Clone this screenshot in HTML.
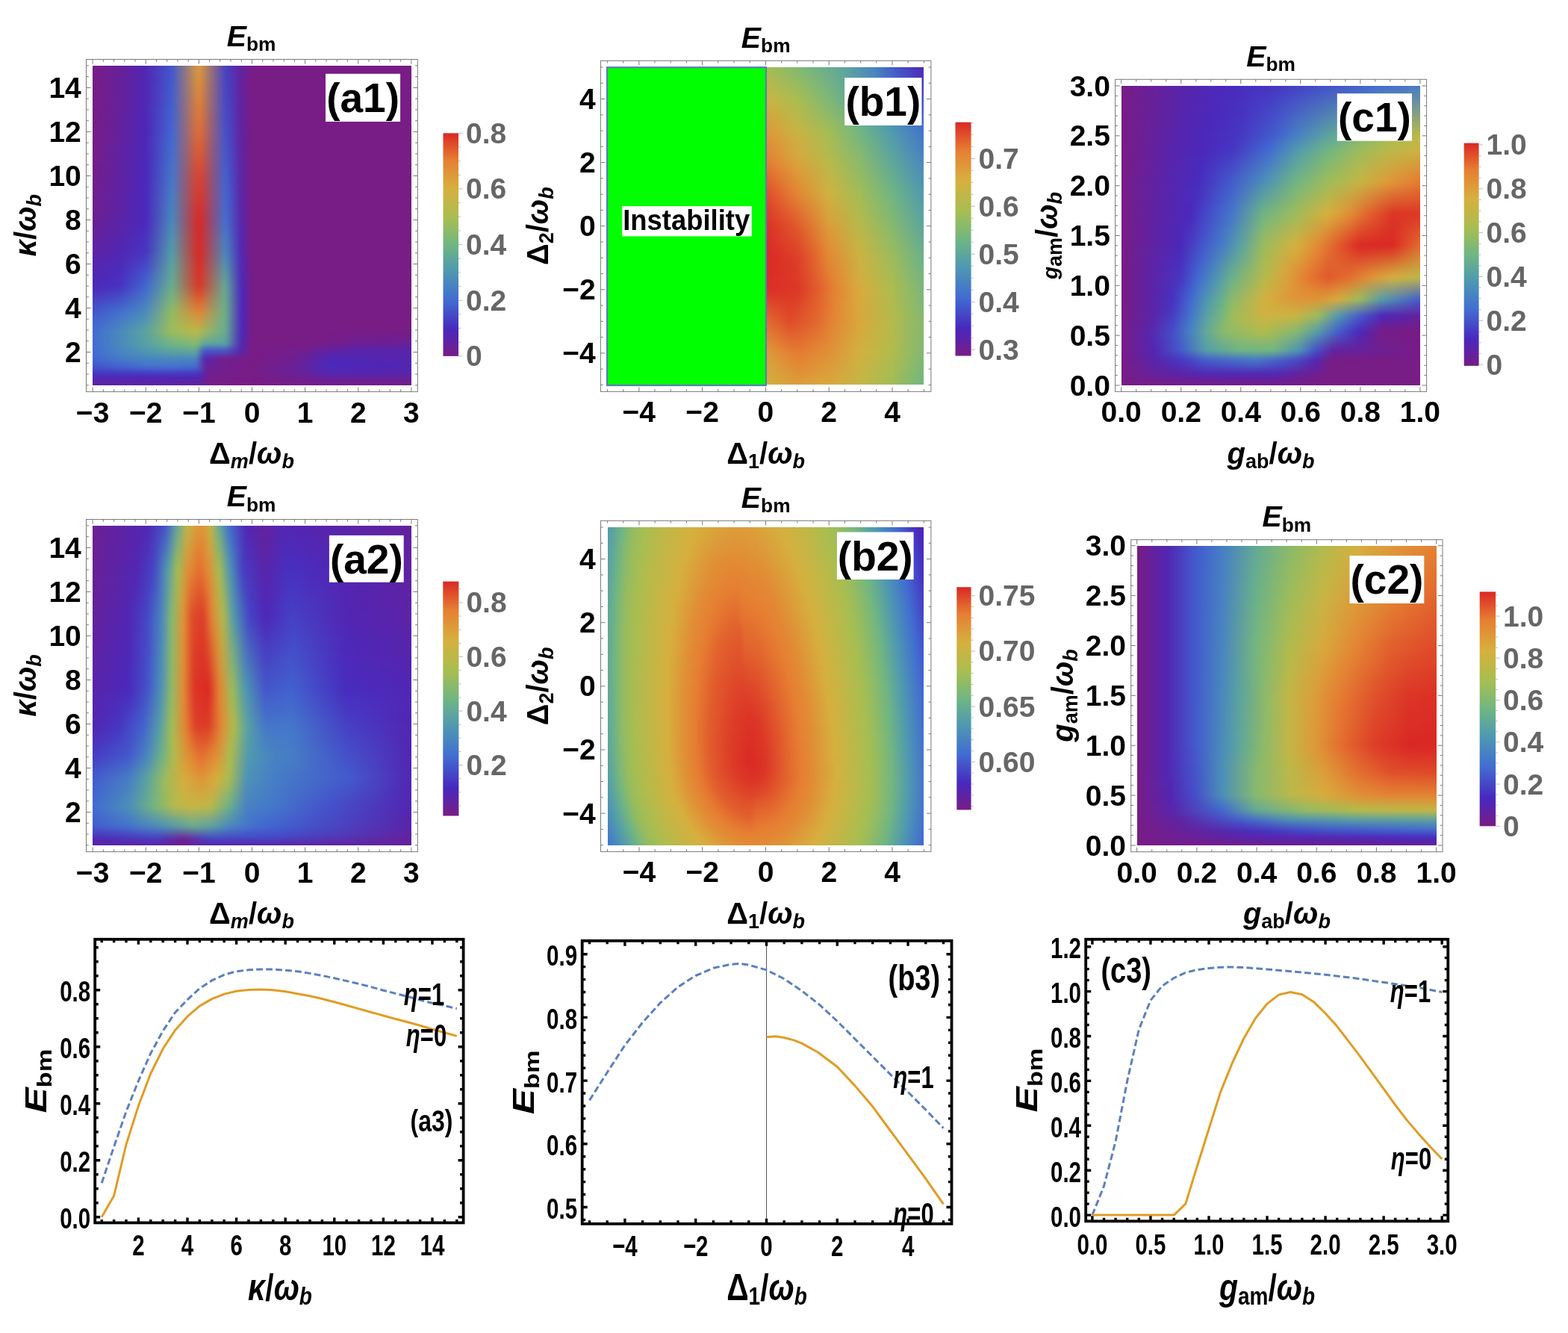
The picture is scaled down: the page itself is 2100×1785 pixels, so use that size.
<!DOCTYPE html><html><head><meta charset="utf-8"><title>Figure</title><style>html,body{margin:0;padding:0;background:#fff}#fig{position:relative;width:2100px;height:1785px;overflow:hidden;background:#fff;font-family:'Liberation Sans', Arial, sans-serif}.dp{position:absolute;overflow:hidden}.dpi{position:absolute}.dpi i{position:absolute;left:0;right:0;display:block}svg{position:absolute;left:0;top:0}</style></head><body><div id="fig"><div class="dp" style="left:124.1px;top:87.9px;width:426.8px;height:427.9px"><div class="dpi" style="left:-8px;top:-8px;width:442.8px;height:443.9px;filter:blur(2.2px)"><i style="top:0px;height:6.15px;background:linear-gradient(90deg,#781c86,#781c86 1.67%,#682098 10%,#5325b2 17.5%,#4356cb 25.83%,#d19744 33.33%,#d8993d 34.17%,#4b44c0 41.67%,#493dc1 42.5%,#64229d 46.67%,#781c86 50%,#781c86)"></i><i style="top:5.55px;height:6.15px;background:linear-gradient(90deg,#781c86,#781c86 1.67%,#682098 10%,#5325b2 17.5%,#4356cb 25.83%,#6264af 27.5%,#d19744 33.33%,#d8993d 34.17%,#4b44c0 41.67%,#493dc1 42.5%,#64229d 46.67%,#781c86 50%,#781c86)"></i><i style="top:11.1px;height:6.15px;background:linear-gradient(90deg,#781c86,#751d89 3.33%,#682099 10%,#5225b2 17.5%,#4357cc 25.83%,#d19444 33.33%,#d9963d 34.17%,#4b45c0 41.67%,#493ec1 42.5%,#64229e 46.67%,#781c86 50%,#781c86)"></i><i style="top:16.65px;height:6.15px;background:linear-gradient(90deg,#781c86,#781c86 1.67%,#682099 10%,#5225b2 17.5%,#4358cc 25.83%,#d29143 33.33%,#d9943c 34.17%,#4b46c0 41.67%,#493fc1 42.5%,#64229e 46.67%,#781c86 50%,#781c86)"></i><i style="top:22.2px;height:6.15px;background:linear-gradient(90deg,#781c86,#771c88 2.5%,#672099 10%,#5226b2 17.5%,#4d33ba 20%,#4359cc 25.83%,#d28f42 33.33%,#d9913b 34.17%,#4b47c1 41.67%,#4940c2 42.5%,#63229e 46.67%,#781c86 50%,#781c86)"></i><i style="top:27.74px;height:6.15px;background:linear-gradient(90deg,#781c86,#781c86 1.67%,#692097 9.17%,#5226b3 17.5%,#4e2eb8 19.17%,#435acd 25.83%,#d38c42 33.33%,#da8e3b 34.17%,#4b47c1 41.67%,#4841c2 42.5%,#63229f 46.67%,#781c86 50%,#781c86)"></i><i style="top:33.29px;height:6.15px;background:linear-gradient(90deg,#781c86,#781c86 1.67%,#67209a 10%,#5126b3 17.5%,#5029b6 18.33%,#435bcd 25.83%,#d38941 33.33%,#da8b3a 34.17%,#4b48c1 41.67%,#4842c2 42.5%,#63229f 46.67%,#781c86 50%,#781c86)"></i><i style="top:38.84px;height:6.15px;background:linear-gradient(90deg,#781c86,#781c86 1.67%,#67209a 10%,#5126b3 17.5%,#4f29b6 18.33%,#435ccd 25.83%,#d38741 33.33%,#db883a 34.17%,#4b49c2 41.67%,#4843c3 42.5%,#63229f 46.67%,#781c86 50%,#781c86)"></i><i style="top:44.39px;height:6.15px;background:linear-gradient(90deg,#781c86,#771c88 2.5%,#66209a 10%,#5126b4 17.5%,#4f29b6 18.33%,#435dce 25.83%,#5161bf 26.67%,#d48440 33.33%,#db8539 34.17%,#4b4ac2 41.67%,#4843c3 42.5%,#62229f 46.67%,#781c86 50%,#781c86)"></i><i style="top:49.94px;height:6.15px;background:linear-gradient(90deg,#781c86,#771c88 2.5%,#682098 9.17%,#5126b4 17.5%,#4f29b6 18.33%,#435ece 25.83%,#5162bf 26.67%,#d48140 33.33%,#dc8238 34.17%,#4a4bc2 41.67%,#4844c3 42.5%,#6222a0 46.67%,#781c86 50%,#781c86)"></i><i style="top:55.49px;height:6.15px;background:linear-gradient(90deg,#781c86,#781c86 1.67%,#6d1f92 6.67%,#64219e 10.83%,#5026b4 17.5%,#4f29b7 18.33%,#425fce 25.83%,#d57f3f 33.33%,#dc8038 34.17%,#4a4cc2 41.67%,#4845c3 42.5%,#6222a0 46.67%,#781c86 50%,#781c86)"></i><i style="top:61.04px;height:6.15px;background:linear-gradient(90deg,#781c86,#781c86 1.67%,#6f1e90 5.83%,#66219b 10%,#5026b4 17.5%,#4260ce 25.83%,#d57c3f 33.33%,#dc7d37 34.17%,#4a4dc3 41.67%,#4846c4 42.5%,#6222a0 46.67%,#781c86 50%,#781c86)"></i><i style="top:66.59px;height:6.15px;background:linear-gradient(90deg,#781c86,#781c86 1.67%,#672099 9.17%,#5026b5 17.5%,#4261cf 25.83%,#d5793e 33.33%,#dd7a37 34.17%,#4a4ec3 41.67%,#4847c4 42.5%,#6123a1 46.67%,#781c86 50%,#781c86)"></i><i style="top:72.13px;height:6.15px;background:linear-gradient(90deg,#781c86,#781c86 1.67%,#711e8e 5%,#5026b5 17.5%,#4d30ba 19.17%,#4262cf 25.83%,#d6773d 33.33%,#dd7736 34.17%,#4a4ec3 41.67%,#4748c4 42.5%,#6123a1 46.67%,#781c86 50%,#781c86)"></i><i style="top:77.68px;height:6.15px;background:linear-gradient(90deg,#781c86,#781c86 1.67%,#731d8c 4.17%,#5026b5 17.5%,#4c30bb 19.17%,#4263cf 25.83%,#d6743d 33.33%,#de7435 34.17%,#4a4fc3 41.67%,#4749c5 42.5%,#6123a1 46.67%,#781c86 50%,#781c86)"></i><i style="top:83.23px;height:6.15px;background:linear-gradient(90deg,#781c86,#781c86 1.67%,#6b1f95 7.5%,#4f26b6 17.5%,#4c30bb 19.17%,#4264d0 25.83%,#d7713c 33.33%,#de7135 34.17%,#4a50c4 41.67%,#474ac5 42.5%,#6123a1 46.67%,#781c86 50%,#781c86)"></i><i style="top:88.78px;height:6.15px;background:linear-gradient(90deg,#781c86,#781c86 1.67%,#6d1f93 6.67%,#4f26b6 17.5%,#4d2ab8 18.33%,#4265d0 25.83%,#d76f3c 33.33%,#df6f34 34.17%,#4a51c4 41.67%,#474bc5 42.5%,#6023a2 46.67%,#781c86 50%,#781c86)"></i><i style="top:94.33px;height:6.15px;background:linear-gradient(90deg,#781c86,#741d8a 3.33%,#4f26b6 17.5%,#4d2ab9 18.33%,#4266d0 25.83%,#d76c3b 33.33%,#df6c34 34.17%,#4a52c4 41.67%,#474cc6 42.5%,#6023a2 46.67%,#781c86 50%,#781c86)"></i><i style="top:99.88px;height:6.15px;background:linear-gradient(90deg,#781c86,#761d88 2.5%,#64219d 10%,#4e26b7 17.5%,#4d2ab9 18.33%,#4268d0 25.83%,#d7683b 33.33%,#de6833 34.17%,#4a53c5 41.67%,#474dc6 42.5%,#6023a2 46.67%,#781c86 50%,#781c86)"></i><i style="top:105.43px;height:6.15px;background:linear-gradient(90deg,#771c87,#771c87 1.67%,#721e8d 4.17%,#4e26b7 17.5%,#4269cf 25.83%,#d6653a 33.33%,#de6432 34.17%,#4955c5 41.67%,#474ec6 42.5%,#5f23a3 46.67%,#781c86 50%,#781c86)"></i><i style="top:110.97px;height:6.15px;background:linear-gradient(90deg,#771c87,#751d89 2.5%,#4e27b7 17.5%,#4c2bba 18.33%,#426bce 25.83%,#6269af 27.5%,#d66239 33.33%,#dd6032 34.17%,#4956c5 41.67%,#4650c7 42.5%,#5f23a3 46.67%,#781c86 50%,#781c86)"></i><i style="top:116.52px;height:6.15px;background:linear-gradient(90deg,#771c88,#771c88 1.67%,#711e8e 4.17%,#4d27b8 17.5%,#4c2bba 18.33%,#436cce 25.83%,#d55e39 33.33%,#dd5d31 34.17%,#4957c6 41.67%,#4651c7 42.5%,#5f23a4 46.67%,#781c86 50%,#781c86)"></i><i style="top:122.07px;height:6.15px;background:linear-gradient(90deg,#761c88,#731d8c 3.33%,#4d27b8 17.5%,#4b2bbb 18.33%,#436ecd 25.83%,#d55b38 33.33%,#dc5931 34.17%,#4959c6 41.67%,#4653c8 42.5%,#5e24a4 46.67%,#781c86 50%,#781c86)"></i><i style="top:127.62px;height:6.15px;background:linear-gradient(90deg,#761d89,#761d89 1.67%,#6e1e91 5%,#4d27b9 17.5%,#4b2bbb 18.33%,#436fcd 25.83%,#d55737 33.33%,#dc5530 34.17%,#495ac7 41.67%,#4654c8 42.5%,#5e24a4 46.67%,#781c86 50%,#781c86)"></i><i style="top:133.17px;height:6.15px;background:linear-gradient(90deg,#751d89,#721e8d 3.33%,#4c27b9 17.5%,#4b2bbb 18.33%,#4371cc 25.83%,#d45437 33.33%,#db522f 34.17%,#495bc7 41.67%,#4655c9 42.5%,#5e24a5 46.67%,#781c86 50%,#781c86)"></i><i style="top:138.72px;height:6.15px;background:linear-gradient(90deg,#751d89,#731d8b 2.5%,#4c27b9 17.5%,#4a33bd 19.17%,#4472cc 25.83%,#626bac 27.5%,#d45036 33.33%,#db4e2f 34.17%,#485dc8 41.67%,#4657c9 42.5%,#5d24a5 46.67%,#781c86 50%,#781c86)"></i><i style="top:144.27px;height:6.15px;background:linear-gradient(90deg,#751d8a,#751d8a 1.67%,#6f1e90 4.17%,#4c27ba 17.5%,#4a2cbc 18.33%,#4474cb 25.83%,#d34d36 33.33%,#da4a2e 34.17%,#485ec8 41.67%,#4558ca 42.5%,#5d24a6 46.67%,#781c86 50%,#781c86)"></i><i style="top:149.82px;height:6.15px;background:linear-gradient(90deg,#741d8a,#741d8a 1.67%,#6b1f95 5.83%,#4b27ba 17.5%,#4a2cbc 18.33%,#4475ca 25.83%,#d34935 33.33%,#da462e 34.17%,#485fc8 41.67%,#4559ca 42.5%,#5d24a6 46.67%,#781c86 50%,#781c86)"></i><i style="top:155.37px;height:6.15px;background:linear-gradient(90deg,#741d8b,#741d8b 1.67%,#6e1e91 4.17%,#4b27bb 17.5%,#4934be 19.17%,#4477ca 25.83%,#d24634 33.33%,#d9432d 34.17%,#4861c9 41.67%,#455bca 42.5%,#5c24a7 46.67%,#781c86 50%,#781c86)"></i><i style="top:160.91px;height:6.15px;background:linear-gradient(90deg,#731d8c,#731d8c 1.67%,#6c1f94 5%,#4b27bb 17.5%,#4a2cbc 18.33%,#4578c8 25.83%,#d24434 33.33%,#d9412d 34.17%,#4862c9 41.67%,#455cca 42.5%,#5c24a7 46.67%,#781c86 50%,#781c86)"></i><i style="top:166.46px;height:6.15px;background:linear-gradient(90deg,#721d8d,#711e8e 2.5%,#6022a2 10%,#4b27bb 17.5%,#4a2cbc 18.33%,#457ac7 25.83%,#d24233 33.33%,#d83e2c 34.17%,#4863c9 41.67%,#455dca 42.5%,#5c25a7 46.67%,#781c86 50%,#781c86)"></i><i style="top:172.01px;height:6.15px;background:linear-gradient(90deg,#721e8d,#721e8d 1.67%,#63219e 8.33%,#4b27bb 17.5%,#4a2cbc 18.33%,#467cc6 25.83%,#d13f33 33.33%,#d83c2c 34.17%,#4864c9 41.67%,#455ecb 42.5%,#5b25a8 46.67%,#781c86 50%,#781c86)"></i><i style="top:177.56px;height:6.15px;background:linear-gradient(90deg,#711e8e,#711e8e 1.67%,#6a2096 5%,#4b27bb 17.5%,#4a2cbc 18.33%,#467dc5 25.83%,#d13d32 33.33%,#d8392b 34.17%,#4865c9 41.67%,#4560cb 42.5%,#5b25a8 46.67%,#781c86 50%,#781c86)"></i><i style="top:183.11px;height:6.15px;background:linear-gradient(90deg,#701e8f,#6f1e91 2.5%,#62219f 8.33%,#4b27bb 17.5%,#4a2dbc 18.33%,#477fc4 25.83%,#d13b32 33.33%,#d7372b 34.17%,#4867c9 41.67%,#4561cb 42.5%,#5b25a9 46.67%,#781c86 50%,#781c86)"></i><i style="top:188.66px;height:6.15px;background:linear-gradient(90deg,#6f1e90,#6f1e90 1.67%,#6b1f96 4.17%,#5e22a4 10%,#4b27bb 17.5%,#4a2dbc 18.33%,#4780c2 25.83%,#d03932 33.33%,#d7342b 34.17%,#4868c9 41.67%,#4562cb 42.5%,#5a25a9 46.67%,#781c86 50%,#781c86)"></i><i style="top:194.21px;height:6.15px;background:linear-gradient(90deg,#6f1e91,#6d1f92 2.5%,#6022a2 9.17%,#4b27bb 17.5%,#4a36bd 19.17%,#4882c1 25.83%,#d03631 33.33%,#d7322a 34.17%,#4869c9 41.67%,#4563cb 42.5%,#5a25a9 46.67%,#781c86 50%,#781c86)"></i><i style="top:199.75px;height:6.15px;background:linear-gradient(90deg,#6e1e92,#6d1f93 2.5%,#5b23a7 10.83%,#4b27bb 17.5%,#4a2dbc 18.33%,#4884c0 25.83%,#d03431 33.33%,#d62f2a 34.17%,#486ac9 41.67%,#4565cb 42.5%,#5925aa 46.67%,#781c86 50%,#781c86)"></i><i style="top:205.3px;height:6.15px;background:linear-gradient(90deg,#6d1f92,#6d1f92 1.67%,#6122a1 8.33%,#4b27bb 17.5%,#4a2dbc 18.33%,#4985bf 25.83%,#577eb0 26.67%,#d03230 33.33%,#d62d29 34.17%,#486bc9 41.67%,#4566cb 42.5%,#5925aa 46.67%,#781c86 50%,#781c86)"></i><i style="top:210.85px;height:6.15px;background:linear-gradient(90deg,#6d1f93,#6d1f93 1.67%,#66209a 5%,#4b27bb 17.5%,#4a2dbc 18.33%,#4987be 25.83%,#cf3030 33.33%,#d62a29 34.17%,#486dc9 41.67%,#4567cb 42.5%,#5926ab 46.67%,#781c86 50%,#781c86)"></i><i style="top:216.4px;height:6.15px;background:linear-gradient(90deg,#6b1f95,#6b1f95 1.67%,#5f22a3 8.33%,#4a29bb 17.5%,#4a2fbc 18.33%,#4b8abb 25.83%,#cf2f2f 33.33%,#d62a29 34.17%,#486fc7 41.67%,#4569ca 42.5%,#5826ac 46.67%,#781c86 50%,#781c86)"></i><i style="top:221.95px;height:6.15px;background:linear-gradient(90deg,#692098,#63219e 5%,#4a2abc 17.5%,#4930bd 18.33%,#4c8cb9 25.83%,#5984ab 26.67%,#cf302f 33.33%,#d62a29 34.17%,#4972c5 41.67%,#466cc8 42.5%,#5726ad 46.67%,#781c86 50%,#781c86)"></i><i style="top:227.5px;height:6.15px;background:linear-gradient(90deg,#67209a,#66219b 2.5%,#5a23a9 9.17%,#492cbd 17.5%,#4932be 18.33%,#4d8fb6 25.83%,#cf302f 33.33%,#d62a29 34.17%,#4a75c3 41.67%,#476fc6 42.5%,#5626ae 46.67%,#781c86 50%,#781c86)"></i><i style="top:233.05px;height:6.15px;background:linear-gradient(90deg,#65219c,#64219d 2.5%,#5724ac 10%,#492ebe 17.5%,#493ebd 19.17%,#4f92b3 25.83%,#d0302f 33.33%,#d62a29 34.17%,#4b78c1 41.67%,#4772c4 42.5%,#5527af 46.67%,#781c86 50%,#781c86)"></i><i style="top:238.6px;height:6.15px;background:linear-gradient(90deg,#63219e,#63219e 1.67%,#5724ac 9.17%,#4930bf 17.5%,#4940bd 19.17%,#5094b1 25.83%,#6c8095 27.5%,#d0302f 33.33%,#d62a29 34.17%,#4c7bbf 41.67%,#4875c2 42.5%,#5427b0 46.67%,#781c86 50%,#781c86)"></i><i style="top:244.15px;height:6.15px;background:linear-gradient(90deg,#6122a1,#5f22a3 3.33%,#5425b0 10%,#4831c0 17.5%,#4942bd 19.17%,#5297ae 25.83%,#d0302e 33.33%,#d62b29 34.17%,#4d7ebc 41.67%,#4977c0 42.5%,#5327b1 46.67%,#781c86 50%,#781c86)"></i><i style="top:249.69px;height:6.15px;background:linear-gradient(90deg,#5f22a3,#5d23a5 3.33%,#5325b1 10%,#4833c0 17.5%,#4944be 19.17%,#539aac 25.83%,#d0312e 33.33%,#d62b28 34.17%,#4e81ba 41.67%,#497abe 42.5%,#5228b2 46.67%,#781c86 50%,#781c86)"></i><i style="top:255.24px;height:6.15px;background:linear-gradient(90deg,#5d23a5,#5c23a6 2.5%,#5325b1 9.17%,#4735c1 17.5%,#473bc0 18.33%,#549da9 25.83%,#d0312e 33.33%,#d62b28 34.17%,#4f84b8 41.67%,#4a7dbd 42.5%,#5228b3 46.67%,#781c86 50%,#781c86)"></i><i style="top:260.79px;height:6.15px;background:linear-gradient(90deg,#5b23a7,#5b23a8 2.5%,#5027b5 10%,#473ac3 17.5%,#494bbf 19.17%,#579fa6 25.83%,#639599 26.67%,#d0322e 33.33%,#d62c29 34.17%,#5188b4 41.67%,#4d81b9 42.5%,#5128b4 46.67%,#781c86 50%,#781c86)"></i><i style="top:266.34px;height:6.15px;background:linear-gradient(90deg,#5a24aa,#4f29b6 10%,#4640c5 17.5%,#4747c3 18.33%,#59a1a2 25.83%,#669796 26.67%,#d1342e 33.33%,#d62e29 34.17%,#548caf 41.67%,#4f84b4 42.5%,#5029b5 46.67%,#781c86 50%,#781c86)"></i><i style="top:271.89px;height:6.15px;background:linear-gradient(90deg,#5824ac,#4e2ab8 10%,#4546c6 17.5%,#464cc5 18.33%,#5ba39f 25.83%,#689993 26.67%,#d1362e 33.33%,#d73029 34.17%,#5790aa 41.67%,#5288b0 42.5%,#503cb5 45.83%,#4f29b6 46.67%,#781c86 50%,#781c86)"></i><i style="top:277.44px;height:6.15px;background:linear-gradient(90deg,#5625ae,#4c2bba 10%,#454cc8 17.5%,#4652c6 18.33%,#5ea59c 25.83%,#6a9b90 26.67%,#d2382e 33.33%,#d73229 34.17%,#5a95a5 41.67%,#558cab 42.5%,#4e29b7 46.67%,#781c86 50%,#781c86)"></i><i style="top:282.99px;height:6.15px;background:linear-gradient(90deg,#5425b0,#4c2bba 9.17%,#454dc8 16.67%,#4558c8 18.33%,#60a798 25.83%,#6c9d8d 26.67%,#d2392e 33.33%,#d73329 34.17%,#5d99a0 41.67%,#5790a7 42.5%,#4d2ab8 46.67%,#5624ad 47.5%,#781c86 50%,#781c86)"></i><i style="top:288.54px;height:6.15px;background:linear-gradient(90deg,#5226b3,#5126b3 2.5%,#4a2ebd 10%,#4357cc 17.5%,#4867c4 19.17%,#62aa95 25.83%,#d23b2e 33.33%,#d83529 34.17%,#619d9b 41.67%,#5a94a3 42.5%,#4c2ab9 46.67%,#781c86 50%,#781c86)"></i><i style="top:294.08px;height:6.15px;background:linear-gradient(90deg,#5026b5,#4930bf 10%,#435dce 17.5%,#4464cb 18.33%,#65ac92 25.83%,#d33d2e 33.33%,#d83729 34.17%,#64a197 41.67%,#5d979e 42.5%,#4b2aba 46.67%,#5525af 47.5%,#781c86 50%,#781c86)"></i><i style="top:299.63px;height:6.15px;background:linear-gradient(90deg,#4e26b7,#4731c1 10%,#4263cf 17.5%,#446acc 18.33%,#67ae8f 25.83%,#d33f2e 33.33%,#d83929 34.17%,#67a592 41.67%,#5f9b9a 42.5%,#4b2bbb 46.67%,#5425b0 47.5%,#781c86 50%,#781c86)"></i><i style="top:305.18px;height:6.15px;background:linear-gradient(90deg,#4c2dba,#4b2fbc 3.33%,#463ac3 10%,#4369cd 17.5%,#4570c9 18.33%,#6db088 25.83%,#d5492f 33.33%,#da442b 34.17%,#68a790 41.67%,#619c98 42.5%,#4b2bbb 46.67%,#5425b0 47.5%,#781c86 50%,#781c86)"></i><i style="top:310.73px;height:6.15px;background:linear-gradient(90deg,#4b35bd,#4a37bf 3.33%,#4644c5 10%,#446fca 17.5%,#4775c6 18.33%,#74b281 25.83%,#d65431 33.33%,#db4f2d 34.17%,#69a98e 41.67%,#629d96 42.5%,#4b2bbb 46.67%,#5425b0 47.5%,#781c86 50%,#781c86)"></i><i style="top:316.28px;height:6.15px;background:linear-gradient(90deg,#493cc0,#493dc1 2.5%,#454bc7 9.17%,#4575c7 17.5%,#497bc2 18.33%,#7bb47b 25.83%,#d86032 33.33%,#dc5b2f 34.17%,#6baa8c 41.67%,#639e95 42.5%,#4b2bbb 46.67%,#5425b0 47.5%,#781c86 50%,#781c86)"></i><i style="top:321.83px;height:6.15px;background:linear-gradient(90deg,#4744c4,#4745c4 2.5%,#4457c9 10%,#477bc4 17.5%,#4a80bf 18.33%,#82b674 25.83%,#da6b33 33.33%,#dd6731 34.17%,#6cac8b 41.67%,#649f93 42.5%,#4b2bbb 46.67%,#5425b0 47.5%,#781c86 50%,#781c86)"></i><i style="top:327.38px;height:6.15px;background:linear-gradient(90deg,#464bc7,#464bc7 1.67%,#4361cc 10%,#4881c1 17.5%,#538cb3 19.17%,#89b86d 25.83%,#dc7735 33.33%,#df7333 34.17%,#6dad89 41.67%,#65a092 42.5%,#4b2bbb 46.67%,#5425b0 47.5%,#781c86 50%,#781c86)"></i><i style="top:332.93px;height:6.15px;background:linear-gradient(90deg,#4452ca,#4452ca 1.67%,#436bce 10%,#4987bd 17.5%,#4e8cb8 18.33%,#90ba66 25.83%,#dd8236 33.33%,#e07f35 34.17%,#6eaf87 41.67%,#66a190 42.5%,#4b2bbb 46.67%,#5425b0 47.5%,#781c86 50%,#781c86)"></i><i style="top:338.47px;height:6.15px;background:linear-gradient(90deg,#4359cc,#435bcc 2.5%,#4373cd 10%,#4c8db9 17.5%,#5091b3 18.33%,#94bb62 25.83%,#d3933d 32.5%,#da8d39 33.33%,#db8b39 34.17%,#6eaf87 41.67%,#66a290 42.5%,#4b2bbb 46.67%,#5425b0 47.5%,#781c86 50%,#781c86)"></i><i style="top:344.02px;height:6.15px;background:linear-gradient(90deg,#425ece,#4362cd 3.33%,#4578c9 10%,#4f92b3 17.5%,#5b9aa5 19.17%,#96bb60 25.83%,#d2983d 33.33%,#d1963f 34.17%,#6daf89 41.67%,#65a191 42.5%,#4b2bbb 46.67%,#5425b0 47.5%,#781c86 50%,#781c86)"></i><i style="top:349.57px;height:6.15px;background:linear-gradient(90deg,#4262cf,#4262cf 1.67%,#467ec5 10%,#5397ad 17.5%,#579ba8 18.33%,#98bc5e 25.83%,#caa341 33.33%,#c7a145 34.17%,#6bae8b 41.67%,#64a093 42.5%,#4b2bbb 46.67%,#5425b0 47.5%,#781c86 50%,#781c86)"></i><i style="top:355.12px;height:6.15px;background:linear-gradient(90deg,#4167d1,#4167d1 1.67%,#4780c3 9.17%,#569da8 17.5%,#9abc5c 25.83%,#c0af47 32.5%,#c2ad46 33.33%,#bcac4b 34.17%,#6aad8d 41.67%,#639f95 42.5%,#4b2bbb 46.67%,#5425b0 47.5%,#781c86 50%,#781c86)"></i><i style="top:360.67px;height:6.15px;background:linear-gradient(90deg,#416cd2,#426ed0 2.5%,#4a89bd 10%,#59a2a2 17.5%,#5ea49d 18.33%,#9cbc5b 25.83%,#b9b84a 32.5%,#bab84a 33.33%,#68ad8f 41.67%,#629e96 42.5%,#4b2bbb 46.67%,#5425b0 47.5%,#781c86 50%,#781c86)"></i><i style="top:366.22px;height:6.15px;background:linear-gradient(90deg,#416cd2,#426ed0 2.5%,#467dc6 6.67%,#4b8bba 10.83%,#59a1a3 17.5%,#5ca39f 18.33%,#8dba68 25.83%,#a7b857 32.5%,#a7b857 33.33%,#8cb171 35.83%,#63a995 41.67%,#5f9b9a 42.5%,#4d2ab8 46.67%,#5624ad 47.5%,#781c86 50%,#781c86 70%,#741d8b 82.5%,#731d8c)"></i><i style="top:371.77px;height:6.15px;background:linear-gradient(90deg,#416cd2,#426ed0 2.5%,#4b8bba 10.83%,#58a0a5 17.5%,#7eb876 25.83%,#95b964 32.5%,#95b865 33.33%,#76ad84 35.83%,#5fa69b 41.67%,#5c989f 42.5%,#5029b5 46.67%,#5824ab 47.5%,#781c86 50%,#781c86 69.17%,#701e90 84.17%,#6e1f92)"></i><i style="top:377.31px;height:6.15px;background:linear-gradient(90deg,#416cd2,#426ed0 2.5%,#4c8eb8 11.67%,#559da9 16.67%,#6fb583 25.83%,#84b971 32.5%,#82b772 33.33%,#6aac8e 35%,#61a797 35.83%,#5aa1a1 41.67%,#5993a4 42.5%,#5229b2 46.67%,#5a23a9 47.5%,#781c86 50%,#781c86 69.17%,#6c1f94 81.67%,#682098)"></i><i style="top:382.86px;height:6.15px;background:linear-gradient(90deg,#416cd2,#426ed0 2.5%,#4a89bd 10.83%,#559fa7 19.17%,#65ad91 25.83%,#70b186 32.5%,#6eac89 33.33%,#5685ad 35%,#4e78b9 35.83%,#4b76bd 41.67%,#4c6dbc 42.5%,#5128b3 46.67%,#781c86 50%,#731d8b 65%,#692098 73.33%,#6022a2 82.5%,#5f22a3)"></i><i style="top:388.41px;height:6.15px;background:linear-gradient(90deg,#416bd2,#416bd2 1.67%,#4781c3 9.17%,#5299ae 20%,#5ba1a0 25.83%,#5fa59a 32.5%,#5e9e9e 33.33%,#4b64be 35%,#4651c8 35.83%,#4c50c1 41.67%,#4d4bbf 42.5%,#5825ab 46.67%,#781c86 50%,#721e8d 62.5%,#6f1e91 65.83%,#5d23a5 74.17%,#5924ab 80.83%,#5924ab)"></i><i style="top:393.96px;height:6.15px;background:linear-gradient(90deg,#4168d1,#4168d1 1.67%,#467ec5 10%,#4a8bbb 17.5%,#5193b1 26.67%,#5294af 32.5%,#528cb0 33.33%,#4e4cb9 35%,#4e37ba 35.83%,#6032a5 40%,#6330a1 42.5%,#6a2097 46.67%,#781c86 50%,#711e8e 62.5%,#5425b0 74.17%,#5724ad)"></i><i style="top:399.51px;height:6.15px;background:linear-gradient(90deg,#4263cf,#4263cf 1.67%,#4576c9 10%,#4781c3 18.33%,#4884c1 24.17%,#4883c0 32.5%,#497bbf 33.33%,#513cb4 35%,#5626ae 35.83%,#6e1e91 40%,#711e8f 40.83%,#781c86 50%,#6f1e90 62.5%,#4d27b8 74.17%,#5126b3 82.5%,#5525af)"></i><i style="top:405.06px;height:6.15px;background:linear-gradient(90deg,#4359cc,#435acc 2.5%,#4368cc 9.17%,#4476cb 18.33%,#4579c9 25.83%,#4574c9 32.5%,#466dc7 33.33%,#563cb0 35%,#5f28a5 35.83%,#65219c 36.67%,#701e8f 40.83%,#781c86 50%,#6c1f94 62.5%,#4a29bc 74.17%,#4f26b5 82.5%,#5325b1)"></i><i style="top:410.61px;height:6.15px;background:linear-gradient(90deg,#444dc9,#4451ca 5%,#4265d0 18.33%,#4368cd 25.83%,#4360ce 32.5%,#455ccb 33.33%,#65299e 35.83%,#6d1f93 36.67%,#781c86 50%,#692097 62.5%,#4a2abc 74.17%,#4f26b5 83.33%,#5325b1)"></i><i style="top:416.16px;height:6.15px;background:linear-gradient(90deg,#4637c2,#4640c5 19.17%,#4740c3 25.83%,#473cc3 31.67%,#483ac1 33.33%,#4e34ba 34.17%,#6b1f95 36.67%,#701e90 37.5%,#781c86 50%,#6a2096 63.33%,#5426b0 74.17%,#5924aa)"></i><i style="top:421.7px;height:6.15px;background:linear-gradient(90deg,#4d29b9,#4e27b7 32.5%,#5126b3 34.17%,#6c1f94 36.67%,#721e8d 37.5%,#781c86 49.17%,#6e1e91 62.5%,#6c1f95 65.83%,#5f22a4 74.17%,#6222a0)"></i><i style="top:427.25px;height:6.15px;background:linear-gradient(90deg,#5825ab,#5725ad 21.67%,#5924aa 33.33%,#5b23a7 34.17%,#711e8f 36.67%,#751d8a 37.5%,#781c86 48.33%,#721e8d 65.83%,#6b1f95 74.17%,#6d1f93)"></i><i style="top:432.8px;height:6.15px;background:linear-gradient(90deg,#64219d,#6022a1 17.5%,#64219e 32.5%,#66219b 34.17%,#781c86 37.5%,#771c87)"></i><i style="top:438.35px;height:6.15px;background:linear-gradient(90deg,#65219c,#6122a1 16.67%,#65219d 33.33%,#66209b 34.17%,#751d89 36.67%,#781c86 37.5%,#781c86)"></i></div></div><div class="dp" style="left:813.4px;top:90px;width:424px;height:425.4px"><div class="dpi" style="left:-8px;top:-8px;width:440px;height:441.4px;filter:blur(2.2px)"><i style="top:0px;height:6.12px;background:linear-gradient(90deg,#00ff00,#00ff00 49.17%,#a6be52 50%,#79b77a 62.5%,#5da59d 74.17%,#4883c1 83.33%,#445ac9 89.17%,#444fc9 90.83%,#5029b5 97.5%,#5226b3 98.33%,#5226b3)"></i><i style="top:5.52px;height:6.12px;background:linear-gradient(90deg,#00ff00,#00ff00 49.17%,#a6be52 50%,#79b77a 62.5%,#5da59d 74.17%,#4883c1 83.33%,#445ac9 89.17%,#444fc9 90.83%,#5226b3 98.33%,#5226b3)"></i><i style="top:11.04px;height:6.12px;background:linear-gradient(90deg,#00ff00,#00ff00 49.17%,#abbc50 50%,#7eb876 62.5%,#5fa69b 74.17%,#4985bf 83.33%,#4459c9 90%,#502bb6 98.33%,#502bb6)"></i><i style="top:16.55px;height:6.12px;background:linear-gradient(90deg,#00ff00,#00ff00 49.17%,#b0bb4e 50%,#86b96f 61.67%,#61a799 74.17%,#4a87bd 83.33%,#4568c7 88.33%,#4558c8 90.83%,#4d33ba 97.5%,#4e30b9 98.33%,#4e30b9)"></i><i style="top:22.07px;height:6.12px;background:linear-gradient(90deg,#00ff00,#00ff00 49.17%,#b4ba4c 50%,#94bb62 59.17%,#8aba6b 61.67%,#6fb087 70%,#60a69a 75%,#4c89bb 83.33%,#4771c5 87.5%,#455dc8 90.83%,#4c38bc 97.5%,#4c35bb 98.33%,#4c35bb)"></i><i style="top:27.59px;height:6.12px;background:linear-gradient(90deg,#00ff00,#00ff00 49.17%,#b9b84a 50%,#96bb60 60%,#8cba6a 62.5%,#74b381 69.17%,#62a797 75%,#4d8bb9 83.33%,#4670c6 88.33%,#4561c7 90.83%,#4b39be 98.33%,#4b39be)"></i><i style="top:33.11px;height:6.12px;background:linear-gradient(90deg,#00ff00,#00ff00 49.17%,#beb748 50%,#a1bb58 58.33%,#94bb62 61.67%,#74b381 70%,#5fa49c 76.67%,#4e8db7 83.33%,#4674c6 88.33%,#4566c7 90.83%,#493ec1 98.33%,#493ec1)"></i><i style="top:38.62px;height:6.12px;background:linear-gradient(90deg,#00ff00,#00ff00 49.17%,#c3b646 50%,#a0bc58 60%,#79b67b 69.17%,#71b185 71.67%,#5aa1a1 78.33%,#5192b2 82.5%,#4678c5 88.33%,#456ac7 90.83%,#4743c4 98.33%,#4743c4)"></i><i style="top:44.14px;height:6.12px;background:linear-gradient(90deg,#00ff00,#00ff00 49.17%,#c8b444 50%,#a8bd51 59.17%,#80b874 68.33%,#76b47f 70.83%,#5ca39f 78.33%,#467cc5 88.33%,#4548c7 98.33%,#4548c7)"></i><i style="top:49.66px;height:6.12px;background:linear-gradient(90deg,#00ff00,#00ff00 49.17%,#ccb242 50%,#a9bd50 60%,#7cb778 70%,#5ba3a0 79.17%,#4780c3 88.33%,#444dc9 98.33%,#444dc9)"></i><i style="top:55.17px;height:6.12px;background:linear-gradient(90deg,#00ff00,#00ff00 49.17%,#ceaf41 50%,#adbc4f 60%,#84b970 69.17%,#77b37f 72.5%,#5da59c 79.17%,#4883c1 88.33%,#4452c9 98.33%,#4452c9)"></i><i style="top:60.69px;height:6.12px;background:linear-gradient(90deg,#00ff00,#00ff00 49.17%,#d1ab3f 50%,#b1bb4d 60%,#8cba69 68.33%,#82b773 70.83%,#60a898 79.17%,#4a87be 88.33%,#4457ca 98.33%,#4457ca)"></i><i style="top:66.21px;height:6.12px;background:linear-gradient(90deg,#00ff00,#00ff00 49.17%,#d3a83e 50%,#b5ba4b 60%,#86b86f 70.83%,#63aa94 79.17%,#4b8abb 88.33%,#4460c9 97.5%,#445dca)"></i><i style="top:71.73px;height:6.12px;background:linear-gradient(90deg,#00ff00,#00ff00 49.17%,#d5a43d 50%,#bcb748 59.17%,#b5b94c 60.83%,#96bb61 68.33%,#87b86f 71.67%,#66ad91 79.17%,#4c8eb8 88.33%,#4465ca 97.5%,#4462cb)"></i><i style="top:77.25px;height:6.12px;background:linear-gradient(90deg,#00ff00,#00ff00 49.17%,#d8a03b 50%,#bfb647 59.17%,#93bb63 70%,#6cb189 78.33%,#4d91b6 88.33%,#4367cc 98.33%,#4367cc)"></i><i style="top:82.76px;height:6.12px;background:linear-gradient(90deg,#00ff00,#00ff00 49.17%,#da9d3a 50%,#c3b545 59.17%,#9bbc5b 69.17%,#93bb63 70.83%,#6bb289 79.17%,#4e95b3 88.33%,#436ccc 98.33%,#436ccc)"></i><i style="top:88.28px;height:6.12px;background:linear-gradient(90deg,#00ff00,#00ff00 49.17%,#dd9939 50%,#c7b444 59.17%,#a0bd57 69.17%,#98bc5f 70.83%,#72b681 78.33%,#529bac 87.5%,#4371cd 98.33%,#4371cd)"></i><i style="top:93.8px;height:6.12px;background:linear-gradient(90deg,#00ff00,#00ff00 49.17%,#de9638 50%,#cab242 59.17%,#a4bd55 69.17%,#93bb63 72.5%,#71b681 79.17%,#519bad 88.33%,#4577ca 97.5%,#4475cc)"></i><i style="top:99.31px;height:6.12px;background:linear-gradient(90deg,#00ff00,#00ff00 49.17%,#df9237 50%,#cab143 60%,#a7bc53 69.17%,#85b970 75.83%,#75b67e 79.17%,#549daa 88.33%,#457ac7 97.5%,#4478ca)"></i><i style="top:104.83px;height:6.12px;background:linear-gradient(90deg,#00ff00,#00ff00 49.17%,#e08e36 50%,#cfad40 59.17%,#aabc52 69.17%,#78b77b 79.17%,#569fa7 88.33%,#457ac8 98.33%,#457ac8)"></i><i style="top:110.35px;height:6.12px;background:linear-gradient(90deg,#00ff00,#00ff00 49.17%,#e18a35 50%,#ccaf42 60.83%,#adbb50 69.17%,#a5bb56 70.83%,#7cb778 79.17%,#58a1a4 88.33%,#477fc3 97.5%,#467dc6)"></i><i style="top:115.87px;height:6.12px;background:linear-gradient(90deg,#00ff00,#00ff00 49.17%,#e28634 50%,#d5a63d 58.33%,#cead41 60.83%,#b0ba4e 69.17%,#9bba5e 73.33%,#7fb875 79.17%,#5aa2a1 88.33%,#4882c1 97.5%,#4780c4)"></i><i style="top:121.39px;height:6.12px;background:linear-gradient(90deg,#00ff00,#00ff00 49.17%,#e38333 50%,#d6a73d 59.17%,#d1ab3f 60.83%,#b6b84b 68.33%,#9fba5c 73.33%,#83b872 79.17%,#5ca49e 88.33%,#4882c2 98.33%,#4882c2)"></i><i style="top:126.9px;height:6.12px;background:linear-gradient(90deg,#00ff00,#00ff00 49.17%,#e47f32 50%,#d6a73d 60%,#b2ba4e 70%,#86b96f 79.17%,#5ea69b 88.33%,#4885c0 98.33%,#4885c0)"></i><i style="top:132.42px;height:6.12px;background:linear-gradient(90deg,#00ff00,#00ff00 49.17%,#e57b32 50%,#daa23b 59.17%,#b9b949 69.17%,#8dba68 78.33%,#60a898 88.33%,#4988be 98.33%,#4988be)"></i><i style="top:137.94px;height:6.12px;background:linear-gradient(90deg,#00ff00,#00ff00 49.17%,#e57531 50%,#dc9e3a 59.17%,#bcb848 69.17%,#8cba69 79.17%,#66ab91 87.5%,#4a8abc 98.33%,#4a8abc)"></i><i style="top:143.46px;height:6.12px;background:linear-gradient(90deg,#00ff00,#00ff00 49.17%,#e46f2f 50%,#dd9a39 59.17%,#bbb84a 70%,#8fba66 79.17%,#65ac92 88.33%,#4b8cba 98.33%,#4b8cba)"></i><i style="top:148.97px;height:6.12px;background:linear-gradient(90deg,#00ff00,#00ff00 49.17%,#e3682e 50%,#dd9939 60%,#bdb748 70%,#92bb64 79.17%,#67ad8f 88.33%,#4d91b6 97.5%,#4c8fb8)"></i><i style="top:154.49px;height:6.12px;background:linear-gradient(90deg,#00ff00,#00ff00 49.17%,#e2622d 50%,#de9538 60%,#c4b545 69.17%,#bcb749 70.83%,#95bb61 79.17%,#69af8c 88.33%,#4e93b4 97.5%,#4c91b7)"></i><i style="top:160.01px;height:6.12px;background:linear-gradient(90deg,#00ff00,#00ff00 49.17%,#e15c2c 50%,#df9137 60%,#c7b444 69.17%,#bfb648 70.83%,#94bb62 80%,#68af8d 89.17%,#4f95b2 97.5%,#4d93b5)"></i><i style="top:165.53px;height:6.12px;background:linear-gradient(90deg,#00ff00,#00ff00 49.17%,#e0562b 50%,#e28935 59.17%,#cab343 69.17%,#9fbc59 78.33%,#8eba67 81.67%,#6ab18a 89.17%,#5097b0 97.5%,#4e95b3)"></i><i style="top:171.04px;height:6.12px;background:linear-gradient(90deg,#00ff00,#00ff00 49.17%,#df4f2a 50%,#e0542b 50.83%,#e38534 59.17%,#cfaf40 68.33%,#c9b443 70%,#9ebc59 79.17%,#6fb583 88.33%,#519aae 97.5%,#4f97b1)"></i><i style="top:176.56px;height:6.12px;background:linear-gradient(90deg,#00ff00,#00ff00 49.17%,#df4a29 50%,#e48033 59.17%,#cfb141 69.17%,#a5bc54 78.33%,#83b971 85%,#6eb484 89.17%,#509ab0 98.33%,#509ab0)"></i><i style="top:182.08px;height:6.12px;background:linear-gradient(90deg,#00ff00,#00ff00 49.17%,#de4629 50%,#df4b2a 50.83%,#e37f33 60%,#d3aa3e 68.33%,#cdb041 70%,#a4bc55 79.17%,#75b77e 88.33%,#549daa 97.5%,#519bad)"></i><i style="top:187.59px;height:6.12px;background:linear-gradient(90deg,#00ff00,#00ff00 49.17%,#de4328 50%,#e37531 59.17%,#d4a73d 68.33%,#cfad40 70%,#abbb51 78.33%,#91ba66 83.33%,#74b57f 89.17%,#539dab 98.33%,#539dab)"></i><i style="top:193.11px;height:6.12px;background:linear-gradient(90deg,#00ff00,#00ff00 49.17%,#dd3f28 50%,#de4328 50.83%,#e27431 60%,#d5a83e 69.17%,#b1b94e 77.5%,#a5bb55 80%,#7fb875 87.5%,#58a0a5 97.5%,#559ea8)"></i><i style="top:198.63px;height:6.12px;background:linear-gradient(90deg,#00ff00,#00ff00 49.17%,#dd3b27 50%,#e26e30 60%,#d6a53d 69.17%,#b0ba4e 78.33%,#7db876 88.33%,#57a0a6 98.33%,#57a0a6)"></i><i style="top:204.15px;height:6.12px;background:linear-gradient(90deg,#00ff00,#00ff00 49.17%,#dc3827 50%,#dd3c27 50.83%,#e2642e 59.17%,#d8a33c 69.17%,#b3b94c 78.33%,#80b874 88.33%,#5ba3a0 97.5%,#59a1a3)"></i><i style="top:209.66px;height:6.12px;background:linear-gradient(90deg,#00ff00,#00ff00 49.17%,#dc3426 50%,#e1632e 60%,#daa03b 69.17%,#b3ba4d 79.17%,#7fb775 89.17%,#5aa3a1 98.33%,#5aa3a1)"></i><i style="top:215.18px;height:6.12px;background:linear-gradient(90deg,#00ff00,#00ff00 49.17%,#db3125 50%,#dc3426 50.83%,#e1592c 59.17%,#dc9d3a 69.17%,#b9b849 78.33%,#86b96e 88.33%,#5fa69b 97.5%,#5ca49e)"></i><i style="top:220.7px;height:6.12px;background:linear-gradient(90deg,#00ff00,#00ff00 49.17%,#db2e25 50%,#e0542b 59.17%,#dd9a39 69.17%,#b8b94a 79.17%,#89b96c 88.33%,#64a994 96.67%,#5ea69c 98.33%,#5ea69c)"></i><i style="top:226.22px;height:6.12px;background:linear-gradient(90deg,#00ff00,#00ff00 49.17%,#db2e25 50%,#e0552b 60%,#de9738 69.17%,#beb647 78.33%,#8cba69 88.33%,#63a996 97.5%,#60a899)"></i><i style="top:231.74px;height:6.12px;background:linear-gradient(90deg,#00ff00,#00ff00 49.17%,#db2d25 50%,#df522b 60%,#df9537 69.17%,#c0b546 78.33%,#8fba67 88.33%,#61a997 98.33%,#61a997)"></i><i style="top:237.25px;height:6.12px;background:linear-gradient(90deg,#00ff00,#00ff00 49.17%,#db2c25 50%,#df4e2a 60%,#e08c36 68.33%,#dd9638 70%,#c0b747 79.17%,#92bb64 88.33%,#66ac91 97.5%,#63ab94)"></i><i style="top:242.77px;height:6.12px;background:linear-gradient(90deg,#00ff00,#00ff00 49.17%,#da2b24 50%,#df4b2a 60%,#e17431 65.83%,#e08f36 69.17%,#c2b646 79.17%,#95bb62 88.33%,#68ad8e 97.5%,#65ac92 98.33%,#65ac92)"></i><i style="top:248.29px;height:6.12px;background:linear-gradient(90deg,#00ff00,#00ff00 49.17%,#da2a24 50%,#de4729 60%,#e17130 65.83%,#e18d36 69.17%,#c7b344 78.33%,#93bb63 89.17%,#6aaf8c 97.5%,#67ae8f)"></i><i style="top:253.81px;height:6.12px;background:linear-gradient(90deg,#00ff00,#00ff00 49.17%,#da2924 50%,#de4428 60%,#e2672e 65%,#e28a35 69.17%,#cab243 78.33%,#9abc5d 88.33%,#68af8d 98.33%,#68af8d)"></i><i style="top:259.32px;height:6.12px;background:linear-gradient(90deg,#00ff00,#00ff00 49.17%,#da2824 50%,#dd4028 60%,#e36a2f 65.83%,#e38834 69.17%,#c9b443 79.17%,#99bc5e 89.17%,#6ab18a 98.33%,#6ab18a)"></i><i style="top:264.84px;height:6.12px;background:linear-gradient(90deg,#00ff00,#00ff00 49.17%,#da2924 50%,#dd3e28 60%,#e3682f 65.83%,#e38534 69.17%,#cbb342 79.17%,#9bbc5c 89.17%,#6cb288 98.33%,#6cb288)"></i><i style="top:270.36px;height:6.12px;background:linear-gradient(90deg,#00ff00,#00ff00 49.17%,#da2a24 50%,#dd3a27 59.17%,#e2602d 65%,#e38333 69.17%,#cdb242 79.17%,#a2bc57 88.33%,#71b383 97.5%,#6eb386)"></i><i style="top:275.88px;height:6.12px;background:linear-gradient(90deg,#00ff00,#00ff00 49.17%,#da2a24 50%,#dc3927 59.17%,#e0532b 63.33%,#e38033 69.17%,#ceb141 79.17%,#a4bc55 88.33%,#73b481 97.5%,#70b384)"></i><i style="top:281.39px;height:6.12px;background:linear-gradient(90deg,#00ff00,#00ff00 49.17%,#da2b25 50%,#dc3727 58.33%,#dd3c27 60%,#e15d2d 65%,#e37e32 69.17%,#e08d36 71.67%,#d0b040 79.17%,#a6bc54 88.33%,#75b57f 97.5%,#72b482)"></i><i style="top:286.91px;height:6.12px;background:linear-gradient(90deg,#00ff00,#00ff00 49.17%,#db2c25 50%,#dd3b27 60%,#e2612d 65.83%,#e38133 70%,#d4ac3e 78.33%,#a8bc52 88.33%,#77b57d 97.5%,#74b580)"></i><i style="top:292.43px;height:6.12px;background:linear-gradient(90deg,#00ff00,#00ff00 49.17%,#db2d25 50%,#dc3a27 60%,#e2652e 66.67%,#e38534 70.83%,#d7a73d 77.5%,#d3ae3f 79.17%,#aabc50 88.33%,#75b67e 98.33%,#75b67e)"></i><i style="top:297.94px;height:6.12px;background:linear-gradient(90deg,#00ff00,#00ff00 49.17%,#db2e25 50%,#dc3526 58.33%,#dc3927 60%,#e3692f 67.5%,#e38834 71.67%,#d7aa3d 78.33%,#acbc4f 88.33%,#77b77c 98.33%,#77b77c)"></i><i style="top:303.46px;height:6.12px;background:linear-gradient(90deg,#00ff00,#00ff00 49.17%,#db3025 50%,#dc3827 60%,#e3672e 67.5%,#e48133 70.83%,#daa53b 77.5%,#d3ae3f 80%,#afbc4d 88.33%,#79b77a 98.33%,#79b77a)"></i><i style="top:308.98px;height:6.12px;background:linear-gradient(90deg,#00ff00,#00ff00 49.17%,#dc3827 50%,#dc3727 57.5%,#dd3c27 60%,#e2632e 66.67%,#e48233 70.83%,#daa43b 77.5%,#d6ac3d 79.17%,#afbc4d 88.33%,#7bb878 98.33%,#7bb878)"></i><i style="top:314.5px;height:6.12px;background:linear-gradient(90deg,#00ff00,#00ff00 49.17%,#dd4028 50%,#dd3a27 57.5%,#dd3f28 60%,#e36a2f 67.5%,#e48233 70.83%,#d9a83c 78.33%,#b0bb4d 88.33%,#80b874 97.5%,#7db877)"></i><i style="top:320.01px;height:6.12px;background:linear-gradient(90deg,#00ff00,#00ff00 49.17%,#de4829 50%,#dd3d27 57.5%,#dd4028 59.17%,#e2612d 65.83%,#e38834 71.67%,#d9a83c 78.33%,#b1bb4c 88.33%,#7eb875 98.33%,#7eb875)"></i><i style="top:325.53px;height:6.12px;background:linear-gradient(90deg,#00ff00,#00ff00 49.17%,#e0502a 50%,#dd4028 57.5%,#de4328 59.17%,#e25e2d 65%,#e38834 71.67%,#d9a73c 78.33%,#b2bb4c 88.33%,#80b874 98.33%,#80b874)"></i><i style="top:331.05px;height:6.12px;background:linear-gradient(90deg,#00ff00,#00ff00 49.17%,#e1582c 50%,#de4328 57.5%,#de4729 59.17%,#e2642e 65.83%,#e38935 71.67%,#d9a73c 78.33%,#afbb4e 89.17%,#85b96f 97.5%,#82b972)"></i><i style="top:336.57px;height:6.12px;background:linear-gradient(90deg,#00ff00,#00ff00 49.17%,#e2602d 50%,#de4629 57.5%,#df4a2a 59.17%,#e2662e 65.83%,#e38534 70.83%,#d9a63c 78.33%,#b4ba4b 88.33%,#87b96e 97.5%,#84b971)"></i><i style="top:342.08px;height:6.12px;background:linear-gradient(90deg,#00ff00,#00ff00 49.17%,#e3682e 50%,#df4929 57.5%,#e2632e 65%,#e38534 70.83%,#d9a63c 78.33%,#b5ba4b 88.33%,#85b96f 98.33%,#85b96f)"></i><i style="top:347.6px;height:6.12px;background:linear-gradient(90deg,#00ff00,#00ff00 49.17%,#e36f30 50%,#df4e2a 57.5%,#df4f2a 58.33%,#e2662e 65%,#e38734 70.83%,#d7a93d 79.17%,#b5ba4b 88.33%,#89b96c 97.5%,#86b96e)"></i><i style="top:353.12px;height:6.12px;background:linear-gradient(90deg,#00ff00,#00ff00 49.17%,#e27531 50%,#e0552b 57.5%,#e0562b 58.33%,#e26a2f 65%,#e28935 70.83%,#d7aa3d 79.17%,#b5ba4b 88.33%,#89b96c 97.5%,#86b96f)"></i><i style="top:358.64px;height:6.12px;background:linear-gradient(90deg,#00ff00,#00ff00 49.17%,#e17b32 50%,#e05c2d 57.5%,#e15d2d 59.17%,#e27230 65.83%,#e28634 70%,#d6ab3d 79.17%,#b5ba4b 88.33%,#88b96d 97.5%,#85b96f)"></i><i style="top:364.16px;height:6.12px;background:linear-gradient(90deg,#00ff00,#00ff00 49.17%,#e08134 50%,#e1632e 57.5%,#e2642e 60%,#e27331 65%,#e28534 69.17%,#d7aa3d 78.33%,#b4ba4b 88.33%,#84b970 98.33%,#84b970)"></i><i style="top:369.67px;height:6.12px;background:linear-gradient(90deg,#00ff00,#00ff00 49.17%,#e08835 50%,#e26a2f 57.5%,#e36a2f 60%,#e27a32 65.83%,#e18b35 70%,#d6ab3d 78.33%,#b4ba4b 88.33%,#87b96e 97.5%,#84b970)"></i><i style="top:375.19px;height:6.12px;background:linear-gradient(90deg,#00ff00,#00ff00 49.17%,#df8e36 50%,#e27130 57.5%,#e46f30 60%,#e18a35 69.17%,#d5ac3e 78.33%,#b6ba4a 87.5%,#afbb4e 89.17%,#83b971 98.33%,#83b971)"></i><i style="top:380.71px;height:6.12px;background:linear-gradient(90deg,#00ff00,#00ff00 49.17%,#de9437 50%,#e37832 57.5%,#e47430 60%,#e18c36 69.17%,#d3b03f 79.17%,#b3bb4c 88.33%,#86b96f 97.5%,#83b971)"></i><i style="top:386.23px;height:6.12px;background:linear-gradient(90deg,#00ff00,#00ff00 49.17%,#dd9a39 50%,#e38233 56.67%,#e57a31 60%,#e08f36 69.17%,#d2b140 79.17%,#b2bb4c 88.33%,#85b96f 97.5%,#82b972)"></i><i style="top:391.74px;height:6.12px;background:linear-gradient(90deg,#00ff00,#00ff00 49.17%,#db9e3a 50%,#e57e32 60%,#de9438 70%,#d2b03f 78.33%,#b1bb4d 88.33%,#80b873 98.33%,#80b873)"></i><i style="top:397.26px;height:6.12px;background:linear-gradient(90deg,#00ff00,#00ff00 49.17%,#d9a13b 50%,#e38233 60%,#df9538 69.17%,#d0b040 78.33%,#afbb4e 88.33%,#81b873 97.5%,#7eb875)"></i><i style="top:402.78px;height:6.12px;background:linear-gradient(90deg,#00ff00,#00ff00 49.17%,#d8a43c 50%,#e28734 60%,#de9838 69.17%,#d0af40 77.5%,#c7b444 80.83%,#acbc4f 88.33%,#7fb875 97.5%,#7cb878)"></i><i style="top:408.3px;height:6.12px;background:linear-gradient(90deg,#00ff00,#00ff00 49.17%,#d6a73d 50%,#e18b35 60%,#dd9b39 69.17%,#ceb041 77.5%,#c8b444 80%,#aabc51 88.33%,#79b77a 98.33%,#79b77a)"></i><i style="top:413.81px;height:6.12px;background:linear-gradient(90deg,#00ff00,#00ff00 49.17%,#d4a93e 50%,#e08f36 60%,#dc9e3a 69.17%,#c9b443 79.17%,#a8bc52 88.33%,#77b77c 98.33%,#77b77c)"></i><i style="top:419.33px;height:6.12px;background:linear-gradient(90deg,#00ff00,#00ff00 49.17%,#d2ac3f 50%,#df9437 60%,#dba13b 69.17%,#c7b544 79.17%,#a6bc53 88.33%,#78b77b 97.5%,#75b77e)"></i><i style="top:424.85px;height:6.12px;background:linear-gradient(90deg,#00ff00,#00ff00 49.17%,#d1af40 50%,#dd9939 59.17%,#daa53b 69.17%,#c5b545 79.17%,#a4bd54 88.33%,#72b680 98.33%,#72b680)"></i><i style="top:430.37px;height:6.12px;background:linear-gradient(90deg,#00ff00,#00ff00 49.17%,#cfb241 50%,#dc9d3a 59.17%,#d9a83c 69.17%,#c3b646 79.17%,#a2bd56 88.33%,#70b682 98.33%,#70b682)"></i><i style="top:435.88px;height:6.12px;background:linear-gradient(90deg,#00ff00,#00ff00 49.17%,#cfb241 50%,#dc9d3a 59.17%,#d9a83c 69.17%,#c3b646 79.17%,#a2bd56 88.33%,#73b67f 97.5%,#70b682)"></i></div></div><div class="dp" style="left:1501.7px;top:115px;width:400.2px;height:401px"><div class="dpi" style="left:-8px;top:-8px;width:416.2px;height:417px;filter:blur(2.2px)"><i style="top:0px;height:5.81px;background:linear-gradient(90deg,#781c86,#771c87 2.5%,#5924ab 21.67%,#4a28bc 35%,#4735c2 50.83%,#416bd2 83.33%,#467ec5)"></i><i style="top:5.21px;height:5.81px;background:linear-gradient(90deg,#781c86,#771c87 2.5%,#5924ab 21.67%,#4a28bc 35%,#4735c2 50.83%,#416bd2 83.33%,#467ec5)"></i><i style="top:10.43px;height:5.81px;background:linear-gradient(90deg,#781c86,#771c87 2.5%,#5924aa 20.83%,#492abd 36.67%,#4638c3 50.83%,#4559c7 68.33%,#4771ca 83.33%,#4e80be 95.83%,#4f82bc)"></i><i style="top:15.64px;height:5.81px;background:linear-gradient(90deg,#781c86,#771c87 2.5%,#5924aa 20.83%,#4d27b8 30.83%,#482ebf 40.83%,#463bc4 50.83%,#475cc4 66.67%,#4b73c2 80%,#4e79c1 84.17%,#5582b6 93.33%,#5887b2)"></i><i style="top:20.85px;height:5.81px;background:linear-gradient(90deg,#781c86,#771c87 2.5%,#5824ac 21.67%,#4c28b9 31.67%,#492dbe 39.17%,#463ec5 50.83%,#4652c5 59.17%,#4862c1 66.67%,#4f77bb 78.33%,#537eb9 83.33%,#5a85b0 90%,#618ba8)"></i><i style="top:26.06px;height:5.81px;background:linear-gradient(90deg,#781c86,#771c87 2.5%,#5824ab 20.83%,#4d27b8 30%,#4831c0 41.67%,#4640c5 50%,#4655c5 58.33%,#4a6abe 67.5%,#537cb5 77.5%,#5984b1 83.33%,#618aa7 89.17%,#6b909f)"></i><i style="top:31.28px;height:5.81px;background:linear-gradient(90deg,#781c86,#771c87 2.5%,#5924aa 20%,#4c28b9 30.83%,#4832c0 41.67%,#4542c6 50%,#465ac5 58.33%,#4c72ba 68.33%,#5884ae 78.33%,#69909e 89.17%,#739495 97.5%,#749495)"></i><i style="top:36.49px;height:5.81px;background:linear-gradient(90deg,#781c86,#771c87 2.5%,#5824ac 20.83%,#492abd 34.17%,#4830c0 40%,#4545c7 50%,#465ac6 56.67%,#4e78b7 68.33%,#5c89a8 77.5%,#67919f 84.17%,#709694 89.17%,#7d998b)"></i><i style="top:41.7px;height:5.81px;background:linear-gradient(90deg,#781c86,#771c87 2.5%,#5525af 22.5%,#4a2abc 33.33%,#4732c0 40.83%,#454dc8 51.67%,#465ec6 56.67%,#4e78b8 65.83%,#5180b2 69.17%,#6191a0 78.33%,#789b8b 89.17%,#839d84 95.83%,#869d81)"></i><i style="top:46.91px;height:5.81px;background:linear-gradient(90deg,#781c86,#771c87 2.5%,#5c23a6 17.5%,#5325b2 24.17%,#4c27b9 29.17%,#492cbe 35%,#4733c1 40.83%,#4450c9 51.67%,#4768c4 58.33%,#5080b4 66.67%,#64969b 77.5%,#80a181 89.17%,#8fa278 97.5%,#90a277)"></i><i style="top:52.12px;height:5.81px;background:linear-gradient(90deg,#781c86,#771c87 2.5%,#5724ad 20.83%,#4d27b9 28.33%,#4a2abc 32.5%,#4732c1 40%,#4450ca 50.83%,#476dc4 58.33%,#548bad 68.33%,#6a9e92 78.33%,#89a776 90%,#98a66e 97.5%,#99a66e)"></i><i style="top:57.34px;height:5.81px;background:linear-gradient(90deg,#781c86,#771c87 2.5%,#5226b3 24.17%,#4b27ba 29.17%,#492dbe 35%,#4735c2 40.83%,#4453cb 50.83%,#4772c4 58.33%,#5591aa 68.33%,#6da38e 77.5%,#8fad6e 89.17%,#a1ab65 97.5%,#a2ab64)"></i><i style="top:62.55px;height:5.81px;background:linear-gradient(90deg,#781c86,#771c87 2.5%,#5924ab 19.17%,#4a29bc 30.83%,#4734c1 40%,#4459cb 51.67%,#4674c5 57.5%,#5695a9 67.5%,#73ab85 78.33%,#99b363 90%,#aab05b 97.5%,#abaf5a)"></i><i style="top:67.76px;height:5.81px;background:linear-gradient(90deg,#781c86,#771c87 2.5%,#5924aa 18.33%,#4d27b8 26.67%,#4735c2 40%,#435dcc 51.67%,#497fc1 59.17%,#599ea3 68.33%,#75b081 77.5%,#9eb95b 89.17%,#b3b451 97.5%,#b4b450)"></i><i style="top:72.98px;height:5.81px;background:linear-gradient(90deg,#781c86,#771c87 2.5%,#5e23a5 15.83%,#4c27ba 27.5%,#4734c1 39.17%,#435ccd 50.83%,#467ec5 57.5%,#5ba49f 68.33%,#72b184 75%,#83b971 80%,#a6bd52 89.17%,#bdb848 98.33%,#bdb848)"></i><i style="top:78.19px;height:5.81px;background:linear-gradient(90deg,#781c86,#771c87 2.5%,#5a23a9 17.5%,#4b27ba 27.5%,#4733c1 37.5%,#463fc5 41.67%,#4363cd 50.83%,#4985bf 57.5%,#5da49d 66.67%,#67ac90 70%,#86b96f 78.33%,#acbc4f 89.17%,#c0b747 97.5%,#c1b646)"></i><i style="top:83.4px;height:5.81px;background:linear-gradient(90deg,#781c86,#771c87 2.5%,#5b23a8 16.67%,#4a28bc 28.33%,#4734c1 37.5%,#463fc5 40.83%,#4266cf 50%,#4b8cba 57.5%,#67ae8e 68.33%,#92bb64 79.17%,#b3ba4c 89.17%,#c4b545 97.5%,#c5b545)"></i><i style="top:88.61px;height:5.81px;background:linear-gradient(90deg,#781c86,#771c87 2.5%,#5924aa 17.5%,#4f26b5 24.17%,#4a29bd 29.17%,#4735c2 37.5%,#4168d1 49.17%,#4f97b1 58.33%,#6db486 68.33%,#97bc5f 78.33%,#a0bb59 80.83%,#bab849 89.17%,#c7b544 96.67%,#c9b443)"></i><i style="top:93.83px;height:5.81px;background:linear-gradient(90deg,#781c86,#771c87 2.5%,#5a23a9 16.67%,#4b27ba 26.67%,#482ebf 31.67%,#4638c3 37.5%,#426dcf 49.17%,#4371ce 50%,#529cac 58.33%,#73b67f 68.33%,#a3bb56 80%,#bfb647 89.17%,#cbb042 96.67%,#cdb041)"></i><i style="top:99.04px;height:5.81px;background:linear-gradient(90deg,#781c86,#771c87 2.5%,#5824ab 17.5%,#492abd 28.33%,#463dc4 37.5%,#4472cb 49.17%,#569fa6 58.33%,#7cb878 69.17%,#a3bb57 78.33%,#bfb347 87.5%,#cdab41 95.83%,#d0a93f)"></i><i style="top:104.25px;height:5.81px;background:linear-gradient(90deg,#781c86,#771c87 2.5%,#5a24aa 16.67%,#4a29bd 27.5%,#4541c5 37.5%,#4574c8 48.33%,#477bc5 50%,#5aa3a1 58.33%,#7eb876 68.33%,#a4ba57 77.5%,#c1b047 86.67%,#cda840 93.33%,#d2a23d 97.5%,#d3a23d)"></i><i style="top:109.46px;height:5.81px;background:linear-gradient(90deg,#781c86,#771c87 2.5%,#5824ac 17.5%,#492abd 27.5%,#4546c7 37.5%,#4675c6 47.5%,#4980c1 50%,#5ea69b 58.33%,#83b971 68.33%,#afb950 79.17%,#c8ac43 87.5%,#d69c3b 97.5%,#d69b3b)"></i><i style="top:114.68px;height:5.81px;background:linear-gradient(90deg,#781c86,#771c87 2.5%,#5a24a9 15.83%,#4a29bc 26.67%,#444bc8 37.5%,#477bc3 47.5%,#4e89b9 50.83%,#62aa95 58.33%,#89b96c 68.33%,#b1b94f 78.33%,#caaa42 86.67%,#d99539 97.5%,#da9439)"></i><i style="top:119.89px;height:5.81px;background:linear-gradient(90deg,#781c86,#771c87 2.5%,#5725ad 17.5%,#4929bd 26.67%,#444fca 37.5%,#4b87bc 49.17%,#66ad90 58.33%,#8eba67 68.33%,#b6b84d 78.33%,#d1a53f 87.5%,#dc8e37 97.5%,#dd8d37)"></i><i style="top:125.1px;height:5.81px;background:linear-gradient(90deg,#781c86,#771c87 2.5%,#5924aa 15.83%,#492abd 26.67%,#4354cb 37.5%,#4b89bb 48.33%,#68ae8e 57.5%,#94bb62 68.33%,#bdb649 79.17%,#d1a53f 85.83%,#e08735 97.5%,#e08635)"></i><i style="top:130.31px;height:5.81px;background:linear-gradient(90deg,#781c86,#781c86 1.67%,#5a23a8 15%,#482abe 26.67%,#4359cc 37.5%,#4a8abb 47.5%,#6eb485 58.33%,#92bb64 66.67%,#99bc5d 68.33%,#c2b546 79.17%,#d8a03c 86.67%,#e28334 96.67%,#e37f33)"></i><i style="top:135.53px;height:5.81px;background:linear-gradient(90deg,#781c86,#781c86 1.67%,#5924ab 15.83%,#482bbe 26.67%,#435dcd 37.5%,#4d8fb7 47.5%,#70b483 57.5%,#9fbc59 68.33%,#c4b345 78.33%,#dd9738 87.5%,#e57931 97.5%,#e57831)"></i><i style="top:140.74px;height:5.81px;background:linear-gradient(90deg,#781c86,#781c86 1.67%,#5924ab 15.83%,#492bbd 25.83%,#4730c0 27.5%,#4360cd 37.5%,#5397ad 48.33%,#79b77a 58.33%,#a6ba56 68.33%,#caaa41 79.17%,#dd8c36 87.5%,#e46f30 98.33%,#e46f30)"></i><i style="top:145.95px;height:5.81px;background:linear-gradient(90deg,#781c86,#781c86 1.67%,#5924ab 15.83%,#492cbe 25.83%,#4363cc 37.5%,#5599aa 47.5%,#7eb876 58.33%,#adb952 68.33%,#c7a943 76.67%,#cda23f 79.17%,#dc8435 86.67%,#dd7b33 89.17%,#e2682f 97.5%,#e3672e)"></i><i style="top:151.16px;height:5.81px;background:linear-gradient(90deg,#781c86,#781c86 1.67%,#5924ab 15.83%,#4b29bb 24.17%,#4830c0 26.67%,#4545c7 30.83%,#4367cc 37.5%,#5a9da3 47.5%,#84b971 58.33%,#b6b64d 69.17%,#c9a642 75.83%,#cf9d3e 78.33%,#d98436 84.17%,#dd6f31 89.17%,#e25e2d 98.33%,#e25e2d)"></i><i style="top:156.38px;height:5.81px;background:linear-gradient(90deg,#781c86,#781c86 1.67%,#5924ab 15.83%,#4b29bb 24.17%,#4831c0 26.67%,#454cc8 31.67%,#436acc 37.5%,#5ea29d 47.5%,#89b96c 58.33%,#bbb64b 68.33%,#cea040 75.83%,#d98136 82.5%,#dd632f 89.17%,#e0562c)"></i><i style="top:161.59px;height:5.81px;background:linear-gradient(90deg,#781c86,#781c86 1.67%,#5a23a9 15%,#4b29bb 24.17%,#4737c2 27.5%,#454ac8 30.83%,#446dcb 37.5%,#62a796 47.5%,#8fba67 58.33%,#c2b448 68.33%,#d39b3d 75.83%,#db7833 82.5%,#dd572c 89.17%,#df4e2a 97.5%,#df4e2a)"></i><i style="top:166.8px;height:5.81px;background:linear-gradient(90deg,#781c86,#771c88 2.5%,#5f22a3 12.5%,#4a28bc 24.17%,#444dc9 30.83%,#4470cb 37.5%,#67ac90 47.5%,#94bb62 58.33%,#c9b344 68.33%,#d59d3d 74.17%,#d7963a 75.83%,#dd7332 81.67%,#dc4c2a 89.17%,#de4529)"></i><i style="top:172.01px;height:5.81px;background:linear-gradient(90deg,#781c86,#771c88 2.5%,#5d23a5 13.33%,#4a28bc 24.17%,#4454ca 31.67%,#4474cb 37.5%,#6bb08a 47.5%,#96bb61 57.5%,#d0b141 68.33%,#d99c3b 73.33%,#dc9138 75.83%,#df7532 80%,#dc4028 89.17%,#dd3d27)"></i><i style="top:177.23px;height:5.81px;background:linear-gradient(90deg,#781c86,#771c88 2.5%,#5d23a5 13.33%,#4a29bc 24.17%,#4452ca 30.83%,#4477ca 37.5%,#70b483 47.5%,#9bbc5c 57.5%,#d6af3e 68.33%,#d9a73c 70%,#e09036 75%,#e17f33 77.5%,#e1612d 81.67%,#dc3626 89.17%,#dc3726)"></i><i style="top:182.44px;height:5.81px;background:linear-gradient(90deg,#781c86,#771c88 2.5%,#5d23a5 13.33%,#4b29bb 23.33%,#492bbd 24.17%,#444fc9 30%,#4467ca 34.17%,#467ac7 37.5%,#75b57f 47.5%,#97ba62 55%,#aab953 59.17%,#d7a83c 68.33%,#d9a33b 69.17%,#e08635 75%,#e0552b 82.5%,#dc3426 89.17%,#dd3d27 97.5%,#dd3d27)"></i><i style="top:187.65px;height:5.81px;background:linear-gradient(90deg,#781c86,#771c88 2.5%,#5b23a8 14.17%,#4c29ba 22.5%,#492dbe 24.17%,#4548c7 28.33%,#4460ca 32.5%,#477dc4 37.5%,#5592ad 40.83%,#76b280 46.67%,#7eb876 48.33%,#adb952 58.33%,#d9a03b 68.33%,#df7d33 75%,#df652f 78.33%,#df572c 80.83%,#db3226 89.17%,#de4328 97.5%,#de4429)"></i><i style="top:192.86px;height:5.81px;background:linear-gradient(90deg,#781c86,#771c88 2.5%,#5f22a4 12.5%,#4c28b9 21.67%,#4930bf 24.17%,#454ac8 28.33%,#456dc9 34.17%,#4980c1 37.5%,#4c86bc 38.33%,#5795aa 40.83%,#7ab37c 46.67%,#84b871 48.33%,#b4b74f 58.33%,#da9939 68.33%,#df7832 74.17%,#de572c 79.17%,#dc3326 88.33%,#db3125 89.17%,#df4b2a 98.33%,#df4b2a)"></i><i style="top:198.08px;height:5.81px;background:linear-gradient(90deg,#781c86,#771c88 2.5%,#5c23a6 13.33%,#4d27b8 20.83%,#4832bf 24.17%,#4452ca 29.17%,#4461ca 31.67%,#4570c8 34.17%,#4a84bf 37.5%,#5898a8 40.83%,#85b870 47.5%,#89b96c 48.33%,#bbb54b 58.33%,#d0a340 64.17%,#dc9137 68.33%,#df692f 75%,#dd4e2a 79.17%,#db2f25 89.17%,#e0522b 98.33%,#e0522b)"></i><i style="top:203.29px;height:5.81px;background:linear-gradient(90deg,#781c86,#771c88 2.5%,#721d8c 4.17%,#5c23a7 13.33%,#4d27b9 20.83%,#4835c0 24.17%,#454ac8 27.5%,#4464ca 31.67%,#4677c6 35%,#4c87bc 37.5%,#5a9ba5 40.83%,#8ab96b 47.5%,#8fba67 48.33%,#c1b448 58.33%,#d69b3c 65%,#da9239 66.67%,#df7431 71.67%,#dd4429 79.17%,#db3226 86.67%,#db2e25 89.17%,#e0522b 96.67%,#e1582c 98.33%,#e1582c)"></i><i style="top:208.5px;height:5.81px;background:linear-gradient(90deg,#781c86,#771c88 2.5%,#5e23a5 12.5%,#4c27b9 20.83%,#4837c1 24.17%,#445dcb 30%,#4575c7 34.17%,#4d8ab9 37.5%,#5b9ea2 40.83%,#8fba67 47.5%,#94ba62 48.33%,#c5b447 57.5%,#da963a 65%,#df7c33 69.17%,#dc3e28 78.33%,#dc3526 82.5%,#db2c25 89.17%,#e15c2c 97.5%,#e25f2d)"></i><i style="top:213.71px;height:5.81px;background:linear-gradient(90deg,#781c86,#771c88 2.5%,#4b27ba 20.83%,#4739c2 24.17%,#435bcc 29.17%,#477dc4 35%,#589da6 40%,#95ba62 47.5%,#9abb5e 48.33%,#cbb243 57.5%,#d1ad40 59.17%,#de9138 65%,#e07b32 68.33%,#dd4028 76.67%,#db3226 79.17%,#da2b24 89.17%,#e2622d 97.5%,#e3662e 98.33%,#e3662e)"></i><i style="top:218.93px;height:5.81px;background:linear-gradient(90deg,#781c86,#741d8a 3.33%,#4b27bb 20.83%,#435dcd 29.17%,#4880c3 35%,#59a0a3 40%,#5ea49d 40.83%,#9abb5d 47.5%,#9fbc59 48.33%,#d6af3e 58.33%,#e18c35 65%,#de4228 75%,#da2b24 78.33%,#da2924 79.17%,#da2924 89.17%,#e3682e 97.5%,#e46c2f 98.33%,#e46c2f)"></i><i style="top:224.14px;height:5.81px;background:linear-gradient(90deg,#781c86,#741d8a 3.33%,#4a29bc 20.83%,#4456cb 27.5%,#4361cc 29.17%,#4a84bf 35%,#5da29f 40%,#62a698 40.83%,#9dbb5b 47.5%,#b5b74e 51.67%,#d8ab3d 58.33%,#e28835 65%,#e15a2c 71.67%,#db3426 78.33%,#db3226 79.17%,#da3827 89.17%,#df7131 97.5%,#df7532 98.33%,#df7532)"></i><i style="top:229.35px;height:5.81px;background:linear-gradient(90deg,#781c86,#741d8a 3.33%,#5a24a9 13.33%,#4a2bbc 20.83%,#435fcc 28.33%,#4a83be 34.17%,#61a59a 40%,#a0bb59 47.5%,#c6b146 54.17%,#d9a73c 58.33%,#e28434 65%,#e16c30 68.33%,#e15b2c 71.67%,#dd4128 77.5%,#dc3d28 79.17%,#d9492a 89.17%,#da7b34 97.5%,#da7f35 98.33%,#da7f35)"></i><i style="top:234.56px;height:5.81px;background:linear-gradient(90deg,#781c86,#741d8a 3.33%,#5c23a7 12.5%,#492cbd 20.83%,#435dcc 27.5%,#4673c6 30.83%,#4d87ba 34.17%,#5ea09f 38.33%,#6baa8e 40.83%,#a3bb57 47.5%,#c9af44 54.17%,#daa33b 58.33%,#e28033 65%,#e1692f 68.33%,#dd482a 78.33%,#d9592d 89.17%,#d68537 97.5%,#d68838)"></i><i style="top:239.78px;height:5.81px;background:linear-gradient(90deg,#781c86,#741d8a 3.33%,#5b23a8 12.5%,#492ebe 20.83%,#4832c0 21.67%,#435bcd 26.67%,#446cca 29.17%,#4a82be 32.5%,#599ba5 36.67%,#6aa990 40%,#a6bb55 47.5%,#c7af45 53.33%,#db9f3a 58.33%,#e18c36 61.67%,#e28033 64.17%,#e1662e 68.33%,#e0562b 75%,#de532b 77.5%,#dd542c 79.17%,#d86a31 89.17%,#d28b39 96.67%,#d1913b 98.33%,#d1913b)"></i><i style="top:244.99px;height:5.81px;background:linear-gradient(90deg,#781c86,#761c88 2.5%,#5b23a8 12.5%,#4930bf 20.83%,#4734c1 21.67%,#435ece 26.67%,#4676c6 30%,#5495ad 35%,#65a795 38.33%,#74ae85 40.83%,#a2b959 46.67%,#aeba50 48.33%,#ceac41 54.17%,#de9638 59.17%,#e28835 61.67%,#e1632e 68.33%,#e15b2c 75%,#de5f2d 79.17%,#d77a34 89.17%,#cd983d 97.5%,#cc9a3e)"></i><i style="top:250.2px;height:5.81px;background:linear-gradient(90deg,#781c86,#761c88 2.5%,#5a23a9 12.5%,#4831bf 20.83%,#4262cf 26.67%,#4985bd 31.67%,#5394ae 34.17%,#63a895 37.5%,#7fb17a 41.67%,#9fb85d 45.83%,#b1b94e 48.33%,#d5a73e 55%,#e38434 61.67%,#e1642e 67.5%,#e15f2d 69.17%,#e2602d 75%,#e1632e 76.67%,#d98636 87.5%,#d2923a 91.67%,#c7a341 98.33%,#c7a341)"></i><i style="top:255.41px;height:5.81px;background:linear-gradient(90deg,#781c86,#761c88 2.5%,#5f22a4 10.83%,#4833c0 20.83%,#4738c2 21.67%,#4265d0 26.67%,#4a89bb 31.67%,#66ac90 37.5%,#7db27b 40.83%,#afba4f 47.5%,#b4b94c 48.33%,#d4a83e 54.17%,#df9337 58.33%,#e47f33 61.67%,#e15c2d 68.33%,#e3652e 75%,#e07131 78.33%,#de8535 82.5%,#d49d3b 90%,#c6aa43 96.67%,#c2ac44)"></i><i style="top:260.62px;height:5.81px;background:linear-gradient(90deg,#781c86,#761c88 2.5%,#5e22a4 10.83%,#4734c1 20.83%,#4169d1 26.67%,#4b8eb9 31.67%,#6ab08b 37.5%,#a0b85d 45%,#b7b84a 48.33%,#d7a63d 54.17%,#e38534 60%,#e57731 62.5%,#e1592c 68.33%,#e36e30 75.83%,#de9237 82.5%,#d6ac3d 89.17%,#bfb547 97.5%,#beb547)"></i><i style="top:265.84px;height:5.81px;background:linear-gradient(90deg,#781c86,#761c88 2.5%,#5e22a4 10.83%,#4a32bd 19.17%,#4737c2 20.83%,#463dc4 21.67%,#426ccf 26.67%,#4373cd 27.5%,#4d91b6 31.67%,#6fb286 37.5%,#b7b94b 47.5%,#dba13a 55%,#e57d32 61.67%,#e0622e 68.33%,#e16b2f 71.67%,#dc7d35 76.67%,#d4923e 80.83%,#cba048 85%,#c4ab4d 89.17%,#aeac59 97.5%,#adac59)"></i><i style="top:271.05px;height:5.81px;background:linear-gradient(90deg,#781c86,#761c88 2.5%,#5e22a4 10.83%,#4b30bc 18.33%,#4541c5 21.67%,#4359cc 24.17%,#4370cd 26.67%,#5095b1 31.67%,#5da39d 34.17%,#74b480 37.5%,#bcb749 47.5%,#c4b345 49.17%,#dba03a 55%,#e38534 60.83%,#e27631 65%,#df6e30 68.33%,#df7932 71.67%,#d78237 75%,#cd913e 78.33%,#bb9e53 83.33%,#b1a15d 85.83%,#ada562 89.17%,#989c70 97.5%,#979c71)"></i><i style="top:276.26px;height:5.81px;background:linear-gradient(90deg,#781c86,#761c88 2.5%,#5e22a4 10.83%,#4a30bd 18.33%,#463ec4 20.83%,#435dcd 24.17%,#4474ca 26.67%,#4d8db8 30%,#60a699 34.17%,#7ab57a 37.5%,#b5b64f 45.83%,#c5b445 48.33%,#db9f3a 55%,#e28935 60.83%,#e17e33 65%,#de7b33 68.33%,#dd8635 71.67%,#d78a38 73.33%,#c29c45 78.33%,#b0a058 81.67%,#99a070 85.83%,#959e77 89.17%,#848e86 96.67%,#818b88)"></i><i style="top:281.48px;height:5.81px;background:linear-gradient(90deg,#781c86,#761c88 2.5%,#5e22a4 10.83%,#4930be 18.33%,#4642c5 20.83%,#4260ce 24.17%,#4578c7 26.67%,#4986bf 28.33%,#5296ae 30.83%,#63a995 34.17%,#80b775 37.5%,#bbb54d 45.83%,#cab343 48.33%,#db9e3a 55%,#df9237 58.33%,#e18735 64.17%,#e08534 65%,#dd8835 68.33%,#db9338 71.67%,#b6a74c 78.33%,#aaa757 80%,#829f84 85.83%,#7d988b 89.17%,#6f7f9d 96.67%,#6c7ba0 98.33%,#6c7ba0)"></i><i style="top:286.69px;height:5.81px;background:linear-gradient(90deg,#781c86,#761c88 2.5%,#5e22a4 10.83%,#4a2ebc 17.5%,#4737c2 19.17%,#4264cf 24.17%,#4d91b6 29.17%,#61a897 33.33%,#6cb089 35%,#86b86f 37.5%,#ccb343 47.5%,#cfb141 48.33%,#df9337 58.33%,#e08d36 65%,#dc9438 68.33%,#d9a03a 71.67%,#aab253 78.33%,#6a9e97 85.83%,#576db6 97.5%,#566bb8)"></i><i style="top:291.9px;height:5.81px;background:linear-gradient(90deg,#781c86,#761c88 2.5%,#5e22a4 10.83%,#4731c1 18.33%,#4268d0 24.17%,#4e95b3 29.17%,#64ab93 33.33%,#6fb285 35%,#8bba6a 37.5%,#cbb244 46.67%,#d3b03f 48.33%,#de9638 57.5%,#de9538 65%,#d5ab3f 71.67%,#9eba5b 78.33%,#5a9ea2 85%,#549aaa 85.83%,#445dcb 97.5%,#435acc)"></i><i style="top:297.11px;height:5.81px;background:linear-gradient(90deg,#781c86,#761c88 2.5%,#5e22a4 10.83%,#4931be 17.5%,#4734c1 18.33%,#426bcf 24.17%,#5097b0 29.17%,#67ac8f 33.33%,#73b481 35%,#90bb66 37.5%,#d0b241 47.5%,#d99c3a 58.33%,#cd9f40 65%,#b4a75b 71.67%,#87a377 78.33%,#527eae 85.83%,#4c4ebf 97.5%,#4c4cc0)"></i><i style="top:302.33px;height:5.81px;background:linear-gradient(90deg,#781c86,#761c88 2.5%,#5924aa 12.5%,#4933bf 17.5%,#4736c2 18.33%,#436ece 24.17%,#539aac 29.17%,#6fb285 34.17%,#76b57d 35%,#94bb62 37.5%,#cfb241 47.5%,#d5a53d 57.5%,#bda949 65%,#93a376 71.67%,#718c93 78.33%,#4f61b2 85.83%,#543fb4 97.5%,#543eb4)"></i><i style="top:307.54px;height:5.81px;background:linear-gradient(90deg,#781c86,#761c88 2.5%,#5924aa 12.5%,#4639c3 18.33%,#4371cd 24.17%,#559da9 29.17%,#73b481 34.17%,#7ab77a 35%,#98bc5e 37.5%,#ceb241 47.5%,#d0ac40 57.5%,#cfac40 58.33%,#adb251 65%,#a6b059 65.83%,#729e92 71.67%,#5a76af 78.33%,#4d44b7 85.83%,#5c30a9 97.5%,#5c2fa8)"></i><i style="top:312.75px;height:5.81px;background:linear-gradient(90deg,#781c86,#761c88 2.5%,#5e22a4 10.83%,#542ab1 14.17%,#463cc4 18.33%,#4474cc 24.17%,#579fa6 29.17%,#76b57e 34.17%,#9dbc5a 37.5%,#cdb342 47.5%,#cbb342 57.5%,#c4b546 59.17%,#9dbc5a 65%,#529aae 71.67%,#4566c8 77.5%,#4458cc 79.17%,#4b28bb 85.83%,#63219e 97.5%,#65219d)"></i><i style="top:317.96px;height:5.81px;background:linear-gradient(90deg,#781c86,#761c88 2.5%,#5826ac 12.5%,#4640c5 18.33%,#4470ca 23.33%,#4578c9 24.17%,#5aa2a2 29.17%,#7ab67a 34.17%,#9bbc5c 37.5%,#c6b544 47.5%,#bbb54c 57.5%,#b9b54e 58.33%,#8cb56d 65%,#4e8bb5 71.67%,#4552c8 78.33%,#5525ae 85.83%,#682098 97.5%,#692097)"></i><i style="top:323.18px;height:5.81px;background:linear-gradient(90deg,#781c86,#761c88 2.5%,#5e22a4 10%,#5728ae 12.5%,#4544c6 18.33%,#4573c8 23.33%,#467bc7 24.17%,#5ca49e 29.17%,#7fb776 34.17%,#98bc5e 37.5%,#b9b84b 45.83%,#bfb747 48.33%,#a8b659 58.33%,#7aae80 65%,#4a7dbd 71.67%,#474cc4 77.5%,#4840c2 79.17%,#6022a1 85.83%,#6d1f92 97.5%,#6e1e92)"></i><i style="top:328.39px;height:5.81px;background:linear-gradient(90deg,#781c86,#761c88 2.5%,#5a24a9 10.83%,#4548c7 18.33%,#4677c6 23.33%,#477ec4 24.17%,#5fa69b 29.17%,#83b872 34.17%,#92bb64 36.67%,#b3b94e 45.83%,#b8b94b 48.33%,#97b764 58.33%,#68a693 65%,#476ec4 71.67%,#4667c5 72.5%,#4838c1 78.33%,#682198 85%,#6c1f94 85.83%,#731d8c)"></i><i style="top:333.6px;height:5.81px;background:linear-gradient(90deg,#781c86,#761d88 2.5%,#5925ab 10.83%,#444bc8 18.33%,#477ac4 23.33%,#4882c2 24.17%,#62a897 29.17%,#87b86e 34.17%,#91bb64 36.67%,#b1bb4d 47.5%,#acbb50 49.17%,#87b86f 58.33%,#579fa6 65%,#445fcb 71.67%,#492bbd 78.33%,#4d28b8 79.17%,#771c88 85.83%,#771c87)"></i><i style="top:338.81px;height:5.81px;background:linear-gradient(90deg,#781c86,#761d88 2.5%,#5825ab 10.83%,#454cc8 18.33%,#4562c7 20.83%,#4880c1 24.17%,#60a799 29.17%,#81b675 34.17%,#91ba66 39.17%,#a5ba57 47.5%,#9bba5e 50.83%,#7bb27c 58.33%,#528fae 65%,#4952c4 71.67%,#4d33ba 76.67%,#5225b2 79.17%,#761c88 85.83%,#781c86)"></i><i style="top:344.03px;height:5.81px;background:linear-gradient(90deg,#781c86,#761d88 2.5%,#5825ab 10.83%,#512fb5 13.33%,#4746c4 17.5%,#4560c8 20.83%,#497dc0 24.17%,#5da59d 29.17%,#7cb47a 35%,#8ab96c 40%,#98b961 47.5%,#97b962 48.33%,#90b967 50.83%,#71ab89 58.33%,#67a295 60%,#5283b1 64.17%,#4f7eb4 65%,#5151b7 70%,#4f46bb 71.67%,#5824ac 79.17%,#741d8b 85.83%,#781c86)"></i><i style="top:349.24px;height:5.81px;background:linear-gradient(90deg,#781c86,#761d88 2.5%,#5b23a8 10%,#5329b2 12.5%,#464bc6 18.33%,#445eca 20.83%,#497bc0 24.17%,#5ba3a0 29.17%,#74b182 35%,#81b874 40%,#8ab86c 47.5%,#85b870 50.83%,#6aa691 57.5%,#61a09c 59.17%,#4d74b9 64.17%,#4c6eba 65%,#5350b3 68.33%,#563db0 70.83%,#553ab2 71.67%,#5b24a8 78.33%,#721d8d 85.83%,#781c86)"></i><i style="top:354.45px;height:5.81px;background:linear-gradient(90deg,#781c86,#761d88 2.5%,#5227b3 12.5%,#474ac5 18.33%,#445ccb 20.83%,#4871c3 23.33%,#58a1a4 29.17%,#69ac8e 34.17%,#79b77a 40.83%,#7db778 46.67%,#7bb779 50.83%,#5798a9 59.17%,#5492ae 60%,#4964c1 64.17%,#4a5dc0 65%,#5b32a9 70%,#5c2fa8 70.83%,#63219f 79.17%,#701e8f 85.83%,#781c86)"></i><i style="top:359.66px;height:5.81px;background:linear-gradient(90deg,#781c86,#761d88 2.5%,#5226b3 12.5%,#435acc 20.83%,#4460cb 21.67%,#559ea7 29.17%,#70b682 40.83%,#70b682 50.83%,#4d91b6 59.17%,#4b8aba 60%,#4454c9 64.17%,#474cc6 65%,#6023a2 70%,#771c87 96.67%,#781c86)"></i><i style="top:364.88px;height:5.81px;background:linear-gradient(90deg,#781c86,#761c88 2.5%,#5525af 12.5%,#454bc8 20.83%,#4e84b6 29.17%,#5d98a1 39.17%,#5f9d9e 45%,#5f969e 50.83%,#507fb4 56.67%,#4a6cbc 60%,#4942c1 64.17%,#67259b 69.17%,#692097 70%,#781c86)"></i><i style="top:370.09px;height:5.81px;background:linear-gradient(90deg,#781c86,#761c88 2.5%,#5824ac 12.5%,#463dc4 20.83%,#476bc5 29.17%,#4d7cbc 39.17%,#4e84bb 45%,#4d76bb 50.83%,#4861c2 56.67%,#4a4fbf 60%,#4d37ba 63.33%,#4e31b8 64.17%,#532db3 65%,#711f8e 69.17%,#731d8b 72.5%,#781c86)"></i><i style="top:375.3px;height:5.81px;background:linear-gradient(90deg,#781c86,#761c88 2.5%,#5b23a8 12.5%,#4936c0 21.67%,#4553c9 28.33%,#4557ca 30%,#466cc7 45%,#4657c7 52.5%,#4947c3 57.5%,#5526af 64.17%,#781c87 69.17%,#781c86)"></i><i style="top:380.51px;height:5.81px;background:linear-gradient(90deg,#781c86,#781c86 1.67%,#5c24a6 13.33%,#542ab1 18.33%,#4e32ba 22.5%,#4946c3 29.17%,#4a56c1 45%,#494bc1 50.83%,#4f3eba 56.67%,#5e23a5 64.17%,#781c86 69.17%,#781c86)"></i><i style="top:385.73px;height:5.81px;background:linear-gradient(90deg,#781c86,#771c87 2.5%,#6122a1 12.5%,#5727ad 19.17%,#4d37bb 29.17%,#4d3fba 44.17%,#4e38b9 51.67%,#5631b0 56.67%,#65239d 63.33%,#781c86 69.17%,#781c86)"></i><i style="top:390.94px;height:5.81px;background:linear-gradient(90deg,#781c86,#771c87 2.5%,#6122a1 15%,#5128b4 29.17%,#5128b4 50.83%,#781c86 68.33%,#781c86)"></i><i style="top:396.15px;height:5.81px;background:linear-gradient(90deg,#781c86,#751d89 4.17%,#6b1f96 12.5%,#5e23a5 28.33%,#5d23a5 50.83%,#781c86 67.5%,#781c86)"></i><i style="top:401.36px;height:5.81px;background:linear-gradient(90deg,#781c86,#6b1f95 27.5%,#6b1f95 51.67%,#781c86 67.5%,#781c86)"></i><i style="top:406.58px;height:5.81px;background:#781c86"></i><i style="top:411.79px;height:5.81px;background:#781c86"></i></div></div><div class="dp" style="left:124.1px;top:703.9px;width:426.8px;height:427.9px"><div class="dpi" style="left:-8px;top:-8px;width:442.8px;height:443.9px;filter:blur(2.2px)"><i style="top:0px;height:6.15px;background:linear-gradient(90deg,#6c1f93,#692098 4.17%,#5126b3 18.33%,#454ec8 23.33%,#475cc4 24.17%,#589aa5 26.67%,#69a694 27.5%,#b3b650 30%,#c3b245 30.83%,#d6a13c 32.5%,#dd9b39 33.33%,#df9537 35%,#d79d3b 35.83%,#c1b548 37.5%,#68ab91 40%,#5c9ca1 40.83%,#4369ce 43.33%,#445dcc 44.17%,#5126b3 48.33%,#64219e 54.17%,#5225b2 59.17%,#5225b2 60.83%,#65219c)"></i><i style="top:5.55px;height:6.15px;background:linear-gradient(90deg,#6c1f93,#692098 4.17%,#5126b3 18.33%,#454ec8 23.33%,#475cc4 24.17%,#589aa5 26.67%,#69a693 27.5%,#b4b650 30%,#c3b245 30.83%,#d6a13c 32.5%,#dd9b39 33.33%,#df9537 35%,#d79d3b 35.83%,#c1b547 37.5%,#68ab90 40%,#5c9ca1 40.83%,#4369ce 43.33%,#445dcc 44.17%,#5126b3 48.33%,#64219e 54.17%,#5225b2 59.17%,#5225b2 60.83%,#65219c)"></i><i style="top:11.1px;height:6.15px;background:linear-gradient(90deg,#6c1f94,#6b1f95 2.5%,#5624ad 15%,#5128b4 18.33%,#4653c6 23.33%,#4862c2 24.17%,#5d9d9f 26.67%,#6fa88d 27.5%,#b6b34e 30%,#c6af44 30.83%,#dd9738 33.33%,#df9237 35%,#d89a3a 35.83%,#c3b246 37.5%,#6eac8a 40%,#619f9b 40.83%,#446dcc 43.33%,#4e32b9 47.5%,#5128b4 48.33%,#5326b1 49.17%,#63219f 54.17%,#5226b3 59.17%,#5226b3 61.67%,#64219d)"></i><i style="top:16.65px;height:6.15px;background:linear-gradient(90deg,#6c1f94,#6c1f94 1.67%,#5624ae 15%,#502ab5 18.33%,#4c36bc 20%,#4658c5 23.33%,#4867c1 24.17%,#629f9a 26.67%,#74aa87 27.5%,#b9b04c 30%,#c8ab42 30.83%,#d99a3a 32.5%,#de9337 33.33%,#e08f36 35%,#da983a 35.83%,#c5af45 37.5%,#75ae84 40%,#66a196 40.83%,#4571c9 43.33%,#4d33ba 47.5%,#502ab5 48.33%,#5b24a8 51.67%,#6222a0 54.17%,#5127b4 59.17%,#5027b5 60.83%,#64219d)"></i><i style="top:22.2px;height:6.15px;background:linear-gradient(90deg,#6b1f95,#6a1f96 2.5%,#5724ad 14.17%,#4f2bb6 18.33%,#4a40c0 20.83%,#475ec3 23.33%,#496dbf 24.17%,#68a294 26.67%,#7aad81 27.5%,#bcae4b 30%,#cba741 30.83%,#df9037 33.33%,#e08c36 35%,#d3a13d 36.67%,#c7ac44 37.5%,#7baf7e 40%,#6ca390 40.83%,#4675c6 43.33%,#485ac4 45%,#4c34bb 47.5%,#4f2bb7 48.33%,#5229b3 49.17%,#6022a2 53.33%,#6022a1 54.17%,#5028b5 59.17%,#4f28b6 60.83%,#64219e)"></i><i style="top:27.74px;height:6.15px;background:linear-gradient(90deg,#6b1f95,#6a2096 2.5%,#5724ad 14.17%,#502ab5 17.5%,#4d33bb 19.17%,#4942c0 20.83%,#4863c1 23.33%,#4a72bd 24.17%,#6da48f 26.67%,#80af7b 27.5%,#bfab49 30%,#cea43f 30.83%,#db9338 32.5%,#e08835 34.17%,#e08935 35%,#dc9238 35.83%,#d59e3c 36.67%,#c9a943 37.5%,#81b178 40%,#71a68b 40.83%,#4879c4 43.33%,#476bc5 44.17%,#4a41bf 46.67%,#4e2db8 48.33%,#5f23a4 53.33%,#5f22a3 54.17%,#5028b5 59.17%,#4f29b7 61.67%,#5724ad 75%,#63219e)"></i><i style="top:33.29px;height:6.15px;background:linear-gradient(90deg,#6b1f96,#6a2097 2.5%,#5624ad 14.17%,#5326b1 15.83%,#4e2fb8 18.33%,#4944c1 20.83%,#4968bf 23.33%,#4b78bb 24.17%,#72a68a 26.67%,#85b175 27.5%,#c2a847 30%,#d1a03e 30.83%,#e08935 33.33%,#e18434 34.17%,#e18634 35%,#dd8f37 35.83%,#d79b3b 36.67%,#cba641 37.5%,#87b372 40%,#76a885 40.83%,#497dc1 43.33%,#476fc3 44.17%,#4a42bf 46.67%,#4b35bd 47.5%,#4d2eb9 48.33%,#5e23a5 53.33%,#5e23a4 54.17%,#4f29b6 59.17%,#4d2ab9 60.83%,#5624ad 75.83%,#63219f)"></i><i style="top:38.84px;height:6.15px;background:linear-gradient(90deg,#6a1f96,#692097 2.5%,#5326b2 15.83%,#4d30b9 18.33%,#493cc0 20%,#4846c2 20.83%,#496dbe 23.33%,#4c7eb9 24.17%,#77a984 26.67%,#8bb36f 27.5%,#c5a545 30%,#d49d3c 30.83%,#dd8c37 32.5%,#e18033 34.17%,#e18434 35%,#d9983a 36.67%,#cda340 37.5%,#8db46c 40%,#7baa80 40.83%,#4a82be 43.33%,#4872c1 44.17%,#4a36be 47.5%,#4d30ba 48.33%,#5d24a6 53.33%,#5d23a5 54.17%,#4f2ab7 59.17%,#4c2bba 61.67%,#5624ad 77.5%,#63219f)"></i><i style="top:44.39px;height:6.15px;background:linear-gradient(90deg,#6a2096,#6a2096 1.67%,#5724ad 13.33%,#502ab5 16.67%,#483ec1 20%,#4848c2 20.83%,#4a72bc 23.33%,#4c83b7 24.17%,#7cab7f 26.67%,#90b569 27.5%,#c8a343 30%,#d7993b 30.83%,#e18133 33.33%,#e27c32 34.17%,#e28133 35%,#db9539 36.67%,#cfa03f 37.5%,#93b666 40%,#81ad7a 40.83%,#4b86bc 43.33%,#4976bf 44.17%,#4937bf 47.5%,#4f2fb8 49.17%,#5926ab 52.5%,#5c23a6 54.17%,#4e2ab8 59.17%,#4b2cbb 61.67%,#5624ad 78.33%,#62219f)"></i><i style="top:49.94px;height:6.15px;background:linear-gradient(90deg,#6a2097,#682098 2.5%,#5425b1 15%,#4c34bc 18.33%,#483fc2 20%,#474ac3 20.83%,#4b77ba 23.33%,#4d89b5 24.17%,#81ae79 26.67%,#96b763 27.5%,#cba041 30%,#da9539 30.83%,#e27831 34.17%,#e27e33 35%,#dd9238 36.67%,#d19d3e 37.5%,#99b760 40%,#86af75 40.83%,#4c8ab9 43.33%,#4979bd 44.17%,#4846c0 46.67%,#4938c0 47.5%,#4b33bc 48.33%,#5b23a8 54.17%,#4a2dbd 60.83%,#5325b1 75%,#6222a0)"></i><i style="top:55.49px;height:6.15px;background:linear-gradient(90deg,#692097,#692097 1.67%,#5325b1 15%,#4b35bd 18.33%,#4741c3 20%,#474cc3 20.83%,#4e8eb4 24.17%,#5f9aa0 25%,#9bba5d 27.5%,#dd9238 30.83%,#e37431 34.17%,#df8e37 36.67%,#d39a3d 37.5%,#9fb95a 40%,#8bb16f 40.83%,#4e8eb7 43.33%,#4a7dbb 44.17%,#4847c1 46.67%,#4839c1 47.5%,#5925aa 53.33%,#5a24a9 54.17%,#4b2dbc 60%,#492ebe 61.67%,#5325b1 75.83%,#6222a0)"></i><i style="top:61.04px;height:6.15px;background:linear-gradient(90deg,#692098,#682099 2.5%,#5325b2 15%,#4642c4 20%,#464dc4 20.83%,#4f94b2 24.17%,#619f9d 25%,#a1bc57 27.5%,#e08e36 30.83%,#e37030 34.17%,#e18b36 36.67%,#d5973c 37.5%,#a5ba54 40%,#90b46a 40.83%,#4f92b4 43.33%,#4b80b9 44.17%,#4748c1 46.67%,#473ac2 47.5%,#5825ab 53.33%,#5924aa 54.17%,#4a2ebd 60%,#482fbf 61.67%,#5225b2 75.83%,#6122a1)"></i><i style="top:66.59px;height:6.15px;background:linear-gradient(90deg,#682098,#672099 2.5%,#5226b2 15%,#5128b5 15.83%,#483ec2 19.17%,#4644c5 20%,#4650c4 20.83%,#5097b0 24.17%,#63a29a 25%,#a5bc54 27.5%,#e18b35 30.83%,#e36c2f 34.17%,#e28835 36.67%,#d7943b 37.5%,#aabb50 40%,#95b565 40.83%,#5195b1 43.33%,#4c83b8 44.17%,#474bc1 46.67%,#473cc3 47.5%,#5824ab 54.17%,#4830c0 60.83%,#4830c0 61.67%,#5325b2 77.5%,#6122a1)"></i><i style="top:72.13px;height:6.15px;background:linear-gradient(90deg,#682098,#682098 1.67%,#5227b3 15%,#4840c2 19.17%,#4652c4 20.83%,#5298ae 24.17%,#7bac80 25.83%,#a6ba53 27.5%,#c6a342 29.17%,#e18835 30.83%,#e27e33 31.67%,#e3682e 34.17%,#e26f30 35%,#e18534 36.67%,#d8923a 37.5%,#acb94f 40%,#98b563 40.83%,#5496ad 43.33%,#4d86b6 44.17%,#474ec1 46.67%,#473fc2 47.5%,#5626ae 53.33%,#5725ac 54.17%,#4930be 60%,#4831c0 62.5%,#5126b3 75.83%,#6022a1)"></i><i style="top:77.68px;height:6.15px;background:linear-gradient(90deg,#682099,#67209a 2.5%,#5128b4 15%,#493bc0 18.33%,#4649c5 20%,#4655c4 20.83%,#4a76bc 22.5%,#5498ab 24.17%,#7cae7e 25.83%,#a8b853 27.5%,#c9a241 29.17%,#e18434 30.83%,#e17932 31.67%,#e2642e 34.17%,#e26a2f 35%,#e18233 36.67%,#d99039 37.5%,#afb74e 40%,#9bb560 40.83%,#5798aa 43.33%,#4f88b4 44.17%,#4852c0 46.67%,#4743c2 47.5%,#4a38be 49.17%,#5526af 53.33%,#5625ae 54.17%,#4733c1 60.83%,#4733c1 61.67%,#5325b1 78.33%,#6022a2)"></i><i style="top:83.23px;height:6.15px;background:linear-gradient(90deg,#672099,#65219c 3.33%,#5724ad 11.67%,#5129b5 15%,#493dc1 18.33%,#464cc5 20%,#4657c4 20.83%,#4a78bc 22.5%,#5799a9 24.17%,#7eaf7c 25.83%,#a9b653 27.5%,#cba040 29.17%,#e18134 30.83%,#e16c2f 32.5%,#e2602d 34.17%,#e1652e 35%,#e17e33 36.67%,#da8d38 37.5%,#ce9c3f 38.33%,#b1b54d 40%,#9fb55e 40.83%,#89ae74 41.67%,#5b9aa6 43.33%,#508ab2 44.17%,#4b79b9 45%,#4855bf 46.67%,#4746c2 47.5%,#4a39bf 49.17%,#5525af 54.17%,#4734c1 60.83%,#4734c1 62.5%,#5325b1 78.33%,#6022a2)"></i><i style="top:88.78px;height:6.15px;background:linear-gradient(90deg,#67209a,#66219b 2.5%,#5326b1 13.33%,#4e2eb8 15.83%,#483ec2 18.33%,#464ec5 20%,#465ac4 20.83%,#4a79bd 22.5%,#599aa7 24.17%,#7fb07a 25.83%,#aab553 27.5%,#ce9f3f 29.17%,#e07e33 30.83%,#e17030 31.67%,#e1612e 33.33%,#e15c2c 34.17%,#e1602d 35%,#e17b32 36.67%,#db8b37 37.5%,#d09a3e 38.33%,#b4b34b 40%,#a2b55b 40.83%,#8daf70 41.67%,#5e9ba3 43.33%,#518db1 44.17%,#4c7cb8 45%,#474ac1 47.5%,#493bc0 49.17%,#5327b1 53.33%,#5327b2 55%,#4736c2 61.67%,#5325b2 78.33%,#5f22a3)"></i><i style="top:94.33px;height:6.15px;background:linear-gradient(90deg,#67209a,#66219b 2.5%,#5425b0 12.5%,#5129b4 14.17%,#4e2fb9 15.83%,#483fc2 18.33%,#465cc4 20.83%,#497bbd 22.5%,#528ab2 23.33%,#5b9aa5 24.17%,#81b178 25.83%,#acb353 27.5%,#d09d3e 29.17%,#e07b32 30.83%,#e06c30 31.67%,#e1632e 32.5%,#e1582c 34.17%,#e05b2c 35%,#e0672f 35.83%,#e17732 36.67%,#dc8937 37.5%,#d2983d 38.33%,#b6b24a 40%,#a5b558 40.83%,#90b06d 41.67%,#619d9f 43.33%,#538faf 44.17%,#4c7fb7 45%,#474dc1 47.5%,#4844c2 48.33%,#493cc1 49.17%,#5228b2 53.33%,#5326b1 54.17%,#4736c1 60.83%,#4737c2 62.5%,#5325b1 79.17%,#5f22a3)"></i><i style="top:99.88px;height:6.15px;background:linear-gradient(90deg,#66209a,#66209a 1.67%,#5227b2 13.33%,#4d31ba 15.83%,#4741c3 18.33%,#475fc4 20.83%,#497cbe 22.5%,#5d9ba2 24.17%,#82b376 25.83%,#adb152 27.5%,#d39c3d 29.17%,#e07732 30.83%,#e0672f 31.67%,#e05e2d 32.5%,#e0542b 34.17%,#e0562c 35%,#e0632e 35.83%,#e17431 36.67%,#dd8636 37.5%,#d4963c 38.33%,#b8b049 40%,#a8b556 40.83%,#94b169 41.67%,#649e9c 43.33%,#5492ad 44.17%,#4c82b6 45%,#4960be 46.67%,#4846c2 48.33%,#483ec2 49.17%,#5128b3 53.33%,#5226b2 54.17%,#4737c2 60.83%,#4739c2 62.5%,#5226b3 77.5%,#5f22a3)"></i><i style="top:105.43px;height:6.15px;background:linear-gradient(90deg,#66209b,#65219c 2.5%,#5425b0 12.5%,#4d32bb 15.83%,#4742c4 18.33%,#4761c3 20.83%,#497dbe 22.5%,#5f9ba0 24.17%,#84b474 25.83%,#aeaf52 27.5%,#d59a3c 29.17%,#e07431 30.83%,#e0632e 31.67%,#e05a2c 32.5%,#e0502a 34.17%,#df512b 35%,#e05e2d 35.83%,#de8435 37.5%,#d6953b 38.33%,#bbae48 40%,#abb553 40.83%,#97b366 41.67%,#67a098 43.33%,#5594ab 44.17%,#4d85b5 45%,#4854c1 47.5%,#473fc3 49.17%,#5028b5 53.33%,#5126b3 54.17%,#4738c2 60.83%,#473ac3 62.5%,#5325b2 79.17%,#5e22a4)"></i><i style="top:110.97px;height:6.15px;background:linear-gradient(90deg,#66219b,#66219b 1.67%,#5325b1 12.5%,#4e2fb9 15%,#4643c5 18.33%,#4764c3 20.83%,#497fbf 22.5%,#619c9e 24.17%,#85b572 25.83%,#b0ad52 27.5%,#d7993b 29.17%,#e05e2d 31.67%,#df502b 33.33%,#de4c2a 35%,#df5a2c 35.83%,#e06d30 36.67%,#df8234 37.5%,#d8933a 38.33%,#bdac47 40%,#afb550 40.83%,#9bb462 41.67%,#6ba195 43.33%,#5796aa 44.17%,#4d88b5 45%,#4b78b9 45.83%,#4857c0 47.5%,#4740c4 49.17%,#5029b6 53.33%,#5027b5 54.17%,#4837c1 60%,#463cc3 62.5%,#5225b2 79.17%,#5e22a4)"></i><i style="top:116.52px;height:6.15px;background:linear-gradient(90deg,#65219c,#64219d 2.5%,#5325b1 12.5%,#4b35bc 15.83%,#4645c5 18.33%,#4767c3 20.83%,#4980bf 22.5%,#649d9c 24.17%,#87b670 25.83%,#b1ab52 27.5%,#da973a 29.17%,#df5a2c 31.67%,#df502b 32.5%,#de4829 34.17%,#de4729 35%,#df552c 35.83%,#e07f34 37.5%,#da9139 38.33%,#c0ab45 40%,#b2b54e 40.83%,#9fb55f 41.67%,#6ea392 43.33%,#5899a8 44.17%,#4e8bb4 45%,#485bc0 47.5%,#4642c5 49.17%,#4f29b7 53.33%,#4f27b6 54.17%,#473bc3 60.83%,#463dc4 62.5%,#5225b2 79.17%,#5e23a5)"></i><i style="top:122.07px;height:6.15px;background:linear-gradient(90deg,#65219c,#65219c 1.67%,#5225b2 12.5%,#4546c6 18.33%,#4769c3 20.83%,#4882c0 22.5%,#568fae 23.33%,#88b86e 25.83%,#b2a952 27.5%,#dc9639 29.17%,#df552c 31.67%,#df4c2a 32.5%,#dd4128 35%,#de512b 35.83%,#e17d33 37.5%,#dc8f38 38.33%,#b5b54b 40.83%,#a2b65b 41.67%,#5a9ba6 44.17%,#4e8eb3 45%,#485ec0 47.5%,#4643c5 49.17%,#4e27b7 54.17%,#463fc4 62.5%,#5225b2 79.17%,#5d23a5)"></i><i style="top:127.62px;height:6.15px;background:linear-gradient(90deg,#65219d,#63219e 2.5%,#5325b1 11.67%,#5029b5 13.33%,#4547c7 18.33%,#4883c0 22.5%,#89b96c 25.83%,#de9438 29.17%,#df522b 31.67%,#de4829 32.5%,#dd3d27 35%,#de4d2a 35.83%,#e27a32 37.5%,#dd8d37 38.33%,#b8b449 40.83%,#a5b759 41.67%,#5b9ea4 44.17%,#4f91b1 45%,#4652c3 48.33%,#4545c6 49.17%,#4d28b8 54.17%,#4640c5 61.67%,#4640c5 62.5%,#5126b3 78.33%,#5d23a6)"></i><i style="top:133.17px;height:6.15px;background:linear-gradient(90deg,#64219d,#64219d 1.67%,#5325b1 11.67%,#5029b5 13.33%,#4548c7 18.33%,#4884c0 22.5%,#8ab96c 25.83%,#de9438 29.17%,#df512b 31.67%,#de4729 32.5%,#dd3c27 35%,#de4b2a 35.83%,#e17631 37.5%,#dd8936 38.33%,#bab248 40.83%,#a7b557 41.67%,#5f9fa0 44.17%,#5293ae 45%,#4965be 47.5%,#4649c5 49.17%,#4c2dba 53.33%,#4d2bb9 54.17%,#4642c5 61.67%,#4642c5 62.5%,#5126b4 78.33%,#5c23a6)"></i><i style="top:138.72px;height:6.15px;background:linear-gradient(90deg,#63219e,#63219e 1.67%,#5225b2 11.67%,#4f29b6 13.33%,#4549c7 18.33%,#4879c1 21.67%,#4985bf 22.5%,#5792ac 23.33%,#8ab96b 25.83%,#de9338 29.17%,#df512b 31.67%,#de4629 32.5%,#dd3c27 35%,#de492a 35.83%,#e17331 37.5%,#dd8635 38.33%,#bcb047 40.83%,#a9b356 41.67%,#63a19c 44.17%,#5695aa 45%,#475ac2 48.33%,#464dc4 49.17%,#4c30bb 53.33%,#4c2eba 54.17%,#4544c6 62.5%,#5126b4 79.17%,#5c23a7)"></i><i style="top:144.27px;height:6.15px;background:linear-gradient(90deg,#63219f,#6122a0 2.5%,#5126b4 12.5%,#4f29b6 13.33%,#4549c7 18.33%,#4661c4 20%,#4985be 22.5%,#5892ac 23.33%,#8bb96b 25.83%,#df9337 29.17%,#df512b 31.67%,#de4529 32.5%,#dd3b27 35%,#dd4729 35.83%,#e16f30 37.5%,#de8235 38.33%,#bdad47 40.83%,#abb255 41.67%,#66a398 44.17%,#5997a6 45%,#485dc1 48.33%,#4751c3 49.17%,#4b33bc 53.33%,#4c30bb 54.17%,#4546c7 62.5%,#5026b5 79.17%,#5b23a8)"></i><i style="top:149.82px;height:6.15px;background:linear-gradient(90deg,#6221a0,#6122a1 2.5%,#5026b4 12.5%,#454ac7 18.33%,#4762c4 20%,#4986be 22.5%,#8bb96a 25.83%,#df9237 29.17%,#de502b 31.67%,#de4428 32.5%,#dc3a27 35%,#dd4529 35.83%,#df562c 36.67%,#de7f34 38.33%,#cc9e3f 40%,#bfab46 40.83%,#adb053 41.67%,#6aa494 44.17%,#5c99a2 45%,#4c6fba 47.5%,#4755c2 49.17%,#4b36bd 53.33%,#4b33bd 54.17%,#4548c7 62.5%,#4f27b6 78.33%,#5a23a9)"></i><i style="top:155.37px;height:6.15px;background:linear-gradient(90deg,#6122a0,#6122a0 1.67%,#5026b5 12.5%,#454ac8 18.33%,#4987bd 22.5%,#5893ab 23.33%,#8cb96a 25.83%,#df9237 29.17%,#de502b 31.67%,#de4328 32.5%,#dc3927 35%,#dd4329 35.83%,#de522b 36.67%,#de7b33 38.33%,#ce9c3e 40%,#c1a945 40.83%,#afae52 41.67%,#6da68f 44.17%,#609b9f 45%,#4c73b9 47.5%,#4859c1 49.17%,#4a39be 53.33%,#4a36be 54.17%,#4549c8 62.5%,#4f27b6 79.17%,#5a24a9)"></i><i style="top:160.91px;height:6.15px;background:linear-gradient(90deg,#6122a1,#6122a1 1.67%,#4f26b5 12.5%,#454bc8 18.33%,#4a88bd 22.5%,#5894aa 23.33%,#8cb969 25.83%,#df9237 29.17%,#de4f2b 31.67%,#de4228 32.5%,#dc3827 35%,#dd4128 35.83%,#de4f2b 36.67%,#de7833 38.33%,#cf993d 40%,#c3a744 40.83%,#b1ad51 41.67%,#71a88b 44.17%,#639d9b 45%,#4d76b7 47.5%,#4969be 48.33%,#485dc0 49.17%,#4942bf 52.5%,#4a38bf 54.17%,#454bc8 62.5%,#4e27b7 79.17%,#5924aa)"></i><i style="top:166.46px;height:6.15px;background:linear-gradient(90deg,#6022a2,#5f22a3 2.5%,#4f26b6 12.5%,#454cc8 18.33%,#4a89bc 22.5%,#5995aa 23.33%,#8db969 25.83%,#df9137 29.17%,#de4f2b 31.67%,#dd4028 32.5%,#dc3726 35%,#dd3f28 35.83%,#de4c2a 36.67%,#de7532 38.33%,#d1973c 40%,#c5a543 40.83%,#b3ab50 41.67%,#75a987 44.17%,#669f97 45%,#4e79b6 47.5%,#4a6dbd 48.33%,#4861bf 49.17%,#493fc0 53.33%,#493bc0 54.17%,#444dc9 62.5%,#4d28b8 78.33%,#5824ab)"></i><i style="top:172.01px;height:6.15px;background:linear-gradient(90deg,#5f22a3,#5e22a4 2.5%,#4e26b7 12.5%,#454cc8 18.33%,#4a89bc 22.5%,#8db968 25.83%,#df9137 29.17%,#de4f2b 31.67%,#dd3f28 32.5%,#dc3626 35%,#dc3d28 35.83%,#dd4829 36.67%,#de7131 38.33%,#d3953b 40%,#c7a242 40.83%,#b5a94e 41.67%,#78ab83 44.17%,#6aa193 45%,#4f7db5 47.5%,#4965bf 49.17%,#4941c1 53.33%,#493ec1 54.17%,#444fc9 62.5%,#4d28b9 78.33%,#5824ac)"></i><i style="top:177.56px;height:6.15px;background:linear-gradient(90deg,#5f22a3,#5f22a3 1.67%,#4e27b7 12.5%,#4d2ab9 13.33%,#444dc8 18.33%,#4a8abb 22.5%,#8eb968 25.83%,#a2b15b 26.67%,#df9037 29.17%,#de4e2a 31.67%,#dd3e28 32.5%,#dc3526 35%,#dc3b27 35.83%,#dd4529 36.67%,#de6e31 38.33%,#d5923b 40%,#c8a041 40.83%,#b7a84d 41.67%,#7cad7f 44.17%,#6da390 45%,#5080b3 47.5%,#4b74bb 48.33%,#4969be 49.17%,#4844c2 53.33%,#4840c2 54.17%,#4451ca 62.5%,#4d28b9 79.17%,#5724ac)"></i><i style="top:183.11px;height:6.15px;background:linear-gradient(90deg,#5e22a4,#5e22a4 1.67%,#4e27b8 12.5%,#4b30bc 14.17%,#444ec8 18.33%,#4b8bbb 22.5%,#8eb967 25.83%,#a3b15b 26.67%,#e09037 29.17%,#de4e2a 31.67%,#dd3d27 32.5%,#dc3426 35%,#dd4128 36.67%,#de6a30 38.33%,#d7903a 40%,#ca9e40 40.83%,#b9a64c 41.67%,#7fae7b 44.17%,#70a58c 45%,#5084b2 47.5%,#4b78ba 48.33%,#4a6dbd 49.17%,#4956c0 51.67%,#4847c2 53.33%,#4743c3 54.17%,#4453ca 61.67%,#4c29ba 78.33%,#5624ad)"></i><i style="top:188.66px;height:6.15px;background:linear-gradient(90deg,#5d23a5,#5c23a6 2.5%,#4d27b8 12.5%,#444ec9 18.33%,#4b8cba 22.5%,#8fba67 25.83%,#e08f37 29.17%,#de4e2a 31.67%,#dd3c27 32.5%,#dc3426 35%,#dc3727 35.83%,#dc3e28 36.67%,#de672f 38.33%,#d88e39 40%,#cc9c40 40.83%,#bba44b 41.67%,#83b077 44.17%,#74a788 45%,#5187b1 47.5%,#4b7cb9 48.33%,#4a71bc 49.17%,#474ac3 53.33%,#4746c5 54.17%,#4455cb 61.67%,#4b29bb 78.33%,#5625ae)"></i><i style="top:194.21px;height:6.15px;background:linear-gradient(90deg,#5d23a6,#5a23a8 3.33%,#4d27b9 12.5%,#444fc9 18.33%,#4b8db9 22.5%,#5a98a7 23.33%,#8fba66 25.83%,#e08f36 29.17%,#de4d2a 31.67%,#dd3b27 32.5%,#db3326 35%,#dc3b27 36.67%,#de632f 38.33%,#da8c38 40%,#ce9a3f 40.83%,#bda349 41.67%,#86b273 44.17%,#528ab0 47.5%,#4c80b8 48.33%,#4a75bb 49.17%,#4965bf 50.83%,#474dc4 53.33%,#4648c6 54.17%,#4356cb 62.5%,#4b2abb 78.33%,#5525af)"></i><i style="top:199.75px;height:6.15px;background:linear-gradient(90deg,#5c23a7,#5a24a9 3.33%,#4c27b9 12.5%,#444fc9 18.33%,#4b8db9 22.5%,#90ba66 25.83%,#e08e36 29.17%,#de4d2a 31.67%,#dd3a27 32.5%,#db3226 35%,#dc3727 36.67%,#dc8937 40%,#d0973e 40.83%,#bfa148 41.67%,#8ab46f 44.17%,#7aab81 45%,#538eae 47.5%,#4c83b7 48.33%,#4758c3 52.5%,#464bc7 54.17%,#4358cc 62.5%,#4a2abc 78.33%,#5425b0)"></i><i style="top:205.3px;height:6.15px;background:linear-gradient(90deg,#5b23a7,#5b23a7 1.67%,#4c27ba 12.5%,#4450c9 18.33%,#4b8eb8 22.5%,#5b99a6 23.33%,#90ba66 25.83%,#e08e36 29.17%,#dc3927 32.5%,#db3125 35%,#db3426 36.67%,#dd4629 37.5%,#de8736 40%,#d2953d 40.83%,#c1a047 41.67%,#8eb56b 44.17%,#5391ad 47.5%,#4d87b6 48.33%,#475bc4 52.5%,#454ec8 54.17%,#435acd 62.5%,#4a2abd 78.33%,#5425b0)"></i><i style="top:210.85px;height:6.15px;background:linear-gradient(90deg,#5b23a8,#5a24a9 2.5%,#4b27ba 12.5%,#4a2bbc 13.33%,#4451c9 18.33%,#4c8fb8 22.5%,#5b9aa5 23.33%,#91ba65 25.83%,#e08e36 29.17%,#dc3827 32.5%,#db3025 35%,#db3025 36.67%,#dd4228 37.5%,#df8535 40%,#c39e46 41.67%,#a2b15b 43.33%,#91b767 44.17%,#5494ac 47.5%,#4d8bb5 48.33%,#4555c7 53.33%,#4550c9 54.17%,#435ccd 62.5%,#492bbd 78.33%,#5325b1)"></i><i style="top:216.4px;height:6.15px;background:linear-gradient(90deg,#5a23a9,#5824ab 3.33%,#4b27bb 12.5%,#4451c9 18.33%,#4c90b7 22.5%,#5b9ba5 23.33%,#91ba65 25.83%,#e08d36 29.17%,#dc3726 32.5%,#db2f25 35%,#db2d25 36.67%,#dc3e28 37.5%,#e18234 40%,#d5913b 40.83%,#b5a74e 42.5%,#95b963 44.17%,#5598aa 47.5%,#4e8fb4 48.33%,#4558c8 53.33%,#4453ca 54.17%,#425ece 61.67%,#435bcd 63.33%,#482bbe 78.33%,#5225b2)"></i><i style="top:221.95px;height:6.15px;background:linear-gradient(90deg,#5924aa,#5624ad 4.17%,#4a27bb 12.5%,#4452ca 18.33%,#4c91b7 22.5%,#92ba64 25.83%,#e18d36 29.17%,#dc3626 32.5%,#da2a24 36.67%,#dc3b27 37.5%,#e38033 40%,#d78f3a 40.83%,#b8a74c 42.5%,#98ba5f 44.17%,#569ba9 47.5%,#4e92b3 48.33%,#445bc9 53.33%,#4356cb 54.17%,#4260ce 61.67%,#482bbf 78.33%,#5226b3)"></i><i style="top:227.5px;height:6.15px;background:linear-gradient(90deg,#5924ab,#5525ae 4.17%,#4a2abc 12.5%,#492ebe 13.33%,#4454c9 18.33%,#4e92b5 22.5%,#5d9ca2 23.33%,#93ba63 25.83%,#e08d36 29.17%,#dc3726 32.5%,#da2a24 36.67%,#dc3b27 37.5%,#e37f33 40%,#d88e3a 40.83%,#abb252 43.33%,#9bbb5c 44.17%,#589da7 47.5%,#4f95b1 48.33%,#445ec9 53.33%,#4359cc 54.17%,#4262ce 61.67%,#435fcd 63.33%,#472dbf 78.33%,#5226b3)"></i><i style="top:233.05px;height:6.15px;background:linear-gradient(90deg,#5824ac,#5526af 4.17%,#492dbd 12.5%,#4831bf 13.33%,#4458c9 18.33%,#4f94b2 22.5%,#95bb61 25.83%,#e08d36 29.17%,#dc3927 32.5%,#db2c25 36.67%,#dc3c27 37.5%,#e37f33 40%,#d98d39 40.83%,#adb151 43.33%,#9eba5a 44.17%,#5a9fa4 47.5%,#5197af 48.33%,#4562c9 53.33%,#435dcb 54.17%,#4365ce 61.67%,#472fc0 78.33%,#5226b3)"></i><i style="top:238.6px;height:6.15px;background:linear-gradient(90deg,#5724ad,#5526af 3.33%,#4d2ab9 9.17%,#4930bf 12.5%,#454cc8 16.67%,#455bc8 18.33%,#4b7fbb 20.83%,#5196af 22.5%,#97bb5f 25.83%,#df8d37 29.17%,#e17932 30%,#dd3b27 32.5%,#dc3626 33.33%,#db3025 35.83%,#db2f25 36.67%,#dc3e28 37.5%,#e37e32 40%,#da8d39 40.83%,#afb14f 43.33%,#a1ba58 44.17%,#5da0a1 47.5%,#5298ad 48.33%,#4565c8 53.33%,#4360cb 54.17%,#4366cd 62.5%,#4732c1 78.33%,#5226b3)"></i><i style="top:244.15px;height:6.15px;background:linear-gradient(90deg,#5624ae,#4f29b6 6.67%,#4833c0 12.5%,#444fc9 16.67%,#455ec8 18.33%,#4e8db4 21.67%,#5398ad 22.5%,#99bb5d 25.83%,#de8d37 29.17%,#e27a32 30%,#dd3d28 32.5%,#dc3726 33.33%,#dc3526 34.17%,#db3125 36.67%,#dd4028 37.5%,#e37d32 40%,#db8c38 40.83%,#b2b04e 43.33%,#a4b956 44.17%,#94b666 45%,#60a19e 47.5%,#549aab 48.33%,#4569c8 53.33%,#4464cb 54.17%,#436acd 61.67%,#4734c2 78.33%,#5226b3)"></i><i style="top:249.69px;height:6.15px;background:linear-gradient(90deg,#5525ae,#5525ae 1.67%,#4a2ebd 10%,#473bc3 13.33%,#4459ca 17.5%,#4f8fb3 21.67%,#5599aa 22.5%,#9bbc5c 25.83%,#de8d37 29.17%,#e27b32 30%,#dd3f28 32.5%,#dc3827 33.33%,#dc3326 36.67%,#dd4228 37.5%,#e37d32 40%,#dc8c38 40.83%,#a7b954 44.17%,#97b664 45%,#62a39b 47.5%,#559ca9 48.33%,#456cc8 53.33%,#4467cb 54.17%,#436bcc 62.5%,#4735c2 79.17%,#5226b3)"></i><i style="top:255.24px;height:6.15px;background:linear-gradient(90deg,#5425af,#5425af 1.67%,#4930be 10%,#473ac2 12.5%,#445ccb 17.5%,#5091b1 21.67%,#579ba8 22.5%,#9dbc5a 25.83%,#dd8d37 29.17%,#e27c32 30%,#dd4128 32.5%,#dc3927 33.33%,#dc3526 36.67%,#dd4329 37.5%,#e27c32 40%,#de8b37 40.83%,#a9b952 44.17%,#9ab761 45%,#65a498 47.5%,#569da7 48.33%,#466fc7 53.33%,#446bcb 54.17%,#436dcc 62.5%,#4639c3 78.33%,#5126b3 97.5%,#5226b3)"></i><i style="top:260.79px;height:6.15px;background:linear-gradient(90deg,#5425b0,#5425b0 1.67%,#4832bf 10%,#463dc4 12.5%,#4358cc 16.67%,#445fcb 17.5%,#5194af 21.67%,#599da5 22.5%,#9fbc58 25.83%,#dc8d38 29.17%,#e37d32 30%,#de4329 32.5%,#dd3a27 33.33%,#dc3727 36.67%,#dd4529 37.5%,#e27c32 40%,#df8b37 40.83%,#acb850 44.17%,#9db85e 45%,#67a595 47.5%,#589fa5 48.33%,#446ecb 54.17%,#4470cb 62.5%,#463bc4 78.33%,#5126b3 97.5%,#5226b3)"></i><i style="top:266.34px;height:6.15px;background:linear-gradient(90deg,#5325b1,#5325b1 1.67%,#4833c0 10%,#435acd 16.67%,#4462cb 17.5%,#5296ae 21.67%,#5b9fa2 22.5%,#a1bd56 25.83%,#dc8d38 29.17%,#e37d32 30%,#de4629 32.5%,#dd3b27 33.33%,#dc3a27 36.67%,#de4729 37.5%,#e27b32 40%,#e08a36 40.83%,#afb84e 44.17%,#a0b85b 45%,#59a1a3 48.33%,#4676c7 53.33%,#4472cb 54.17%,#4472cb 62.5%,#463cc4 79.17%,#5126b3 97.5%,#5226b3)"></i><i style="top:271.89px;height:6.15px;background:linear-gradient(90deg,#5226b2,#5028b5 3.33%,#4735c2 10%,#435dce 16.67%,#4364cc 17.5%,#5398ac 21.67%,#5da1a0 22.5%,#a3bd54 25.83%,#db8d38 29.17%,#e37e32 30%,#de4829 32.5%,#dd3c27 33.33%,#dd3c27 36.67%,#de4829 37.5%,#e18a35 40.83%,#b2b74c 44.17%,#a3b959 45%,#5ba3a0 48.33%,#4980c0 52.5%,#4475ca 54.17%,#4476ca 61.67%,#4640c5 78.33%,#5127b3 97.5%,#5226b3)"></i><i style="top:277.44px;height:6.15px;background:linear-gradient(90deg,#5028b4,#5029b6 2.5%,#4638c3 10%,#4361cd 16.67%,#4468cb 17.5%,#559aaa 21.67%,#5fa39d 22.5%,#a4bd54 25.83%,#da8e39 29.17%,#e38133 30%,#de4d2a 32.5%,#dd4228 33.33%,#dd4328 36.67%,#de4e2a 37.5%,#e17d33 40%,#df8c36 40.83%,#b1b74d 44.17%,#a2b959 45%,#5ba3a0 48.33%,#5396ae 50%,#4578c9 54.17%,#4476ca 62.5%,#4641c5 79.17%,#4f2bb7 94.17%,#5226b3)"></i><i style="top:282.99px;height:6.15px;background:linear-gradient(90deg,#4f2bb7,#4e2cb8 2.5%,#463cc4 10%,#444ec9 13.33%,#446bca 17.5%,#579ca6 21.67%,#61a59a 22.5%,#a5bc54 25.83%,#b3b44c 26.67%,#d89139 29.17%,#e18434 30%,#df552c 32.5%,#de4b2a 33.33%,#de4929 34.17%,#de4c2a 36.67%,#df562c 37.5%,#e07231 39.17%,#dc8f38 40.83%,#bbaf48 43.33%,#afb74f 44.17%,#a0b85c 45%,#5ba2a1 48.33%,#559ba9 49.17%,#457bc7 54.17%,#4577c9 62.5%,#4543c6 79.17%,#5029b5 95.83%,#5226b3)"></i><i style="top:288.54px;height:6.15px;background:linear-gradient(90deg,#4d2eb9,#4d2fba 2.5%,#463fc5 10%,#4450c9 13.33%,#4468ca 16.67%,#4878c3 18.33%,#508bb3 20%,#599fa3 21.67%,#62a797 22.5%,#a6bb54 25.83%,#b4b54b 26.67%,#d7933a 29.17%,#df8735 30%,#e27932 30.83%,#e05d2d 32.5%,#df532b 33.33%,#df502b 35%,#df552b 36.67%,#e05e2d 37.5%,#e07732 39.17%,#d99239 40.83%,#b8b249 43.33%,#acb751 44.17%,#9db75f 45%,#5ba1a2 48.33%,#549bab 49.17%,#467ec5 54.17%,#4578c8 62.5%,#4547c7 78.33%,#5128b4 96.67%,#5226b3)"></i><i style="top:294.08px;height:6.15px;background:linear-gradient(90deg,#4b31bc,#4b32bd 2.5%,#4543c6 10%,#4453c9 13.33%,#4673c7 17.5%,#487bc2 18.33%,#5ca1a0 21.67%,#64a995 22.5%,#a7bb55 25.83%,#b5b54b 26.67%,#d5963b 29.17%,#de8a36 30%,#e27d33 30.83%,#e05c2d 33.33%,#e0572c 35%,#e05a2c 35.83%,#e05e2d 36.67%,#e0672f 37.5%,#e07c33 39.17%,#dc8937 40%,#d6953b 40.83%,#b6b44a 43.33%,#a9b753 44.17%,#9bb661 45%,#5aa0a3 48.33%,#539aac 49.17%,#4780c3 54.17%,#4579c8 62.5%,#454ac8 78.33%,#5128b4 96.67%,#5226b3)"></i><i style="top:299.63px;height:6.15px;background:linear-gradient(90deg,#4a34be,#4a34be 1.67%,#483bc2 5%,#4450ca 12.5%,#456fc7 16.67%,#487ec1 18.33%,#589aa6 20.83%,#66ab92 22.5%,#a7ba55 25.83%,#b5b64b 26.67%,#d4983c 29.17%,#e18233 30.83%,#e1642e 33.33%,#e15f2d 35%,#e1672f 36.67%,#e08234 39.17%,#da8d38 40%,#d3983c 40.83%,#b4b64b 43.33%,#a7b856 44.17%,#5a9fa4 48.33%,#529aad 49.17%,#4e92b4 50.83%,#4986bf 53.33%,#467ec5 56.67%,#457ac7 62.5%,#454ac8 79.17%,#5127b4 97.5%,#5226b3)"></i><i style="top:305.18px;height:6.15px;background:linear-gradient(90deg,#4837c1,#4837c1 1.67%,#4453cb 12.5%,#477ac4 17.5%,#4982c0 18.33%,#67ad8f 22.5%,#a8b955 25.83%,#b6b74a 26.67%,#db9138 30%,#e18634 30.83%,#e27e33 31.67%,#e26d30 33.33%,#e2672e 34.17%,#e2662e 35%,#e27030 36.67%,#e08735 39.17%,#d09c3d 40.83%,#b2b84c 43.33%,#96b466 45%,#5a9ea4 48.33%,#5199af 49.17%,#4f96b2 50%,#4985bf 54.17%,#477fc4 56.67%,#467dc6 61.67%,#4455c9 75.83%,#4649c7 80.83%,#5127b4 97.5%,#5226b3)"></i><i style="top:310.73px;height:6.15px;background:linear-gradient(90deg,#463ac3,#463ac3 1.67%,#4355cb 12.5%,#4985bf 18.33%,#69af8c 22.5%,#a9b955 25.83%,#b7b84a 26.67%,#e18b35 30.83%,#e37631 33.33%,#e36f30 34.17%,#e36d2f 35%,#e08c36 39.17%,#afbb4d 43.33%,#5a9da5 48.33%,#4f99b0 49.17%,#4781c3 56.67%,#467ec5 61.67%,#4453ca 77.5%,#5127b4 97.5%,#5226b3)"></i><i style="top:316.28px;height:6.15px;background:linear-gradient(90deg,#463fc5,#463fc5 1.67%,#445bcb 12.5%,#4b89bb 18.33%,#6eb187 22.5%,#8cb66d 24.17%,#b8b74a 26.67%,#d9973a 30%,#e08f36 30.83%,#e37631 34.17%,#e37431 35%,#df9137 39.17%,#aebb4e 43.33%,#589ca7 48.33%,#4f97b2 49.17%,#4781c3 56.67%,#467dc5 61.67%,#4459ca 75.83%,#4451ca 79.17%,#5127b4 97.5%,#5226b3)"></i><i style="top:321.83px;height:6.15px;background:linear-gradient(90deg,#4545c6,#4545c6 1.67%,#4461ca 12.5%,#4e8eb6 18.33%,#74b281 22.5%,#acb853 25.83%,#b9b74a 26.67%,#d2a23e 29.17%,#df9437 30.83%,#e27c32 34.17%,#e27b32 35%,#dd9638 39.17%,#acba50 43.33%,#569aaa 48.33%,#4e96b3 49.17%,#477fc4 57.5%,#467ac6 62.5%,#4456cb 77.5%,#5127b4 97.5%,#5226b3)"></i><i style="top:327.38px;height:6.15px;background:linear-gradient(90deg,#444ac8,#444ac8 1.67%,#4563c9 10.83%,#4568c9 12.5%,#4873c3 14.17%,#5293b0 18.33%,#7bb37c 22.5%,#94b865 24.17%,#b9b64a 26.67%,#d3a43d 29.17%,#de9838 30.83%,#e18234 34.17%,#e18133 35%,#dc9c39 39.17%,#b6b64a 42.5%,#abba51 43.33%,#5498ad 48.33%,#4e95b4 49.17%,#477fc4 56.67%,#4679c6 62.5%,#4454cb 79.17%,#5127b4 97.5%,#5226b3)"></i><i style="top:332.93px;height:6.15px;background:linear-gradient(90deg,#4450ca,#4454c9 3.33%,#456fc8 12.5%,#5599ab 18.33%,#81b476 22.5%,#99b961 24.17%,#bab54a 26.67%,#d5a73d 29.17%,#dc9c39 30.83%,#e08935 34.17%,#e08835 35%,#daa13b 39.17%,#b4b74b 42.5%,#a9ba53 43.33%,#5297af 48.33%,#4d93b5 49.17%,#467ec5 57.5%,#4576c7 63.33%,#4358cc 78.33%,#5127b4 97.5%,#5226b3)"></i><i style="top:338.47px;height:6.15px;background:linear-gradient(90deg,#4356cb,#445acb 3.33%,#4675c7 12.5%,#589ea5 18.33%,#7eb17b 21.67%,#9dba5c 24.17%,#b1b750 25.83%,#d6a93d 29.17%,#df8f36 34.17%,#df8e36 35%,#d8a73c 39.17%,#b3b94b 42.5%,#a8b954 43.33%,#5095b2 48.33%,#4c92b6 49.17%,#467ec5 56.67%,#435acd 78.33%,#5226b3 98.33%,#5226b3)"></i><i style="top:344.02px;height:6.15px;background:linear-gradient(90deg,#435bcd,#435dcd 2.5%,#467cc5 12.5%,#4881c2 13.33%,#579da6 17.5%,#5ba3a0 18.33%,#8db76a 22.5%,#a1bb58 24.17%,#d7ac3d 29.17%,#de9638 34.17%,#de9538 35%,#d6ac3d 39.17%,#b2ba4c 42.5%,#a6b956 43.33%,#4d93b5 48.33%,#467ec5 56.67%,#435ccd 78.33%,#4f2eb7 95%,#5226b3 98.33%,#5226b3)"></i><i style="top:349.57px;height:6.15px;background:linear-gradient(90deg,#425ece,#4360cd 2.5%,#477fc4 12.5%,#599fa3 17.5%,#5da49d 18.33%,#97ba60 23.33%,#a1bb59 24.17%,#d4ae3f 29.17%,#db9b3a 34.17%,#da9a3a 35%,#d6a63d 37.5%,#cfae42 39.17%,#a9b954 42.5%,#9db75e 43.33%,#4c91b7 48.33%,#467dc6 56.67%,#4359cc 78.33%,#5226b3 98.33%,#5226b3)"></i><i style="top:355.12px;height:6.15px;background:linear-gradient(90deg,#4260cf,#4260cf 1.67%,#4882c2 12.5%,#589ba7 16.67%,#60a59b 18.33%,#79b17e 20.83%,#97ba61 23.33%,#b2b74f 25.83%,#d0af40 29.17%,#d6a43d 32.5%,#d69f3c 35%,#d1a93f 37.5%,#cdac43 38.33%,#c7af46 39.17%,#9fb85c 42.5%,#94b666 43.33%,#4c8eb9 48.33%,#4a8cbb 49.17%,#467bc7 56.67%,#4456cb 78.33%,#5127b4 97.5%,#5226b3)"></i><i style="top:360.67px;height:6.15px;background:linear-gradient(90deg,#4263cf,#4265ce 2.5%,#4884c0 12.5%,#5293b0 15%,#62a698 18.33%,#79b27d 20.83%,#96ba62 23.33%,#b9b64b 26.67%,#c6b345 28.33%,#ccb142 29.17%,#d2aa3f 31.67%,#d2a43e 34.17%,#cfaa40 36.67%,#cdac41 37.5%,#c0b04b 39.17%,#95b765 42.5%,#8bb46f 43.33%,#4b8bbb 48.33%,#4579c8 57.5%,#445bcb 73.33%,#4453ca 78.33%,#5127b4 97.5%,#5226b3)"></i><i style="top:366.22px;height:6.15px;background:linear-gradient(90deg,#4265d0,#4267cf 2.5%,#4884c0 11.67%,#4c8bba 13.33%,#64a795 18.33%,#82b674 21.67%,#9eba5c 24.17%,#b8b74b 26.67%,#c8b343 29.17%,#cfad40 31.67%,#cda940 35%,#c8af43 37.5%,#b8b250 39.17%,#8cb56d 42.5%,#81b277 43.33%,#4a89bd 48.33%,#4579c8 56.67%,#4456ca 75%,#464ec8 79.17%,#5127b4 97.5%,#5226b3)"></i><i style="top:371.77px;height:6.15px;background:linear-gradient(90deg,#4168d1,#426acf 2.5%,#4987be 11.67%,#4d8eb8 13.33%,#66a893 18.33%,#72b184 20%,#8bb86c 22.5%,#afb950 25.83%,#b7b84b 26.67%,#c5b445 29.17%,#ccaf41 32.5%,#c9ae42 35%,#c3b245 37.5%,#b0b355 39.17%,#82b476 42.5%,#78b07f 43.33%,#4986bf 48.33%,#4578c9 56.67%,#4454ca 74.17%,#5127b4 97.5%,#5226b3)"></i><i style="top:377.31px;height:6.15px;background:linear-gradient(90deg,#416ad1,#426cd0 2.5%,#4884c0 10%,#4e90b6 13.33%,#78b67c 20.83%,#93b965 23.33%,#b6b94b 26.67%,#c9b343 31.67%,#bfb547 37.5%,#78b37e 42.5%,#6faf88 43.33%,#4883c1 48.33%,#4477ca 56.67%,#4452ca 73.33%,#5128b4 96.67%,#5226b3)"></i><i style="top:382.86px;height:6.15px;background:linear-gradient(90deg,#416bd2,#426dd0 2.5%,#4b8dba 12.5%,#4e90b5 13.33%,#76b47f 20.83%,#b1b850 26.67%,#c1b448 31.67%,#b6b74e 37.5%,#6fb088 42.5%,#66ab91 43.33%,#4781c3 48.33%,#4475cb 56.67%,#4452ca 72.5%,#502cb6 94.17%,#5226b2)"></i><i style="top:388.41px;height:6.15px;background:linear-gradient(90deg,#4168d1,#436cce 3.33%,#4987be 12.5%,#6cab8c 20.83%,#9cb263 26.67%,#adb259 31.67%,#a2b260 37.5%,#70a98b 41.67%,#60a39b 43.33%,#477ec4 48.33%,#467dc6 49.17%,#4471cc 56.67%,#4550c9 72.5%,#5326b1 97.5%,#5425b1)"></i><i style="top:393.96px;height:6.15px;background:linear-gradient(90deg,#4264d0,#4264d0 1.67%,#4984bf 13.33%,#62a29a 20.83%,#88ac77 26.67%,#96b06b 30.83%,#98b069 32.5%,#8dae72 37.5%,#599ba5 43.33%,#467cc6 48.33%,#4476cb 50.83%,#436dcd 56.67%,#454ec8 72.5%,#5427b0 96.67%,#5525af)"></i><i style="top:399.51px;height:6.15px;background:linear-gradient(90deg,#4261cf,#4261cf 1.67%,#467bc7 12.5%,#5999a7 20.83%,#77a788 27.5%,#84af79 31.67%,#82ae7b 33.33%,#79a985 37.5%,#5393af 43.33%,#4579c8 48.33%,#4371ce 51.67%,#454fc8 70.83%,#5625ad 97.5%,#5724ad)"></i><i style="top:405.06px;height:6.15px;background:linear-gradient(90deg,#425ece,#435fce 2.5%,#4476cb 12.5%,#5294b0 22.5%,#6fad8a 31.67%,#65a597 37.5%,#4c8bb9 43.33%,#426fd0 50.83%,#4550c9 69.17%,#5727ad 95.83%,#5824ab)"></i><i style="top:410.61px;height:6.15px;background:linear-gradient(90deg,#4553c9,#4554c9 2.5%,#4468ca 12.5%,#466fc7 15%,#4d83b7 23.33%,#5f8f9c 29.17%,#649795 31.67%,#639896 32.5%,#5794a7 37.5%,#487cc0 43.33%,#4267d0 50.83%,#454ec8 67.5%,#5b24a8 97.5%,#5b23a8)"></i><i style="top:416.16px;height:6.15px;background:linear-gradient(90deg,#4a41c0,#4944c1 4.17%,#4752c5 12.5%,#4863c0 20.83%,#5162b2 24.17%,#656199 29.17%,#606d9d 32.5%,#4f74b4 37.5%,#4766c3 43.33%,#4359cc 50.83%,#4356cc 54.17%,#4947c3 67.5%,#5f22a3)"></i><i style="top:421.7px;height:6.15px;background:linear-gradient(90deg,#4f2eb7,#4747c2 20.83%,#6a3495 29.17%,#613fa0 31.67%,#4855c1 37.5%,#4650c6 43.33%,#444ac8 56.67%,#62229f 97.5%,#63219f)"></i><i style="top:427.25px;height:6.15px;background:linear-gradient(90deg,#5425b0,#4f33b8 20.83%,#592bab 24.17%,#6e1f92 29.17%,#5730af 34.17%,#4c3abd 37.5%,#4d3abc 55.83%,#65219c)"></i><i style="top:432.8px;height:6.15px;background:linear-gradient(90deg,#5924aa,#6022a2 23.33%,#701e8f 29.17%,#5924aa 35%,#65219c)"></i><i style="top:438.35px;height:6.15px;background:linear-gradient(90deg,#5924aa,#6122a1 23.33%,#701e8f 29.17%,#5924aa 35%,#65219c)"></i></div></div><div class="dp" style="left:813.6px;top:706px;width:423.8px;height:425.7px"><div class="dpi" style="left:-8px;top:-8px;width:439.8px;height:441.7px;filter:blur(2.2px)"><i style="top:0px;height:6.12px;background:linear-gradient(90deg,#519bad,#519bad 1.67%,#60a898 4.17%,#74b77e 6.67%,#92bb64 9.17%,#a7be50 13.33%,#c0b747 20%,#d5b03e 28.33%,#daa43b 34.17%,#dc9f3a 40%,#dc9c39 40.83%,#dc9d39 43.33%,#d8ab3d 51.67%,#d5b03e 54.17%,#c4b645 60.83%,#a6be52 69.17%,#95bb61 72.5%,#71b681 77.5%,#4f98b1 83.33%,#426fd0 89.17%,#4168d1 90%,#4545c7 93.33%,#4928bd 96.67%,#5225b2 98.33%,#5225b2)"></i><i style="top:5.52px;height:6.12px;background:linear-gradient(90deg,#519bad,#519bad 1.67%,#60a898 4.17%,#74b77e 6.67%,#92bb64 9.17%,#a8be50 13.33%,#c0b747 20%,#d0b241 25.83%,#d7ad3d 30%,#daa43b 34.17%,#dc9f3a 39.17%,#dc9c39 40.83%,#dc9d39 43.33%,#daa33b 48.33%,#d8ab3d 51.67%,#d4b13f 55%,#c9b443 59.17%,#a9be4f 68.33%,#95bb61 72.5%,#71b681 77.5%,#4f99b1 83.33%,#426fd0 89.17%,#4168d1 90%,#4545c7 93.33%,#4928bd 96.67%,#5225b2 98.33%,#5225b2)"></i><i style="top:11.04px;height:6.12px;background:linear-gradient(90deg,#529cac,#529cac 1.67%,#569fa6 2.5%,#6eb485 5.83%,#94bb62 9.17%,#a8be50 13.33%,#bcb848 18.33%,#d5b03f 27.5%,#dba03a 35%,#dd9a39 40.83%,#dd9c39 44.17%,#dba13a 48.33%,#d5b03e 55%,#beb748 63.33%,#a8be50 69.17%,#97bc5f 72.5%,#74b77f 77.5%,#509aaf 83.33%,#416bd2 90%,#4548c7 93.33%,#4829be 96.67%,#5126b4 98.33%,#5126b4)"></i><i style="top:16.56px;height:6.12px;background:linear-gradient(90deg,#539cab,#539cab 1.67%,#5ca59e 3.33%,#6fb584 5.83%,#95bb61 9.17%,#a9be4f 13.33%,#bdb848 18.33%,#d6b03e 27.5%,#dc9e3a 35%,#de9838 42.5%,#dc9c39 46.67%,#d5b03f 55.83%,#c2b646 62.5%,#a6be52 70%,#94bb62 73.33%,#70b682 78.33%,#4e97b3 84.17%,#416dd1 90%,#482bbf 96.67%,#4f26b6 98.33%,#4f26b6)"></i><i style="top:22.09px;height:6.12px;background:linear-gradient(90deg,#549daa,#549daa 1.67%,#5da59d 3.33%,#70b682 5.83%,#96bb60 9.17%,#a7be51 12.5%,#bbb849 17.5%,#d5b03e 26.67%,#dd9a39 35.83%,#de9638 40.83%,#de9838 45%,#dba03a 50%,#d6b03e 55.83%,#beb748 64.17%,#a3bd54 70.83%,#96bb60 73.33%,#72b680 78.33%,#4f99b1 84.17%,#426fd0 90%,#4167d1 90.83%,#472dc0 96.67%,#4e27b7 98.33%,#4e27b7)"></i><i style="top:27.61px;height:6.12px;background:linear-gradient(90deg,#559ea9,#559ea9 1.67%,#5ea69b 3.33%,#72b681 5.83%,#90bb66 8.33%,#a8be50 12.5%,#c4b645 20%,#d6b03e 26.67%,#dd9939 35%,#df9437 40%,#df9538 44.17%,#dc9e3a 50%,#d6b03e 56.67%,#cab443 60.83%,#a9be50 70%,#93bb63 74.17%,#74b77e 78.33%,#6fb584 79.17%,#509aaf 84.17%,#4270cf 90%,#416ad1 90.83%,#4828be 97.5%,#4c27b9 98.33%,#4c27b9)"></i><i style="top:33.13px;height:6.12px;background:linear-gradient(90deg,#559ea8,#559ea8 1.67%,#59a2a2 2.5%,#73b67f 5.83%,#92bb64 8.33%,#a8be50 12.5%,#c2b646 19.17%,#d7ae3e 26.67%,#dba13a 30.83%,#df9437 36.67%,#e09237 42.5%,#de9738 47.5%,#daa53b 53.33%,#d6af3e 56.67%,#c9b443 61.67%,#a7be51 70.83%,#95bb61 74.17%,#70b682 79.17%,#4e97b3 85%,#416cd2 90.83%,#482abf 97.5%,#4b27bb 98.33%,#4b27bb)"></i><i style="top:38.65px;height:6.12px;background:linear-gradient(90deg,#569fa7,#569fa7 1.67%,#5aa3a1 2.5%,#75b77e 5.83%,#94bb62 8.33%,#a9be50 12.5%,#c3b646 19.17%,#d6b03e 25.83%,#de9838 33.33%,#e18f36 40.83%,#de9838 49.17%,#d7ad3d 56.67%,#d2b140 59.17%,#a8be50 70.83%,#97bc5f 74.17%,#73b680 79.17%,#4f98b1 85%,#426ed1 90.83%,#482cbf 97.5%,#4928bc 98.33%,#4928bc)"></i><i style="top:44.17px;height:6.12px;background:linear-gradient(90deg,#57a0a6,#57a0a6 1.67%,#5ba3a0 2.5%,#6eb485 5%,#94bb61 8.33%,#aabd4f 12.5%,#c4b645 19.17%,#d7ae3e 25.83%,#de9838 32.5%,#e09137 35.83%,#e18d36 39.17%,#e18f36 44.17%,#de9638 49.17%,#d8ab3d 56.67%,#d1b240 60%,#aabd4f 70.83%,#99bc5d 74.17%,#75b77e 79.17%,#6fb584 80%,#509aaf 85%,#4270cf 90.83%,#4169d1 91.67%,#472ec0 97.5%,#4828be 98.33%,#4828be)"></i><i style="top:49.69px;height:6.12px;background:linear-gradient(90deg,#57a0a5,#57a0a5 1.67%,#5ba49f 2.5%,#6eb584 5%,#8dba68 7.5%,#95bb61 8.33%,#a7be51 11.67%,#c2b646 18.33%,#d6b03e 25%,#dd9b39 30.83%,#e09036 35%,#e28b35 38.33%,#e28c35 42.5%,#df9437 49.17%,#d6af3e 58.33%,#d0b241 60.83%,#a8be50 71.67%,#96bb60 75%,#71b681 80%,#4e96b3 85.83%,#416bd2 91.67%,#4730c0 97.5%,#482abf 98.33%,#482abf)"></i><i style="top:55.21px;height:6.12px;background:linear-gradient(90deg,#58a1a4,#58a1a4 1.67%,#5ca49e 2.5%,#6fb583 5%,#8eba67 7.5%,#96bb60 8.33%,#a8be50 11.67%,#bdb848 16.67%,#d5b03e 24.17%,#dd9939 30.83%,#e18c35 35.83%,#e38935 40.83%,#e28b35 45%,#e09237 49.17%,#d4b13f 60%,#a9be50 71.67%,#98bc5e 75%,#73b680 80%,#4e98b2 85.83%,#416dd1 91.67%,#4732c1 97.5%,#482cbf 98.33%,#482cbf)"></i><i style="top:60.73px;height:6.12px;background:linear-gradient(90deg,#58a1a3,#58a1a3 1.67%,#5da59d 2.5%,#70b682 5%,#90bb66 7.5%,#97bc60 8.33%,#a8be50 11.67%,#b7ba4a 15%,#d6b03e 24.17%,#de9738 30.83%,#e28c35 35%,#e38734 39.17%,#e38935 44.17%,#e18e36 48.33%,#de9838 52.5%,#d7ae3e 59.17%,#d0b240 61.67%,#bcb848 67.5%,#a7be51 72.5%,#9abc5d 75%,#75b77e 80%,#6fb584 80.83%,#5099b0 85.83%,#426fd0 91.67%,#4167d1 92.5%,#4734c2 97.5%,#472ec0 98.33%,#472ec0)"></i><i style="top:66.25px;height:6.12px;background:linear-gradient(90deg,#59a2a3,#59a2a3 1.67%,#5da69c 2.5%,#71b681 5%,#91bb64 7.5%,#a9be50 11.67%,#bbb849 15.83%,#d6af3e 24.17%,#e09036 32.5%,#e28a35 35%,#e48534 40.83%,#e18c35 48.33%,#de9638 52.5%,#d4b13f 60.83%,#bab949 68.33%,#a8be50 72.5%,#96bb60 75.83%,#70b682 80.83%,#4d96b4 86.67%,#4270cf 91.67%,#416ad1 92.5%,#4736c2 97.5%,#4730c0 98.33%,#4730c0)"></i><i style="top:71.78px;height:6.12px;background:linear-gradient(90deg,#59a2a2,#59a2a2 1.67%,#5ea69b 2.5%,#73b680 5%,#93bb63 7.5%,#aabe4f 11.67%,#bcb848 15.83%,#d7ae3e 24.17%,#de9638 30%,#e28a35 34.17%,#e48333 40%,#e48634 44.17%,#e28a35 48.33%,#df9437 52.5%,#d7ae3d 60%,#d3b13f 61.67%,#aabe4f 72.5%,#98bc5e 75.83%,#72b680 80.83%,#4e98b2 86.67%,#416cd2 92.5%,#4638c3 97.5%,#4732c1 98.33%,#4732c1)"></i><i style="top:77.3px;height:6.12px;background:linear-gradient(90deg,#5aa3a1,#5aa3a1 1.67%,#5fa79a 2.5%,#74b77f 5%,#94bb62 7.5%,#aabd4f 11.67%,#b9b949 15%,#d6b03e 23.33%,#e28c35 32.5%,#e58133 40.83%,#e38834 48.33%,#de9738 54.17%,#d4b13f 61.67%,#c0b747 67.5%,#a7be51 73.33%,#9abc5d 75.83%,#74b77e 80.83%,#6eb584 81.67%,#4f99b1 86.67%,#416ed1 92.5%,#463ac3 97.5%,#4734c1 98.33%,#4734c1)"></i><i style="top:82.82px;height:6.12px;background:linear-gradient(90deg,#5aa3a0,#5aa3a0 1.67%,#5fa79a 2.5%,#75b77d 5%,#94bb61 7.5%,#a7be51 10.83%,#bdb848 15.83%,#d6af3e 23.33%,#dd9939 28.33%,#e38734 34.17%,#e58033 39.17%,#e58233 43.33%,#e38834 49.17%,#e09036 52.5%,#d7ae3d 60.83%,#d3b13f 62.5%,#a9be50 73.33%,#96bb60 76.67%,#70b682 81.67%,#509aaf 86.67%,#426fd0 92.5%,#4168d1 93.33%,#463cc4 97.5%,#4736c2 98.33%,#4736c2)"></i><i style="top:88.34px;height:6.12px;background:linear-gradient(90deg,#5ba3a0,#5ba3a0 1.67%,#60a899 2.5%,#76b77d 5%,#95bb61 7.5%,#a7be50 10.83%,#c1b746 16.67%,#d7ae3e 23.33%,#e28b35 31.67%,#e58133 36.67%,#e67d32 41.67%,#e58133 42.5%,#e38634 49.17%,#e18e36 52.5%,#d6af3e 61.67%,#bcb848 69.17%,#aabd4f 73.33%,#98bc5e 76.67%,#6cb387 82.5%,#4e97b3 87.5%,#4271cf 92.5%,#416ad1 93.33%,#4637c3 98.33%,#4637c3)"></i><i style="top:93.86px;height:6.12px;background:linear-gradient(90deg,#5ba49f,#5ba49f 1.67%,#60a898 2.5%,#6eb485 4.17%,#8dba68 6.67%,#96bb61 7.5%,#a8be50 10.83%,#bbb849 15%,#d6b03e 22.5%,#e18c35 30.83%,#e58233 35%,#e67b32 40%,#e57a31 41.67%,#e67f32 42.5%,#e38634 50%,#e18c35 52.5%,#d5b03e 62.5%,#bab949 70%,#a7be51 74.17%,#9abc5d 76.67%,#74b77f 81.67%,#4e98b2 87.5%,#416cd2 93.33%,#4639c3 98.33%,#4639c3)"></i><i style="top:99.38px;height:6.12px;background:linear-gradient(90deg,#5ca49f,#5ca49f 1.67%,#61a997 2.5%,#6eb584 4.17%,#8eba67 6.67%,#96bb60 7.5%,#a9be50 10.83%,#bfb747 15.83%,#d4b13f 21.67%,#d7ac3d 23.33%,#e09137 29.17%,#e48434 33.33%,#e57731 40.83%,#e57731 41.67%,#e67e32 42.5%,#e67f32 45%,#e28a35 52.5%,#d4b13f 63.33%,#a9be50 74.17%,#9bbc5b 76.67%,#76b77d 81.67%,#6ab18a 83.33%,#4f99b0 87.5%,#426ed1 93.33%,#463bc4 98.33%,#463bc4)"></i><i style="top:104.9px;height:6.12px;background:linear-gradient(90deg,#5ca49e,#5ca49e 1.67%,#61a997 2.5%,#6fb584 4.17%,#8fba66 6.67%,#a5be53 10%,#bcb848 15%,#d4b03f 21.67%,#d6af3e 22.5%,#e28c35 30%,#e57931 37.5%,#e57430 41.67%,#e67c32 42.5%,#e67f32 46.67%,#e38835 52.5%,#d5b03e 63.33%,#aabd4f 74.17%,#98bc5e 77.5%,#71b681 82.5%,#4d95b4 88.33%,#426fd0 93.33%,#4168d1 94.17%,#463dc4 98.33%,#463dc4)"></i><i style="top:110.43px;height:6.12px;background:linear-gradient(90deg,#5ca59e,#5ca59e 1.67%,#6fb583 4.17%,#90bb65 6.67%,#a9be4f 10.83%,#c0b747 15.83%,#d5b03e 21.67%,#e18e36 29.17%,#e67e32 35%,#e57631 37.5%,#e47130 41.67%,#e57931 42.5%,#e67f32 47.5%,#e28935 53.33%,#d6b03e 63.33%,#bab949 70.83%,#a7be51 75%,#93bb62 78.33%,#73b67f 82.5%,#4e97b3 88.33%,#4271cf 93.33%,#416ad1 94.17%,#463fc5 98.33%,#463fc5)"></i><i style="top:115.95px;height:6.12px;background:linear-gradient(90deg,#5da59d,#5da59d 1.67%,#62aa95 2.5%,#70b682 4.17%,#91bb65 6.67%,#a6be52 10%,#bdb848 15%,#d6b03e 21.67%,#e18c35 29.17%,#e67e32 34.17%,#e47030 39.17%,#e46e2f 41.67%,#e57731 42.5%,#e67e32 48.33%,#e38734 53.33%,#d7ae3e 63.33%,#c2b646 69.17%,#a8be50 75%,#9bbc5c 77.5%,#82b972 80.83%,#6eb584 83.33%,#4e98b1 88.33%,#416cd2 94.17%,#4540c5 98.33%,#4540c5)"></i><i style="top:121.47px;height:6.12px;background:linear-gradient(90deg,#5da59d,#5da59d 1.67%,#70b682 4.17%,#92bb64 6.67%,#a6be52 10%,#bab949 14.17%,#d6b03e 21.67%,#e28b35 29.17%,#e67f32 33.33%,#e46d2f 39.17%,#e36b2f 41.67%,#e57430 42.5%,#e67e32 49.17%,#e38834 54.17%,#d6b03e 64.17%,#aabe4f 75%,#97bc5f 78.33%,#70b682 83.33%,#5099b0 88.33%,#416ed1 94.17%,#4542c6 98.33%,#4542c6)"></i><i style="top:126.99px;height:6.12px;background:linear-gradient(90deg,#5da69c,#5da69c 1.67%,#71b681 4.17%,#92bb63 6.67%,#a6be51 10%,#beb748 15%,#d4b13f 20.83%,#d7ac3d 22.5%,#e18d36 28.33%,#e58233 31.67%,#e36a2f 39.17%,#e3672e 41.67%,#e47230 42.5%,#e57631 46.67%,#e67e32 50%,#e28935 55%,#d4b13f 65%,#afbc4d 74.17%,#a7be51 75.83%,#99bc5e 78.33%,#72b681 83.33%,#67ae8f 85%,#4d95b4 89.17%,#426fd0 94.17%,#4167d1 95%,#4545c6 98.33%,#4545c6)"></i><i style="top:132.51px;height:6.12px;background:linear-gradient(90deg,#5ea69c,#5ea69c 1.67%,#63ab94 2.5%,#72b680 4.17%,#93bb63 6.67%,#a7be51 10%,#bbb849 14.17%,#d7ae3e 21.67%,#e18c35 28.33%,#e67f32 32.5%,#e3672e 39.17%,#e2642e 41.67%,#e47030 42.5%,#e47230 45.83%,#e67e32 50.83%,#e38834 55%,#d5b03e 65%,#acbd4e 75%,#9fbd58 77.5%,#8eba67 80%,#6db486 84.17%,#4e97b3 89.17%,#4270cf 94.17%,#4169d1 95%,#4547c7 98.33%,#4547c7)"></i><i style="top:138.03px;height:6.12px;background:linear-gradient(90deg,#5ea69b,#5ea69b 1.67%,#72b680 4.17%,#94bb62 6.67%,#a7be51 10%,#bbb849 14.17%,#d5b03e 20.83%,#d8aa3c 22.5%,#e28b35 28.33%,#e67d32 32.5%,#e36b2f 36.67%,#e2632e 40%,#e2612d 42.5%,#e46d2f 43.33%,#e47130 46.67%,#e67f32 51.67%,#e38634 55%,#e08f36 57.5%,#d6b03e 65%,#a9be50 75.83%,#9bbc5b 78.33%,#90bb66 80%,#6fb584 84.17%,#4e98b2 89.17%,#4372ce 94.17%,#416bd2 95%,#4548c8 98.33%,#4548c8)"></i><i style="top:143.55px;height:6.12px;background:linear-gradient(90deg,#5ea69b,#5ea69b 1.67%,#73b680 4.17%,#94bb62 6.67%,#a8be50 10%,#bfb747 15%,#d5b03e 20.83%,#e28a35 28.33%,#e67f32 31.67%,#e46f30 35%,#e2602d 40%,#e25e2d 42.5%,#e36b2f 43.33%,#e46d2f 45.83%,#e67f32 52.5%,#e28a35 56.67%,#d4b13f 65.83%,#c1b746 70.83%,#aabd4f 75.83%,#98bc5e 79.17%,#70b682 84.17%,#4f99b0 89.17%,#4373cd 94.17%,#416dd1 95%,#444ac8 98.33%,#444ac8)"></i><i style="top:149.07px;height:6.12px;background:linear-gradient(90deg,#5fa79b,#5fa79b 1.67%,#64ac93 2.5%,#73b67f 4.17%,#94bb62 6.67%,#a8be50 10%,#bcb848 14.17%,#d6b03e 20.83%,#e28935 28.33%,#e67e32 31.67%,#e3662e 36.67%,#e25f2d 39.17%,#e15c2d 42.5%,#e3692f 43.33%,#e46c2f 46.67%,#e67e32 52.5%,#e08f36 58.33%,#d5b03e 65.83%,#afbc4d 75%,#a7be51 76.67%,#9ebd59 78.33%,#72b681 84.17%,#4d95b4 90%,#4374cc 94.17%,#426ed0 95%,#4266d0 95.83%,#444cc9 98.33%,#444cc9)"></i><i style="top:154.59px;height:6.12px;background:linear-gradient(90deg,#5fa79a,#5fa79a 1.67%,#64ac92 2.5%,#74b77f 4.17%,#95bb61 6.67%,#a8be50 10%,#bcb848 14.17%,#d6b03e 20.83%,#df9437 25.83%,#e58333 30%,#e3672e 35.83%,#e15d2d 39.17%,#e15a2c 42.5%,#e3662e 43.33%,#e47030 49.17%,#e67f32 53.33%,#e28a35 57.5%,#d6b03e 65.83%,#c3b646 70.83%,#acbd4e 75.83%,#9fbd58 78.33%,#95bb61 80%,#6db486 85%,#4d96b3 90%,#4476cb 94.17%,#4168d1 95.83%,#444ec9 98.33%,#444ec9)"></i><i style="top:160.12px;height:6.12px;background:linear-gradient(90deg,#5fa79a,#5fa79a 1.67%,#6bb288 3.33%,#74b77e 4.17%,#95bb61 6.67%,#a8be50 10%,#d4b13f 20%,#d9a73c 22.5%,#e28b35 27.5%,#e67f32 30.83%,#e2612d 36.67%,#e15b2c 39.17%,#e1582c 42.5%,#e2642e 43.33%,#e3692f 47.5%,#e67f32 54.17%,#e18c35 58.33%,#d7ae3e 65.83%,#aabe4f 76.67%,#90bb66 80.83%,#6eb584 85%,#4e98b2 90%,#4271cf 95%,#416ad1 95.83%,#4450ca 98.33%,#4450ca)"></i><i style="top:165.64px;height:6.12px;background:linear-gradient(90deg,#5fa79a,#5fa79a 1.67%,#65ac92 2.5%,#74b77e 4.17%,#95bb61 6.67%,#a9be50 10%,#bdb848 14.17%,#d4b13f 20%,#d8ab3d 21.67%,#e28a35 27.5%,#e67e32 30.83%,#e25f2d 36.67%,#e1582c 40%,#e0562c 42.5%,#e2612d 43.33%,#e3692f 48.33%,#e67e32 54.17%,#e38734 57.5%,#d5b03e 66.67%,#abbd4f 76.67%,#98bc5e 80%,#70b682 85%,#4f99b1 90%,#416cd2 95.83%,#4452ca 98.33%,#4452ca)"></i><i style="top:171.16px;height:6.12px;background:linear-gradient(90deg,#5fa79a,#5fa79a 1.67%,#65ac92 2.5%,#74b77e 4.17%,#95bb61 6.67%,#a9be50 10%,#bdb848 14.17%,#d7ae3e 20.83%,#e18d36 26.67%,#e67c32 30.83%,#e2602d 35.83%,#e1582c 39.17%,#e0552b 42.5%,#e25e2d 43.33%,#e2642e 47.5%,#e67f32 55%,#e28935 58.33%,#d6b03e 66.67%,#a8be50 77.5%,#9ebd59 79.17%,#71b681 85%,#509aaf 90%,#416dd1 95.83%,#4354cb 98.33%,#4354cb)"></i><i style="top:176.68px;height:6.12px;background:linear-gradient(90deg,#5fa79a,#5fa79a 1.67%,#75b77e 4.17%,#95bb61 6.67%,#a4bd53 9.17%,#b1bb4c 11.67%,#d5b03f 20%,#d8aa3c 21.67%,#e18c35 26.67%,#e67f32 30%,#e2622e 35%,#e0562c 39.17%,#e0532b 42.5%,#e15b2c 43.33%,#e2642e 48.33%,#e67e32 55%,#e28b35 59.17%,#d4b13f 67.5%,#adbd4e 76.67%,#9fbd58 79.17%,#94bb61 80.83%,#73b680 85%,#4d95b4 90.83%,#426ed0 95.83%,#4356cb 98.33%,#4356cb)"></i><i style="top:182.2px;height:6.12px;background:linear-gradient(90deg,#5fa79a,#5fa79a 1.67%,#75b77e 4.17%,#95bb61 6.67%,#a4bd53 9.17%,#c1b746 15%,#d5b03e 20%,#d8a93c 21.67%,#e09036 25.83%,#e67e32 30%,#e2602d 35%,#e0532b 40%,#e0512b 42.5%,#e1582c 43.33%,#e2612d 48.33%,#e67f32 55.83%,#e28a35 59.17%,#d5b03e 67.5%,#aabe4f 77.5%,#a5be53 78.33%,#96bb60 80.83%,#74b77e 85%,#4e97b3 90.83%,#4270cf 95.83%,#4168d1 96.67%,#4357cc 98.33%,#4357cc)"></i><i style="top:187.72px;height:6.12px;background:linear-gradient(90deg,#5fa79a,#5fa79a 1.67%,#75b77e 4.17%,#95bb61 6.67%,#a4bd53 9.17%,#c1b646 15%,#d5b03e 20%,#d8a93c 21.67%,#e28b35 26.67%,#e67d32 30%,#e25f2d 35%,#e0512b 40%,#df4f2a 42.5%,#e0562b 43.33%,#e15c2c 47.5%,#e67e32 55.83%,#e38834 59.17%,#d6b03e 67.5%,#aabd4f 77.5%,#98bc5f 80.83%,#6fb583 85.83%,#4e98b2 90.83%,#4271cf 95.83%,#416ad1 96.67%,#4359cc 98.33%,#4359cc)"></i><i style="top:193.24px;height:6.12px;background:linear-gradient(90deg,#5fa79a,#5fa79a 1.67%,#75b77e 4.17%,#95bb61 6.67%,#a4bd53 9.17%,#bab949 13.33%,#d5b03e 20%,#e18f36 25.83%,#e67c32 30%,#e15e2d 35%,#df4e2a 40.83%,#df4d2a 43.33%,#e0532b 44.17%,#e1592c 47.5%,#e3692f 51.67%,#e67d32 55.83%,#e38734 59.17%,#d4b13f 68.33%,#afbc4d 76.67%,#9ebd59 80%,#70b682 85.83%,#4f99b1 90.83%,#416cd2 96.67%,#435bcd 98.33%,#435bcd)"></i><i style="top:198.77px;height:6.12px;background:linear-gradient(90deg,#5fa79a,#5fa79a 1.67%,#75b77e 4.17%,#95bb61 6.67%,#a4bd53 9.17%,#bab949 13.33%,#d6b03e 20%,#e18e36 25.83%,#e67b32 30%,#e2602d 34.17%,#df4e2a 40%,#df4b2a 43.33%,#e0502b 44.17%,#e0542b 46.67%,#e15c2d 49.17%,#e67f32 56.67%,#e28935 60%,#d7ae3e 67.5%,#c0b747 73.33%,#acbd4e 77.5%,#9fbd58 80%,#72b681 85.83%,#509aaf 90.83%,#416dd1 96.67%,#435dcd 98.33%,#435dcd)"></i><i style="top:204.29px;height:6.12px;background:linear-gradient(90deg,#5fa79a,#5fa79a 1.67%,#65ac92 2.5%,#75b77e 4.17%,#95bb61 6.67%,#a5be53 9.17%,#beb748 14.17%,#d6b03e 20%,#e18e36 25.83%,#e67f32 29.17%,#e15b2c 35%,#df4c2a 40%,#df4929 43.33%,#df4e2a 44.17%,#e0512b 46.67%,#e15d2d 50%,#e67d32 56.67%,#e38834 60%,#d5b03e 68.33%,#b1bb4c 76.67%,#a5be53 79.17%,#95bb61 81.67%,#73b67f 85.83%,#4d95b4 91.67%,#426ed1 96.67%,#425ece 98.33%,#425ece)"></i><i style="top:209.81px;height:6.12px;background:linear-gradient(90deg,#5fa79a,#5fa79a 1.67%,#65ac92 2.5%,#74b77e 4.17%,#95bb61 6.67%,#a5be53 9.17%,#beb748 14.17%,#d6b03e 20%,#e18d36 25.83%,#e67f32 29.17%,#e2622d 33.33%,#e0542b 36.67%,#df4929 40.83%,#de4729 43.33%,#df4b2a 44.17%,#e0512b 47.5%,#e67f32 57.5%,#e38734 60%,#d6b03e 68.33%,#a6be52 79.17%,#90bb66 82.5%,#74b77e 85.83%,#4e96b3 91.67%,#426fd0 96.67%,#4260ce 98.33%,#4260ce)"></i><i style="top:215.33px;height:6.12px;background:linear-gradient(90deg,#5fa79b,#5fa79b 1.67%,#64ac92 2.5%,#74b77e 4.17%,#95bb61 6.67%,#a4bd53 9.17%,#beb748 14.17%,#d6b03e 20%,#e18d36 25.83%,#e67e32 29.17%,#e2612d 33.33%,#e0502b 37.5%,#de4629 41.67%,#de4529 43.33%,#df4e2a 47.5%,#e2602d 51.67%,#e67e32 57.5%,#e28935 60.83%,#d6af3e 68.33%,#bfb747 74.17%,#a7be51 79.17%,#98bc5e 81.67%,#6fb583 86.67%,#4e98b2 91.67%,#4270cf 96.67%,#4261cf 98.33%,#4261cf)"></i><i style="top:220.85px;height:6.12px;background:linear-gradient(90deg,#5ea69b,#5ea69b 1.67%,#74b77e 4.17%,#95bb61 6.67%,#a4bd53 9.17%,#beb748 14.17%,#d6b03e 20%,#e18c35 25.83%,#e67e32 29.17%,#e2602d 33.33%,#df4f2a 37.5%,#de4429 41.67%,#de4328 43.33%,#df4b2a 47.5%,#e67d32 57.5%,#e38834 60.83%,#d7ae3d 68.33%,#a8be50 79.17%,#9ebd59 80.83%,#70b682 86.67%,#4f99b1 91.67%,#416bd2 97.5%,#4263cf 98.33%,#4263cf)"></i><i style="top:226.37px;height:6.12px;background:linear-gradient(90deg,#5ea69b,#5ea69b 1.67%,#74b77f 4.17%,#95bb61 6.67%,#a4bd53 9.17%,#beb748 14.17%,#d6b03e 20%,#e28c35 25.83%,#e67d32 29.17%,#e25f2d 33.33%,#de4429 40.83%,#dd4128 43.33%,#de4629 46.67%,#e1572c 50.83%,#e67f32 58.33%,#e38734 60.83%,#d5b03e 69.17%,#adbd4e 78.33%,#9fbd58 80.83%,#94bb62 82.5%,#71b681 86.67%,#4f99b0 91.67%,#416cd2 97.5%,#4265d0 98.33%,#4265d0)"></i><i style="top:231.89px;height:6.12px;background:linear-gradient(90deg,#5ea69c,#5ea69c 1.67%,#73b67f 4.17%,#95bb61 6.67%,#a4bd53 9.17%,#beb748 14.17%,#d6af3e 20%,#e28c35 25.83%,#e67c32 29.17%,#e25e2d 33.33%,#de4729 39.17%,#dd4128 41.67%,#dd4028 45%,#df4929 48.33%,#e67e32 58.33%,#e28a35 61.67%,#d6b03e 69.17%,#b1bb4c 77.5%,#a5be53 80%,#95bb61 82.5%,#72b680 86.67%,#509aaf 91.67%,#416dd1 97.5%,#4266d0 98.33%,#4266d0)"></i><i style="top:237.41px;height:6.12px;background:linear-gradient(90deg,#5ea69c,#5ea69c 1.67%,#73b67f 4.17%,#95bb61 6.67%,#a4bd53 9.17%,#beb748 14.17%,#d6af3e 20%,#e28c35 25.83%,#e67c32 29.17%,#e15e2d 33.33%,#de4328 40%,#dd3d27 43.33%,#dd3d27 45%,#df4a2a 49.17%,#e67d32 58.33%,#e28935 61.67%,#d6af3e 69.17%,#beb747 75%,#a5be52 80%,#96bb60 82.5%,#6db486 87.5%,#519bad 91.67%,#426ed1 97.5%,#4167d1 98.33%,#4167d1)"></i><i style="top:242.94px;height:6.12px;background:linear-gradient(90deg,#5ea69c,#5ea69c 1.67%,#63ab94 2.5%,#73b67f 4.17%,#95bb61 6.67%,#a4bd53 9.17%,#beb748 14.17%,#d6af3e 20%,#e28b35 25.83%,#e67b32 29.17%,#e2622d 32.5%,#e1592c 34.17%,#de4228 40%,#dd3a27 45%,#de4429 48.33%,#df4c2a 50%,#e68032 59.17%,#e38834 61.67%,#d4b13f 70%,#a6be52 80%,#97bc5f 82.5%,#74b77e 86.67%,#4d96b3 92.5%,#4475cc 96.67%,#4169d1 98.33%,#4169d1)"></i><i style="top:248.46px;height:6.12px;background:linear-gradient(90deg,#5da69c,#5da69c 1.67%,#63ab94 2.5%,#73b680 4.17%,#95bb61 6.67%,#a9be50 10%,#beb748 14.17%,#d6af3e 20%,#e28b35 25.83%,#e67b31 29.17%,#e15c2d 33.33%,#dd3e28 40.83%,#dc3827 45%,#dd3e28 47.5%,#df4a2a 50%,#e67f32 59.17%,#e38734 61.67%,#d7ae3d 69.17%,#c3b646 74.17%,#a7be51 80%,#98bc5e 82.5%,#6fb584 87.5%,#4e97b3 92.5%,#4476cb 96.67%,#416ad1 98.33%,#416ad1)"></i><i style="top:253.98px;height:6.12px;background:linear-gradient(90deg,#5da59d,#5da59d 1.67%,#63ab94 2.5%,#72b680 4.17%,#95bb61 6.67%,#a9be50 10%,#beb748 14.17%,#d6af3e 20%,#e28b35 25.83%,#e58032 28.33%,#e2602d 32.5%,#dd3d27 40.83%,#dc3927 44.17%,#dc3526 45%,#de4328 49.17%,#e67e32 59.17%,#e28a35 62.5%,#d5b03e 70%,#a8be50 80%,#99bc5e 82.5%,#70b683 87.5%,#4e98b2 92.5%,#416bd2 98.33%,#416bd2)"></i><i style="top:259.5px;height:6.12px;background:linear-gradient(90deg,#5da59d,#5da59d 1.67%,#63aa95 2.5%,#72b680 4.17%,#94bb61 6.67%,#a9be50 10%,#beb748 14.17%,#d6af3e 20%,#e28b35 25.83%,#e67f32 28.33%,#e2602d 32.5%,#dd3e28 40%,#dc3426 45%,#dc3626 46.67%,#dd4128 49.17%,#e67d32 59.17%,#e38634 61.67%,#d6b03e 70%,#a8be50 80%,#9abc5d 82.5%,#70b682 87.5%,#4f99b1 92.5%,#416cd2 98.33%,#416cd2)"></i><i style="top:265.02px;height:6.12px;background:linear-gradient(90deg,#5da59d,#5da59d 1.67%,#62aa95 2.5%,#71b681 4.17%,#94bb62 6.67%,#a9be50 10%,#beb748 14.17%,#d6af3e 20%,#e28b35 25.83%,#e67f32 28.33%,#e25f2d 32.5%,#dd3d27 40%,#dc3326 45%,#dc3626 47.5%,#dd3a27 48.33%,#e67c32 59.17%,#e09137 64.17%,#d6b03e 70%,#a9be50 80%,#9abc5c 82.5%,#71b681 87.5%,#4f99b0 92.5%,#416dd1 98.33%,#416dd1)"></i><i style="top:270.54px;height:6.12px;background:linear-gradient(90deg,#5ca59e,#5ca59e 1.67%,#71b681 4.17%,#94bb62 6.67%,#a3bd54 9.17%,#adbd4e 10.83%,#d6af3e 20%,#e28b35 25.83%,#e67f32 28.33%,#e25f2d 32.5%,#dd3c27 40%,#db3226 45%,#dc3827 48.33%,#e67f32 60%,#e38834 62.5%,#d6af3e 70%,#beb748 75.83%,#a9be4f 80%,#a5be53 80.83%,#95bb61 83.33%,#72b680 87.5%,#509aaf 92.5%,#4372cd 97.5%,#416ed1 98.33%,#416ed1)"></i><i style="top:276.06px;height:6.12px;background:linear-gradient(90deg,#5ca49e,#5ca49e 1.67%,#70b682 4.17%,#94bb62 6.67%,#a3bd54 9.17%,#adbd4e 10.83%,#d6af3e 20%,#e28b35 25.83%,#e67f32 28.33%,#e25f2d 32.5%,#dd3f28 39.17%,#db3125 45%,#dc3626 48.33%,#e67f32 60%,#e38734 62.5%,#d4b13f 70.83%,#a5be52 80.83%,#96bb60 83.33%,#73b67f 87.5%,#519aae 92.5%,#426ed0 98.33%,#426ed0)"></i><i style="top:281.58px;height:6.12px;background:linear-gradient(90deg,#5ca49f,#5ca49f 1.67%,#61a997 2.5%,#70b682 4.17%,#93bb63 6.67%,#a3bd54 9.17%,#acbd4e 10.83%,#d6b03e 20%,#e28b35 25.83%,#e67f32 28.33%,#e25f2d 32.5%,#e0522b 35%,#dd3b27 40%,#db3025 45%,#dc3326 47.5%,#dc3927 49.17%,#e67e32 60%,#e38734 62.5%,#d4b13f 70.83%,#a6be52 80.83%,#97bc60 83.33%,#74b77f 87.5%,#519bad 92.5%,#4d95b4 93.33%,#426fd0 98.33%,#426fd0)"></i><i style="top:287.11px;height:6.12px;background:linear-gradient(90deg,#5ba49f,#5ba49f 1.67%,#61a997 2.5%,#6fb583 4.17%,#92bb63 6.67%,#a8be50 10%,#d6b03e 20%,#e28b35 25.83%,#e67f32 28.33%,#e25f2d 32.5%,#e0562c 34.17%,#dd3e28 39.17%,#db2f25 45%,#dc3726 49.17%,#e67e32 60%,#e28a35 63.33%,#d5b03e 70.83%,#a7be51 80.83%,#97bc5f 83.33%,#75b77e 87.5%,#4d96b3 93.33%,#4270cf 98.33%,#4270cf)"></i><i style="top:292.63px;height:6.12px;background:linear-gradient(90deg,#5ba4a0,#5ba4a0 1.67%,#6fb583 4.17%,#92bb64 6.67%,#a8be50 10%,#d6b03e 20%,#e28b35 25.83%,#e67f32 28.33%,#e25f2d 32.5%,#e0562c 34.17%,#dd3e28 39.17%,#dc3526 41.67%,#db2e25 45%,#dc3626 49.17%,#e67d32 60%,#e38634 62.5%,#d5b03e 70.83%,#a7be51 80.83%,#98bc5e 83.33%,#6fb584 88.33%,#4e97b3 93.33%,#4270cf 98.33%,#4270cf)"></i><i style="top:298.15px;height:6.12px;background:linear-gradient(90deg,#5ba3a0,#5ba3a0 1.67%,#60a898 2.5%,#6eb584 4.17%,#91bb65 6.67%,#a2bd55 9.17%,#bdb848 14.17%,#d6b03e 20%,#e28b35 25.83%,#e67f32 28.33%,#e25f2d 32.5%,#e0562c 34.17%,#dd3d27 39.17%,#db2c25 45%,#dc3927 50%,#e3682e 56.67%,#e67c32 60%,#e18d36 64.17%,#d6b03e 70.83%,#a8be50 80.83%,#99bc5e 83.33%,#6fb583 88.33%,#4e98b2 93.33%,#4271cf 98.33%,#4271cf)"></i><i style="top:303.67px;height:6.12px;background:linear-gradient(90deg,#5aa3a1,#5aa3a1 1.67%,#6eb485 4.17%,#90bb65 6.67%,#a7be51 10%,#d6b03e 20%,#e28c35 25.83%,#e58032 28.33%,#e25f2d 32.5%,#dd3d27 39.17%,#da2b25 45%,#dc3827 50%,#e3672e 56.67%,#e67f32 60.83%,#e09137 65%,#d6b03e 70.83%,#a8be50 80.83%,#93bb63 84.17%,#70b682 88.33%,#4e98b2 93.33%,#4371ce 98.33%,#4371ce)"></i><i style="top:309.19px;height:6.12px;background:linear-gradient(90deg,#5aa2a1,#5aa2a1 1.67%,#5fa79a 2.5%,#6db486 4.17%,#8fba66 6.67%,#a7be51 10%,#d5b03e 20%,#d7ad3d 20.83%,#e28c35 25.83%,#e67a31 29.17%,#e25f2d 32.5%,#dd3d27 39.17%,#da2b24 45%,#dc3726 50%,#e2612d 55.83%,#e67f32 60.83%,#e18c35 64.17%,#d6b03e 70.83%,#a9be50 80.83%,#93bb62 84.17%,#71b682 88.33%,#4f99b1 93.33%,#4372ce 98.33%,#4372ce)"></i><i style="top:314.71px;height:6.12px;background:linear-gradient(90deg,#59a2a2,#59a2a2 1.67%,#5ea79b 2.5%,#77b77c 5%,#8eba67 6.67%,#97bc60 7.5%,#a1bd56 9.17%,#afbc4d 11.67%,#d5b03e 20%,#d9a83c 21.67%,#e28c35 25.83%,#e67b32 29.17%,#e15b2c 33.33%,#dd3a27 40%,#da2924 45%,#dc3626 50%,#e3662e 56.67%,#e67f32 60.83%,#e28c35 64.17%,#d6af3e 70.83%,#a9be50 80.83%,#9abc5c 83.33%,#71b681 88.33%,#4f99b0 93.33%,#4373cd 98.33%,#4373cd)"></i><i style="top:320.23px;height:6.12px;background:linear-gradient(90deg,#59a2a3,#59a2a3 1.67%,#5ea69c 2.5%,#6cb387 4.17%,#8dba68 6.67%,#96bb60 7.5%,#a6be52 10%,#d5b03e 20%,#e67b32 29.17%,#e2602d 32.5%,#e1572c 34.17%,#dd3a27 40%,#da2924 45%,#dc3626 50%,#e36b2f 57.5%,#e67f32 60.83%,#e38734 63.33%,#d6af3e 70.83%,#beb748 76.67%,#a9be4f 80.83%,#a5be53 81.67%,#95bb61 84.17%,#72b680 88.33%,#5099b0 93.33%,#4373cd 98.33%,#4373cd)"></i><i style="top:325.75px;height:6.12px;background:linear-gradient(90deg,#58a1a4,#58a1a4 1.67%,#5da59d 2.5%,#74b77e 5%,#96bb60 7.5%,#a0bd57 9.17%,#aabd4f 10.83%,#bfb747 15%,#d7ae3d 20.83%,#e18d36 25.83%,#e67d32 29.17%,#e15c2d 33.33%,#dd3b27 40%,#db2d25 44.17%,#da2b25 45.83%,#dc3626 50%,#e3652e 56.67%,#e67e32 60.83%,#e38734 63.33%,#d4b13f 71.67%,#aabd4f 80.83%,#a5be53 81.67%,#9bbc5b 83.33%,#72b680 88.33%,#509aaf 93.33%,#4374cc 98.33%,#4374cc)"></i><i style="top:331.28px;height:6.12px;background:linear-gradient(90deg,#57a0a5,#57a0a5 1.67%,#5ca49e 2.5%,#72b680 5%,#95bb61 7.5%,#a4bd53 10%,#d4b13f 20%,#d8aa3d 21.67%,#e18e36 25.83%,#e67e32 29.17%,#e15d2d 33.33%,#dd3c27 40%,#db2e25 45.83%,#dc3726 50%,#e3652e 56.67%,#e67e32 60.83%,#e38734 63.33%,#d4b13f 71.67%,#a5be52 81.67%,#96bb60 84.17%,#73b67f 88.33%,#519aae 93.33%,#4374cc 98.33%,#4374cc)"></i><i style="top:336.8px;height:6.12px;background:linear-gradient(90deg,#569fa6,#569fa6 1.67%,#5ba3a0 2.5%,#70b682 5%,#94bb62 7.5%,#a3bd54 10%,#adbd4e 11.67%,#d6af3e 20.83%,#e28b35 26.67%,#e67f32 29.17%,#e25f2d 33.33%,#e0522b 35.83%,#dd3b27 40.83%,#db3025 45.83%,#dc3526 49.17%,#e3662e 56.67%,#e67e32 60.83%,#e38734 63.33%,#d4b13f 71.67%,#a6be52 81.67%,#96bb60 84.17%,#73b67f 88.33%,#519bae 93.33%,#4475cc 98.33%,#4475cc)"></i><i style="top:342.32px;height:6.12px;background:linear-gradient(90deg,#559ea8,#559ea8 1.67%,#60a898 3.33%,#6fb584 5%,#91bb64 7.5%,#a2bd55 10%,#b4ba4b 13.33%,#d6b03e 20.83%,#d7ad3d 21.67%,#e28c35 26.67%,#e67c32 30%,#e15c2d 34.17%,#dd3b27 41.67%,#dc3326 45.83%,#dc3526 48.33%,#dd3d27 50%,#e67f32 60.83%,#e38834 63.33%,#d4b13f 71.67%,#a6be52 81.67%,#96bb60 84.17%,#74b77f 88.33%,#519bae 93.33%,#4475cb 98.33%,#4475cb)"></i><i style="top:347.84px;height:6.12px;background:linear-gradient(90deg,#549daa,#549daa 1.67%,#58a1a3 2.5%,#6db386 5%,#77b77c 5.83%,#8eba67 7.5%,#97bc60 8.33%,#a1bd56 10%,#afbc4d 12.5%,#d7ae3d 21.67%,#e18e36 26.67%,#e67e32 30%,#e25f2d 34.17%,#dd3c27 42.5%,#dc3626 45.83%,#dd3a27 48.33%,#de4128 50%,#e67f32 60.83%,#e18c35 64.17%,#d6af3e 70.83%,#c2b646 75.83%,#a6be52 81.67%,#96bb60 84.17%,#74b77f 88.33%,#519bad 93.33%,#4475cb 98.33%,#4475cb)"></i><i style="top:353.36px;height:6.12px;background:linear-gradient(90deg,#529cac,#529cac 1.67%,#5da59d 3.33%,#74b77f 5.83%,#95bb61 8.33%,#a4bd53 10.83%,#beb747 15.83%,#d6af3e 21.67%,#e28b35 27.5%,#e67b32 30.83%,#e15d2d 35%,#de4328 41.67%,#dd3d27 44.17%,#dd3e28 47.5%,#de4629 50%,#e67d32 60%,#e38935 63.33%,#d6af3e 70.83%,#beb747 76.67%,#a5be52 81.67%,#96bb60 84.17%,#73b67f 88.33%,#68af8e 90%,#519bae 93.33%,#4475cb 98.33%,#4475cb)"></i><i style="top:358.88px;height:6.12px;background:linear-gradient(90deg,#519aae,#519aae 1.67%,#5ba49f 3.33%,#70b682 5.83%,#93bb63 8.33%,#a8be50 11.67%,#bdb848 15.83%,#d5b03e 21.67%,#e18e36 27.5%,#e67f32 30.83%,#e2612d 35%,#df4c2a 40%,#de4228 44.17%,#de4128 45.83%,#df4b2a 50%,#e67f32 60%,#e28a35 63.33%,#d6b03e 70.83%,#aabe4f 80.83%,#a5be53 81.67%,#9bbc5b 83.33%,#73b67f 88.33%,#519bae 93.33%,#4475cb 98.33%,#4475cb)"></i><i style="top:364.4px;height:6.12px;background:linear-gradient(90deg,#4f99b1,#4f99b1 1.67%,#59a2a2 3.33%,#6eb485 5.83%,#8fba66 8.33%,#a1bd56 10.83%,#afbc4d 13.33%,#d4b13f 21.67%,#d8ab3d 23.33%,#e28c35 28.33%,#e67d32 31.67%,#e15c2d 36.67%,#df4829 43.33%,#de4629 45.83%,#df4e2a 49.17%,#e1572c 51.67%,#e67d32 59.17%,#e38834 62.5%,#d5b03e 70.83%,#a9be50 80.83%,#95bb61 84.17%,#73b680 88.33%,#519aae 93.33%,#4475cc 98.33%,#4475cc)"></i><i style="top:369.92px;height:6.12px;background:linear-gradient(90deg,#4e97b3,#4e97b3 1.67%,#5da59c 4.17%,#74b77e 6.67%,#95bb61 9.17%,#a4bd53 11.67%,#c1b646 17.5%,#d5b03e 22.5%,#e28a35 29.17%,#e67c32 32.5%,#e15d2d 37.5%,#df4d2a 43.33%,#df4b2a 45.83%,#e0512b 46.67%,#e1572c 50%,#e3672e 54.17%,#e67f32 59.17%,#e28935 62.5%,#d5b03f 70.83%,#a8be50 80.83%,#9abc5c 83.33%,#72b680 88.33%,#509aaf 93.33%,#4374cc 98.33%,#4374cc)"></i><i style="top:375.44px;height:6.12px;background:linear-gradient(90deg,#4d94b5,#4d94b5 1.67%,#5099b0 2.5%,#5ba49f 4.17%,#70b682 6.67%,#92bb64 9.17%,#a2bd55 11.67%,#bcb848 16.67%,#d4b13f 22.5%,#d8ab3d 24.17%,#e18d36 29.17%,#e68032 32.5%,#e25e2d 38.33%,#e0532b 42.5%,#e0502a 45.83%,#e1582c 46.67%,#e25f2d 50.83%,#e67e32 58.33%,#e28b35 62.5%,#d4b13f 70.83%,#a8be50 80.83%,#93bb63 84.17%,#71b681 88.33%,#5099b0 93.33%,#4374cc 98.33%,#4374cc)"></i><i style="top:380.97px;height:6.12px;background:linear-gradient(90deg,#4c91b7,#4c91b7 1.67%,#539dab 3.33%,#76b77c 7.5%,#96bb60 10%,#a0bd57 11.67%,#a9be4f 13.33%,#d5b03e 23.33%,#d7ae3d 24.17%,#e18c35 30%,#e67f32 33.33%,#e2602d 39.17%,#e1582c 42.5%,#e0552b 45.83%,#e25e2d 46.67%,#e3672e 51.67%,#e67d32 57.5%,#e28a35 61.67%,#d6b03e 70%,#a7be51 80.83%,#92bb64 84.17%,#70b682 88.33%,#4f99b1 93.33%,#4373cd 98.33%,#4373cd)"></i><i style="top:386.49px;height:6.12px;background:linear-gradient(90deg,#4b8eb9,#4b8eb9 1.67%,#4d94b5 2.5%,#5ca59e 5%,#71b681 7.5%,#93bb62 10%,#9dbc59 11.67%,#afbc4d 15%,#d6b03e 24.17%,#e09036 30%,#e67c32 35%,#e2602d 40.83%,#e15b2c 43.33%,#e15a2c 45.83%,#e3652e 46.67%,#e46c2f 51.67%,#e67e32 56.67%,#e18c35 61.67%,#d7ae3e 69.17%,#bdb848 75.83%,#a5be52 80.83%,#97bc5f 83.33%,#6fb584 88.33%,#4e98b2 93.33%,#4372cd 98.33%,#4372cd)"></i><i style="top:392.01px;height:6.12px;background:linear-gradient(90deg,#4a8bbb,#4a8bbb 1.67%,#4e98b1 3.33%,#60a899 5.83%,#6eb485 7.5%,#8eba67 10%,#96bb60 10.83%,#a9be50 14.17%,#bdb848 18.33%,#d6af3e 25%,#e28c35 31.67%,#e67e32 35.83%,#e46e2f 39.17%,#e2612d 43.33%,#e25e2d 45.83%,#e36b2f 46.67%,#e46e2f 50%,#e67e32 55.83%,#e38834 60%,#d6b03e 69.17%,#a9be50 80%,#95bb61 83.33%,#74b77f 87.5%,#4e97b3 93.33%,#4371ce 98.33%,#4371ce)"></i><i style="top:397.53px;height:6.12px;background:linear-gradient(90deg,#4988be,#4988be 1.67%,#519bad 4.17%,#72b680 8.33%,#93bb63 10.83%,#a7be51 14.17%,#c8b444 21.67%,#d4b13f 25%,#d8ab3d 26.67%,#e18d36 32.5%,#e67f32 36.67%,#e46f30 40.83%,#e3672e 44.17%,#e3662e 45.83%,#e47130 46.67%,#e47230 49.17%,#e67f32 55%,#e38834 59.17%,#d4b13f 69.17%,#beb747 75%,#a7be51 80%,#99bc5d 82.5%,#72b680 87.5%,#519bad 92.5%,#4d96b4 93.33%,#4270cf 98.33%,#4270cf)"></i><i style="top:403.05px;height:6.12px;background:linear-gradient(90deg,#4885c0,#4885c0 1.67%,#4c92b7 3.33%,#549ea9 5%,#6db486 8.33%,#96bb60 11.67%,#a9be50 15%,#bcb848 19.17%,#d7ae3e 26.67%,#e18e36 33.33%,#e67f32 38.33%,#e46f30 44.17%,#e46e2f 45.83%,#e57731 46.67%,#e67f32 53.33%,#e28935 58.33%,#d6b03e 68.33%,#c0b747 74.17%,#a6be52 80%,#98bc5f 82.5%,#70b682 87.5%,#509aaf 92.5%,#426fd0 98.33%,#426fd0)"></i><i style="top:408.57px;height:6.12px;background:linear-gradient(90deg,#4781c3,#4781c3 1.67%,#519bad 5%,#5ca59e 6.67%,#71b681 9.17%,#91bb64 11.67%,#aabd4f 15.83%,#bdb848 20%,#d7ae3e 27.5%,#e28c35 35%,#e57831 43.33%,#e57531 46.67%,#e67d32 47.5%,#e67f32 50.83%,#e28a35 57.5%,#d6af3e 67.5%,#bbb849 75%,#a8be50 79.17%,#9bbc5c 81.67%,#6fb584 87.5%,#4f99b1 92.5%,#426ed0 98.33%,#426ed0)"></i><i style="top:414.09px;height:6.12px;background:linear-gradient(90deg,#467dc5,#467dc5 1.67%,#4e98b1 5%,#5fa79a 7.5%,#6cb387 9.17%,#95bb61 12.5%,#a7be51 15.83%,#bab949 20%,#d7ae3e 28.33%,#e28b35 36.67%,#e58133 41.67%,#e67d32 46.67%,#e58133 47.5%,#e58233 50.83%,#e28935 55.83%,#d6af3e 66.67%,#c6b544 71.67%,#a6be51 79.17%,#99bc5d 81.67%,#73b67f 86.67%,#4e97b2 92.5%,#4371ce 97.5%,#416dd1 98.33%,#416dd1)"></i><i style="top:419.62px;height:6.12px;background:linear-gradient(90deg,#457ac8,#457ac8 1.67%,#519aae 5.83%,#6fb584 10%,#96bb60 13.33%,#a8be50 16.67%,#beb748 21.67%,#d6af3e 29.17%,#e18e36 37.5%,#e38834 40%,#e58233 46.67%,#e38834 53.33%,#df9437 58.33%,#d7ae3e 65.83%,#beb748 73.33%,#a9be50 78.33%,#96bb60 81.67%,#70b682 86.67%,#519bae 91.67%,#416bd2 98.33%,#416bd2)"></i><i style="top:425.14px;height:6.12px;background:linear-gradient(90deg,#4477ca,#4477ca 1.67%,#457bc7 2.5%,#4e97b3 5.83%,#5ea69c 8.33%,#72b680 10.83%,#91bb64 13.33%,#a9be50 17.5%,#bbb849 21.67%,#d6b03e 30%,#dd9939 35.83%,#e28b35 40.83%,#e38734 45%,#e38834 50%,#de9838 58.33%,#d7ae3e 65%,#bfb747 72.5%,#aabd4f 77.5%,#9ebd59 80%,#94bb62 81.67%,#6eb584 86.67%,#4f99b0 91.67%,#457ac8 95.83%,#4168d1 98.33%,#4168d1)"></i><i style="top:430.66px;height:6.12px;background:linear-gradient(90deg,#4373cd,#4373cd 1.67%,#4f99b0 6.67%,#6db387 10.83%,#94bb62 14.17%,#a9be4f 18.33%,#c1b746 24.17%,#d7ae3e 31.67%,#dc9c39 36.67%,#e09137 40.83%,#e28b35 46.67%,#df9437 55%,#d5b03e 65%,#c8b444 69.17%,#a8be50 77.5%,#97bc60 80.83%,#72b681 85.83%,#4e97b2 91.67%,#416dd2 97.5%,#4266d0 98.33%,#4266d0)"></i><i style="top:436.18px;height:6.12px;background:linear-gradient(90deg,#4373cd,#4373cd 1.67%,#4f99b0 6.67%,#6cb387 10.83%,#93bb62 14.17%,#a9be4f 18.33%,#beb748 23.33%,#d7ae3e 31.67%,#db9f3a 35.83%,#e09036 41.67%,#e28b35 46.67%,#de9638 55.83%,#d5b03e 65%,#c8b444 69.17%,#a8be50 77.5%,#a0bd58 79.17%,#90bb65 81.67%,#71b681 85.83%,#4e97b3 91.67%,#416cd2 97.5%,#4266d0 98.33%,#4266d0)"></i></div></div><div class="dp" style="left:1522.7px;top:730.7px;width:400.9px;height:401.3px"><div class="dpi" style="left:-8px;top:-8px;width:416.9px;height:417.3px;filter:blur(2.2px)"><i style="top:0px;height:5.82px;background:linear-gradient(90deg,#781c86,#781c86 1.67%,#721d8c 3.33%,#5226b3 11.67%,#435bcd 20.83%,#435ecd 21.67%,#467ec5 29.17%,#62aa96 40%,#8aba6b 50.83%,#b0bb4d 61.67%,#d5b03e 72.5%,#df9437 85.83%,#e58233 96.67%,#e58032)"></i><i style="top:5.22px;height:5.82px;background:linear-gradient(90deg,#781c86,#781c86 1.67%,#721d8c 3.33%,#5226b3 11.67%,#435bcd 20.83%,#435ecd 21.67%,#467ec5 29.17%,#62aa96 40%,#8aba6b 50.83%,#b0bb4d 61.67%,#d5b03e 72.5%,#df9437 85.83%,#e58233 96.67%,#e58032)"></i><i style="top:10.43px;height:5.82px;background:linear-gradient(90deg,#781c86,#781c86 1.67%,#721d8c 3.33%,#5226b3 11.67%,#435bcd 20.83%,#435ecd 21.67%,#467ec5 29.17%,#63aa95 40%,#8cba69 50.83%,#b2bb4c 61.67%,#d6af3e 72.5%,#e09137 86.67%,#e48033 96.67%,#e57e32)"></i><i style="top:15.65px;height:5.82px;background:linear-gradient(90deg,#781c86,#781c86 1.67%,#721d8c 3.33%,#5226b3 11.67%,#435bcd 20.83%,#435ecd 21.67%,#467ec5 29.17%,#63ab94 40%,#8dba68 50.83%,#b7b94a 62.5%,#d6ad3e 72.5%,#e18b35 89.17%,#e47e32 96.67%,#e57c32)"></i><i style="top:20.86px;height:5.82px;background:linear-gradient(90deg,#781c86,#781c86 1.67%,#721d8c 3.33%,#5226b3 11.67%,#435bcd 20.83%,#4362cc 22.5%,#467ec5 29.17%,#64ab93 40%,#8eba67 50.83%,#b6ba4b 61.67%,#d7ac3d 72.5%,#df9437 83.33%,#e47c32 96.67%,#e57a31)"></i><i style="top:26.08px;height:5.82px;background:linear-gradient(90deg,#781c86,#781c86 1.67%,#721d8c 3.33%,#5226b3 11.67%,#435bcd 20.83%,#4362cc 22.5%,#477fc4 29.17%,#65ac92 40%,#93bb63 51.67%,#b7b94a 61.67%,#d7aa3d 72.5%,#e08f36 85%,#e47a32 96.67%,#e57831)"></i><i style="top:31.3px;height:5.82px;background:linear-gradient(90deg,#781c86,#781c86 1.67%,#721d8c 3.33%,#5226b3 11.67%,#435bcd 20.83%,#4362cc 22.5%,#477fc4 29.17%,#65ac91 40%,#91bb64 50.83%,#b9b94a 61.67%,#d8a93c 72.5%,#e08f36 84.17%,#e47831 96.67%,#e47631)"></i><i style="top:36.51px;height:5.82px;background:linear-gradient(90deg,#781c86,#781c86 1.67%,#721d8c 3.33%,#5226b3 11.67%,#435bcd 20.83%,#4362cc 22.5%,#477fc4 29.17%,#66ad90 40%,#93bb63 50.83%,#bbb849 61.67%,#d8a73c 72.5%,#e28434 89.17%,#e47531 97.5%,#e47430)"></i><i style="top:41.73px;height:5.82px;background:linear-gradient(90deg,#781c86,#781c86 1.67%,#721d8c 3.33%,#5226b3 11.67%,#435bcd 20.83%,#477fc4 29.17%,#67ae8f 40%,#94bb62 50.83%,#bcb848 61.67%,#d9a63c 72.5%,#e28734 86.67%,#e47330 97.5%,#e47230)"></i><i style="top:46.95px;height:5.82px;background:linear-gradient(90deg,#781c86,#781c86 1.67%,#721d8c 3.33%,#5226b3 11.67%,#435bcd 20.83%,#4780c4 29.17%,#67ae8e 40%,#95bb61 50.83%,#beb748 61.67%,#d9a43b 72.5%,#e28b35 84.17%,#e47130 97.5%,#e47030)"></i><i style="top:52.16px;height:5.82px;background:linear-gradient(90deg,#781c86,#781c86 1.67%,#721d8c 3.33%,#5226b3 11.67%,#435bcd 20.83%,#4780c3 29.17%,#68af8e 40%,#90ba67 49.17%,#97bb5f 50.83%,#c0b747 61.67%,#daa33b 72.5%,#e28b35 83.33%,#e36f30 97.5%,#e36e2f)"></i><i style="top:57.38px;height:5.82px;background:linear-gradient(90deg,#781c86,#781c86 1.67%,#721d8c 3.33%,#5226b3 11.67%,#435bcd 20.83%,#4780c3 29.17%,#68af8d 40%,#98bc5e 50.83%,#c2b646 61.67%,#daa13b 72.5%,#e38834 84.17%,#e36d2f 97.5%,#e36c2f)"></i><i style="top:62.59px;height:5.82px;background:linear-gradient(90deg,#781c86,#781c86 1.67%,#721d8c 3.33%,#5226b3 11.67%,#435bcd 20.83%,#4781c3 29.17%,#69b08c 40%,#9abc5d 50.83%,#c3b645 61.67%,#db9f3a 72.5%,#e38834 83.33%,#e36b2f 97.5%,#e36a2f)"></i><i style="top:67.81px;height:5.82px;background:linear-gradient(90deg,#781c86,#781c86 1.67%,#721d8c 3.33%,#5226b3 11.67%,#435bcd 20.83%,#4781c3 29.17%,#6ab08b 40%,#9bbc5c 50.83%,#c5b545 61.67%,#daa03b 71.67%,#e48434 84.17%,#e3692f 97.5%,#e3682e)"></i><i style="top:73.03px;height:5.82px;background:linear-gradient(90deg,#781c86,#781c86 1.67%,#721d8c 3.33%,#5226b3 11.67%,#435bcd 20.83%,#4781c3 29.17%,#6ab18a 40%,#95bb62 49.17%,#9cbc5a 50.83%,#c7b544 61.67%,#dc9c39 72.5%,#e48434 83.33%,#e3672e 97.5%,#e3662e)"></i><i style="top:78.24px;height:5.82px;background:linear-gradient(90deg,#781c86,#781c86 1.67%,#721d8c 3.33%,#5226b3 11.67%,#435bcd 20.83%,#4781c2 29.17%,#6bb189 40%,#96bb61 49.17%,#a1bc57 51.67%,#c8b444 61.67%,#dd9b39 72.5%,#e48233 83.33%,#e2662e 96.67%,#e2632e)"></i><i style="top:83.46px;height:5.82px;background:linear-gradient(90deg,#781c86,#781c86 1.67%,#721d8c 3.33%,#5226b3 11.67%,#435bcd 20.83%,#4782c2 29.17%,#6cb288 40%,#98bb60 49.17%,#a3bc56 51.67%,#c9b343 61.67%,#dc9b39 71.67%,#e47d32 84.17%,#e2622e 97.5%,#e2612d)"></i><i style="top:88.68px;height:5.82px;background:linear-gradient(90deg,#781c86,#781c86 1.67%,#721d8c 3.33%,#5226b3 11.67%,#435bcd 20.83%,#4782c2 29.17%,#6db287 40%,#99bb5f 49.17%,#a4bb55 51.67%,#cbb242 61.67%,#de9738 72.5%,#e37831 85%,#e2602d 97.5%,#e25f2d)"></i><i style="top:93.89px;height:5.82px;background:linear-gradient(90deg,#781c86,#781c86 1.67%,#721d8c 3.33%,#5226b3 11.67%,#435bcd 20.83%,#4882c2 29.17%,#6db386 40%,#9abb5e 49.17%,#a6bb54 51.67%,#ccb142 61.67%,#dc9939 70.83%,#e37731 84.17%,#e15e2d 97.5%,#e15d2d)"></i><i style="top:99.11px;height:5.82px;background:linear-gradient(90deg,#781c86,#781c86 1.67%,#721d8c 3.33%,#5226b3 11.67%,#435bcd 20.83%,#4882c2 29.17%,#6eb385 40%,#a4bc55 50.83%,#cdb041 61.67%,#de9538 71.67%,#e37431 84.17%,#e15d2d 96.67%,#e15b2c)"></i><i style="top:104.32px;height:5.82px;background:linear-gradient(90deg,#781c86,#781c86 1.67%,#721d8c 3.33%,#5226b3 11.67%,#435bcd 20.83%,#4883c1 29.17%,#6fb385 40%,#a6bc54 50.83%,#cfaf40 61.67%,#e09137 72.5%,#e37130 84.17%,#e15b2c 96.67%,#e1592c)"></i><i style="top:109.54px;height:5.82px;background:linear-gradient(90deg,#781c86,#781c86 1.67%,#721d8c 3.33%,#5226b3 11.67%,#435bcd 20.83%,#4883c1 29.17%,#70b484 40%,#a7bc53 50.83%,#d0ae40 61.67%,#e18d36 73.33%,#e37030 83.33%,#e15a2c 95.83%,#e1572c)"></i><i style="top:114.76px;height:5.82px;background:linear-gradient(90deg,#781c86,#781c86 1.67%,#721d8c 3.33%,#5226b3 11.67%,#435bcd 20.83%,#4883c1 29.17%,#71b483 40%,#a9bc52 50.83%,#d1ad3f 61.67%,#e18e36 72.5%,#e26a2f 85%,#e0552b 97.5%,#e0542b)"></i><i style="top:119.97px;height:5.82px;background:linear-gradient(90deg,#781c86,#781c86 1.67%,#721d8c 3.33%,#5226b3 11.67%,#435bcd 20.83%,#4884c1 29.17%,#71b582 40%,#87b86f 44.17%,#abbb51 50.83%,#d3ac3f 61.67%,#d6a73d 63.33%,#e28c35 72.5%,#e2692f 84.17%,#e0532b 97.5%,#e0522b)"></i><i style="top:125.19px;height:5.82px;background:linear-gradient(90deg,#781c86,#781c86 1.67%,#721d8c 3.33%,#5226b3 11.67%,#435bcd 20.83%,#4884c1 29.17%,#72b581 40%,#9aba5f 47.5%,#afba4e 51.67%,#d6a93d 62.5%,#e28a35 72.5%,#e2662e 84.17%,#e0522b 96.67%,#e0502b)"></i><i style="top:130.41px;height:5.82px;background:linear-gradient(90deg,#781c86,#781c86 1.67%,#721d8c 3.33%,#5226b3 11.67%,#435bcd 20.83%,#4884c0 29.17%,#73b680 40%,#85b871 43.33%,#aebb4f 50.83%,#d6aa3d 61.67%,#e38834 72.5%,#e2632e 84.17%,#e0512b 95.83%,#df4e2a)"></i><i style="top:135.62px;height:5.82px;background:linear-gradient(90deg,#781c86,#781c86 1.67%,#721d8c 3.33%,#5226b3 11.67%,#435bcd 20.83%,#4884c0 29.17%,#74b67f 40%,#78b77b 40.83%,#afbb4e 50.83%,#d7a93d 61.67%,#e48333 73.33%,#e2622e 83.33%,#e0502b 95%,#df4c2a)"></i><i style="top:140.84px;height:5.82px;background:linear-gradient(90deg,#781c86,#781c86 1.67%,#721d8c 3.33%,#5226b3 11.67%,#435bcd 20.83%,#4885c0 29.17%,#74b67e 40%,#82b873 42.5%,#b1bb4d 50.83%,#d8a83c 61.67%,#e48434 72.5%,#e2622e 82.5%,#e0502b 93.33%,#df4a29)"></i><i style="top:146.05px;height:5.82px;background:linear-gradient(90deg,#781c86,#781c86 1.67%,#721d8c 3.33%,#5226b3 11.67%,#435bcd 20.83%,#4885c0 29.17%,#75b67e 40%,#83b872 42.5%,#b2bb4c 50.83%,#d9a63c 61.67%,#e48233 72.5%,#e15d2d 83.33%,#df4929 96.67%,#de4829)"></i><i style="top:151.27px;height:5.82px;background:linear-gradient(90deg,#781c86,#781c86 1.67%,#721d8c 3.33%,#5226b3 11.67%,#435bcd 20.83%,#4885c0 29.17%,#72b283 39.17%,#83b872 42.5%,#b4ba4c 50.83%,#d9a43b 61.67%,#e48033 72.5%,#e15b2c 83.33%,#df4929 95%,#de4529)"></i><i style="top:156.49px;height:5.82px;background:linear-gradient(90deg,#781c86,#781c86 1.67%,#721d8c 3.33%,#5226b3 11.67%,#435bcd 20.83%,#4986bf 29.17%,#5899a7 33.33%,#76b57e 40%,#8eb969 44.17%,#b5ba4b 50.83%,#daa33b 61.67%,#e47d32 72.5%,#e1592c 83.33%,#df4d2a 90%,#de4328)"></i><i style="top:161.7px;height:5.82px;background:linear-gradient(90deg,#781c86,#781c86 1.67%,#721d8c 3.33%,#5226b3 11.67%,#435bcd 20.83%,#4986bf 29.17%,#5b9da2 34.17%,#76b57e 40%,#89b96d 43.33%,#b7b94b 50.83%,#d1a93f 58.33%,#dc9e3a 62.5%,#e38133 70.83%,#e1592c 82.5%,#df4d2a 88.33%,#de4128)"></i><i style="top:166.92px;height:5.82px;background:linear-gradient(90deg,#781c86,#781c86 1.67%,#721d8c 3.33%,#5226b3 11.67%,#435bcd 20.83%,#4986bf 29.17%,#5ea19d 35%,#67a893 36.67%,#77b47e 40%,#8ab96c 43.33%,#b8b94a 50.83%,#db9f3a 61.67%,#e37e33 70.83%,#e0572c 82.5%,#df4929 89.17%,#dd3f28)"></i><i style="top:172.14px;height:5.82px;background:linear-gradient(90deg,#781c86,#781c86 1.67%,#721d8c 3.33%,#5226b3 11.67%,#435bcd 20.83%,#4986bf 29.17%,#5ea29d 35%,#67a893 36.67%,#77b47e 40%,#8bb96b 43.33%,#b4b84d 50%,#bdb748 51.67%,#d3a73e 58.33%,#dd9a39 62.5%,#e37f33 70%,#e0572c 81.67%,#df4829 88.33%,#dd3d27 97.5%,#dd3d27)"></i><i style="top:177.35px;height:5.82px;background:linear-gradient(90deg,#781c86,#781c86 1.67%,#721d8c 3.33%,#5226b3 11.67%,#435bcd 20.83%,#4987bf 29.17%,#5a9ea3 34.17%,#78b47d 40%,#8bb96b 43.33%,#bbb849 50.83%,#d7a33c 59.17%,#dc9b39 61.67%,#e38333 68.33%,#e15c2d 79.17%,#e0502b 83.33%,#de4429 89.17%,#dd3b27 97.5%,#dd3b27)"></i><i style="top:182.57px;height:5.82px;background:linear-gradient(90deg,#781c86,#781c86 1.67%,#721d8c 3.33%,#5226b3 11.67%,#435bcd 20.83%,#4987be 29.17%,#5a9fa3 34.17%,#74b183 39.17%,#87b96e 42.5%,#bcb848 50.83%,#d8a23c 59.17%,#dd9a39 61.67%,#e38434 67.5%,#e15c2d 78.33%,#df4e2a 83.33%,#de4128 89.17%,#dc3927)"></i><i style="top:187.78px;height:5.82px;background:linear-gradient(90deg,#781c86,#781c86 1.67%,#721d8c 3.33%,#5226b3 11.67%,#435bcd 20.83%,#4987be 29.17%,#5da39e 35%,#87b96e 42.5%,#beb748 50.83%,#dc9b39 60.83%,#e48133 67.5%,#e15a2c 78.33%,#df4e2a 82.5%,#dd3f28 89.17%,#dc3626)"></i><i style="top:193px;height:5.82px;background:linear-gradient(90deg,#781c86,#781c86 1.67%,#721d8c 3.33%,#5226b3 11.67%,#435bcd 20.83%,#4987be 29.17%,#5da39e 35%,#88b96d 42.5%,#bfb747 50.83%,#da9f3b 59.17%,#de9638 61.67%,#e47f33 67.5%,#e0572c 78.33%,#df4e2a 81.67%,#dd3c27 89.17%,#dc3426)"></i><i style="top:198.22px;height:5.82px;background:linear-gradient(90deg,#781c86,#781c86 1.67%,#721d8c 3.33%,#5226b3 11.67%,#435bcd 20.83%,#4988be 29.17%,#59a0a3 34.17%,#88b96d 42.5%,#c0b647 50.83%,#db9e3a 59.17%,#e57d32 67.5%,#e0502b 80%,#dc3a27 89.17%,#db3226)"></i><i style="top:203.43px;height:5.82px;background:linear-gradient(90deg,#781c86,#781c86 1.67%,#721d8c 3.33%,#5226b3 11.67%,#435bcd 20.83%,#4988be 29.17%,#569ca8 33.33%,#61a699 35.83%,#8eba68 43.33%,#c2b646 50.83%,#dc9d39 59.17%,#e57b32 67.5%,#e0522b 78.33%,#dc3726 89.17%,#db3025)"></i><i style="top:208.65px;height:5.82px;background:linear-gradient(90deg,#781c86,#781c86 1.67%,#721d8c 3.33%,#5226b3 11.67%,#435bcd 20.83%,#4988bd 29.17%,#569da7 33.33%,#66a993 36.67%,#8fba67 43.33%,#c3b646 50.83%,#dc9c39 59.17%,#e57d32 66.67%,#e0502b 78.33%,#dc3526 89.17%,#db2f25)"></i><i style="top:213.87px;height:5.82px;background:linear-gradient(90deg,#781c86,#781c86 1.67%,#721d8c 3.33%,#5226b3 11.67%,#435bcd 20.83%,#4989bd 29.17%,#569da7 33.33%,#5da49e 35%,#8fba67 43.33%,#c3b646 50.83%,#dd9b39 59.17%,#e57c32 66.67%,#df4f2a 78.33%,#de4629 81.67%,#dc3426 89.17%,#db2e25)"></i><i style="top:219.08px;height:5.82px;background:linear-gradient(90deg,#781c86,#781c86 1.67%,#721d8c 3.33%,#5226b3 11.67%,#435bcd 20.83%,#4a89bd 29.17%,#59a1a2 34.17%,#8fba67 43.33%,#c3b646 50.83%,#dd9b39 59.17%,#e57731 67.5%,#df4d2a 78.33%,#dc3326 89.17%,#db2e25)"></i><i style="top:224.3px;height:5.82px;background:linear-gradient(90deg,#781c86,#781c86 1.67%,#721d8c 3.33%,#5226b3 11.67%,#435bcd 20.83%,#4a89bd 29.17%,#5499ab 32.5%,#5da49d 35%,#90ba67 43.33%,#c3b646 50.83%,#dd9b39 59.17%,#e57631 67.5%,#df4b2a 78.33%,#db3226 89.17%,#db2d25)"></i><i style="top:229.51px;height:5.82px;background:linear-gradient(90deg,#781c86,#781c86 1.67%,#721d8c 3.33%,#5226b3 11.67%,#435bcd 20.83%,#4a89bd 29.17%,#5499ab 32.5%,#5da59d 35%,#90ba66 43.33%,#c3b646 50.83%,#dd9b39 59.17%,#e57531 67.5%,#df4a2a 78.33%,#db3125 89.17%,#db2c25)"></i><i style="top:234.73px;height:5.82px;background:linear-gradient(90deg,#781c86,#781c86 1.67%,#721d8c 3.33%,#5226b3 11.67%,#435bcd 20.83%,#4a8abc 29.17%,#579ea6 33.33%,#5ea59d 35%,#90ba66 43.33%,#c3b646 50.83%,#dd9a39 59.17%,#e57430 67.5%,#de4829 78.33%,#db3025 89.17%,#db2c25)"></i><i style="top:239.95px;height:5.82px;background:linear-gradient(90deg,#781c86,#781c86 1.67%,#721d8c 3.33%,#5226b3 11.67%,#435bcd 20.83%,#4a8abc 29.17%,#579ea6 33.33%,#5ea59c 35%,#91ba66 43.33%,#c3b646 50.83%,#dd9a39 59.17%,#e47731 66.67%,#de4729 78.33%,#db2f25 89.17%,#da2b25)"></i><i style="top:245.16px;height:5.82px;background:linear-gradient(90deg,#781c86,#781c86 1.67%,#721d8c 3.33%,#5226b3 11.67%,#435bcd 20.83%,#4a8abc 29.17%,#5aa2a1 34.17%,#91ba65 43.33%,#c3b646 50.83%,#dd9a39 59.17%,#e47631 66.67%,#de4529 78.33%,#db2f25 88.33%,#da2b24)"></i><i style="top:250.38px;height:5.82px;background:linear-gradient(90deg,#781c86,#781c86 1.67%,#721d8c 3.33%,#5226b3 11.67%,#435bcd 20.83%,#4a8abc 29.17%,#4f92b3 30.83%,#5ea59c 35%,#91ba65 43.33%,#c3b646 50.83%,#dd9939 59.17%,#e47531 66.67%,#de4328 78.33%,#db2c25 90%,#da2a24)"></i><i style="top:255.6px;height:5.82px;background:linear-gradient(90deg,#781c86,#781c86 1.67%,#721d8c 3.33%,#5226b3 11.67%,#435bcd 20.83%,#4a8bbc 29.17%,#5297ae 31.67%,#5fa69b 35%,#8cba69 42.5%,#c3b646 50.83%,#dd9938 59.17%,#e47430 66.67%,#de4228 78.33%,#da2b25 90%,#da2a24)"></i><i style="top:260.81px;height:5.82px;background:linear-gradient(90deg,#781c86,#781c86 1.67%,#721d8c 3.33%,#5226b3 11.67%,#435bcd 20.83%,#4a8bbb 29.17%,#559ba9 32.5%,#5fa69b 35%,#8dba69 42.5%,#c3b646 50.83%,#dd9938 59.17%,#e46f2f 67.5%,#dd4028 78.33%,#da2a24 89.17%,#da2924)"></i><i style="top:266.03px;height:5.82px;background:linear-gradient(90deg,#781c86,#781c86 1.67%,#721d8c 3.33%,#5226b3 11.67%,#435bcd 20.83%,#4a8bbb 29.17%,#559ba9 32.5%,#5fa69b 35%,#8dba68 42.5%,#c3b646 50.83%,#de9838 59.17%,#e46e2f 67.5%,#dd3f28 78.33%,#da2924 89.17%,#da2924)"></i><i style="top:271.25px;height:5.82px;background:linear-gradient(90deg,#781c86,#781c86 1.67%,#721d8c 3.33%,#5226b3 11.67%,#435bcd 20.83%,#4a8cbb 29.17%,#589fa4 33.33%,#5fa69a 35%,#8dba68 42.5%,#c3b646 50.83%,#de9838 59.17%,#e46c2f 67.5%,#dd3d27 78.33%,#da2824 89.17%,#da2824)"></i><i style="top:276.46px;height:5.82px;background:linear-gradient(90deg,#781c86,#781c86 1.67%,#721d8c 3.33%,#5226b3 11.67%,#435acd 20.83%,#4a8cbb 29.17%,#60a699 35%,#8eba68 42.5%,#c2b646 50.83%,#dd9939 59.17%,#e37330 66.67%,#dd4028 78.33%,#da2b25 89.17%,#da2b24)"></i><i style="top:281.68px;height:5.82px;background:linear-gradient(90deg,#781c86,#781c86 1.67%,#721d8c 3.33%,#5226b3 11.67%,#4359cc 20.83%,#4b8dba 29.17%,#62a698 35%,#80b576 40%,#94ba64 43.33%,#c1b647 50.83%,#d99e3b 58.33%,#df8f37 61.67%,#e37230 67.5%,#de4529 78.33%,#dc3927 83.33%,#db3025 89.17%,#db2f25)"></i><i style="top:286.89px;height:5.82px;background:linear-gradient(90deg,#781c86,#781c86 1.67%,#721d8c 3.33%,#5226b3 11.67%,#4358cc 20.83%,#4b8dba 29.17%,#69a991 35.83%,#81b675 40%,#94ba63 43.33%,#c0b747 50.83%,#dd9638 60.83%,#e27a32 66.67%,#df4929 78.33%,#dd3d27 83.33%,#dc3526 89.17%,#dc3326)"></i><i style="top:292.11px;height:5.82px;background:linear-gradient(90deg,#781c86,#781c86 1.67%,#721d8c 3.33%,#5226b3 11.67%,#4358cc 20.83%,#4b8eba 29.17%,#66a695 35%,#7eb479 39.17%,#90b967 42.5%,#bfb747 50.83%,#dc9839 60.83%,#e27a32 67.5%,#e15d2d 74.17%,#de4529 81.67%,#dd3a27 89.17%,#dc3827)"></i><i style="top:297.33px;height:5.82px;background:linear-gradient(90deg,#781c86,#781c86 1.67%,#721d8c 3.33%,#5226b3 11.67%,#4357cc 20.83%,#4b8eb9 29.17%,#76af82 37.5%,#84b771 40%,#8db96a 41.67%,#bdb748 50.83%,#dd9838 61.67%,#e2642e 73.33%,#de4729 82.5%,#dd3f28 89.17%,#dd3c27)"></i><i style="top:302.54px;height:5.82px;background:linear-gradient(90deg,#781c86,#781c86 1.67%,#721d8c 3.33%,#5226b3 11.67%,#4356cb 20.83%,#4b8fb9 29.17%,#73ac86 36.67%,#89b96c 40.83%,#bcb848 50.83%,#dc9b39 61.67%,#e36b2f 72.5%,#de4729 84.17%,#dd4028)"></i><i style="top:307.76px;height:5.82px;background:linear-gradient(90deg,#781c86,#781c86 1.67%,#721d8c 3.33%,#5225b2 11.67%,#4455cb 20.83%,#4b8fb8 29.17%,#86b96f 40%,#bbb849 50.83%,#dc9d3a 61.67%,#e36f30 72.5%,#df4e2a 83.33%,#de4629)"></i><i style="top:312.97px;height:5.82px;background:linear-gradient(90deg,#781c86,#781c86 1.67%,#731d8c 3.33%,#5325b2 11.67%,#4454cb 20.83%,#4b8fb8 29.17%,#86b96f 40%,#bbb849 50.83%,#dba03a 61.67%,#e37230 73.33%,#e0572c 83.33%,#df502b)"></i><i style="top:318.19px;height:5.82px;background:linear-gradient(90deg,#781c86,#781c86 1.67%,#731d8c 3.33%,#5325b1 11.67%,#4453cb 20.83%,#4b8fb8 29.17%,#86b96f 40%,#bab849 50.83%,#daa23b 61.67%,#e27a32 72.5%,#e1602d 83.33%,#e05a2c)"></i><i style="top:323.41px;height:5.82px;background:linear-gradient(90deg,#781c86,#781c86 1.67%,#5227b3 12.5%,#4453ca 20.83%,#4b8fb8 29.17%,#86b96f 40%,#bab849 50.83%,#d9a53b 61.67%,#e28033 72.5%,#e26a2f 82.5%,#e1672f 85%,#e1642e)"></i><i style="top:328.62px;height:5.82px;background:linear-gradient(90deg,#781c86,#761d88 2.5%,#5227b3 12.5%,#4452ca 20.83%,#4b8fb8 29.17%,#86b96f 40%,#bcb748 51.67%,#d8a73c 61.67%,#e18534 72.5%,#e27130 83.33%,#e26e30)"></i><i style="top:333.84px;height:5.82px;background:linear-gradient(90deg,#781c86,#761d88 2.5%,#5226b2 12.5%,#4451ca 20.83%,#4b8fb8 29.17%,#86b96f 40%,#bbb848 51.67%,#d8a93d 61.67%,#e18935 73.33%,#e37b32 82.5%,#e37831)"></i><i style="top:339.06px;height:5.82px;background:linear-gradient(90deg,#781c86,#761d88 2.5%,#5325b2 12.5%,#4450ca 20.83%,#4b8fb8 29.17%,#86b96f 40%,#b8b94a 50.83%,#d7ac3d 61.67%,#e09036 72.5%,#e48333 83.33%,#e48333)"></i><i style="top:344.27px;height:5.82px;background:linear-gradient(90deg,#781c86,#761c88 2.5%,#5425b0 12.5%,#464dc7 20.83%,#4986be 29.17%,#7ab27d 39.17%,#82b674 40.83%,#acb853 50.83%,#caaf44 61.67%,#d69a3b 72.5%,#da9139 81.67%,#dd8f37)"></i><i style="top:349.49px;height:5.82px;background:linear-gradient(90deg,#781c86,#761c88 2.5%,#5624ad 12.5%,#494ac3 20.83%,#477cc4 29.17%,#75b181 40%,#9eb75e 50.83%,#adb753 55.83%,#bcb34b 61.67%,#cca440 73.33%,#cf9e3e 81.67%,#d49c3c)"></i><i style="top:354.7px;height:5.82px;background:linear-gradient(90deg,#781c86,#761c88 2.5%,#5726ad 13.33%,#4b47c0 20.83%,#4471ca 29.17%,#6bad8c 40%,#8eb66b 50%,#a2b95a 56.67%,#c0af46 72.5%,#c7aa43 85.83%,#cca941)"></i><i style="top:359.92px;height:5.82px;background:linear-gradient(90deg,#781c86,#761c88 2.5%,#5a23a9 12.5%,#4266d0 29.17%,#62a996 40%,#94bb62 56.67%,#b5ba4b 73.33%,#c3b646)"></i><i style="top:365.14px;height:5.82px;background:linear-gradient(90deg,#781c86,#771c88 2.5%,#5c24a7 13.33%,#455ccb 29.17%,#4d79bc 35%,#5792a9 40%,#70a88b 52.5%,#79ab82 56.67%,#8faf70 72.5%,#9aae69)"></i><i style="top:370.35px;height:5.82px;background:linear-gradient(90deg,#781c86,#771c87 2.5%,#5b26a8 15.83%,#4851c5 29.17%,#475ec7 32.5%,#4667c7 35%,#4c7abc 40%,#5693ac 49.17%,#5999a7 52.5%,#69a494 72.5%,#71a78d)"></i><i style="top:375.57px;height:5.82px;background:linear-gradient(90deg,#781c86,#771c87 2.5%,#5f23a4 15.83%,#4554c9 35%,#4a7fbc 50%,#4b83ba 52.5%,#5292af 72.5%,#5698a9)"></i><i style="top:380.79px;height:5.82px;background:linear-gradient(90deg,#781c86,#771c87 2.5%,#64219d 15%,#4b3fbf 33.33%,#4845c2 36.67%,#4863c0 50.83%,#4970bf 62.5%,#4b76bc 72.5%,#4c81bc)"></i><i style="top:386px;height:5.82px;background:linear-gradient(90deg,#781c86,#741d8a 5%,#64219d 18.33%,#4733c1 40%,#4454c9 61.67%,#4369ce)"></i><i style="top:391.22px;height:5.82px;background:linear-gradient(90deg,#781c86,#751d89 5%,#63229e 22.5%,#4f2bb7 40%,#4a3fbf 63.33%,#454cc8)"></i><i style="top:396.43px;height:5.82px;background:linear-gradient(90deg,#781c86,#6c1f94 18.33%,#5825ac 40%,#492dbd)"></i><i style="top:401.65px;height:5.82px;background:linear-gradient(90deg,#781c86,#64219e 40.83%,#5624ad)"></i><i style="top:406.87px;height:5.82px;background:linear-gradient(90deg,#781c86,#65219c)"></i><i style="top:412.08px;height:5.82px;background:linear-gradient(90deg,#781c86,#65219c)"></i></div></div><svg width="2100" height="1785" viewBox="0 0 2100 1785" font-family="'Liberation Sans', Arial, sans-serif"><rect x="115.5" y="79.5" width="443.8" height="445.1" fill="none" stroke="#7a7a7a" stroke-width="1"/>
<path d="M124.1 524.6v-6M124.1 79.5v6M138.33 524.6v-3.3M138.33 79.5v3.3M152.55 524.6v-3.3M152.55 79.5v3.3M166.78 524.6v-3.3M166.78 79.5v3.3M181.01 524.6v-3.3M181.01 79.5v3.3M195.23 524.6v-6M195.23 79.5v6M209.46 524.6v-3.3M209.46 79.5v3.3M223.69 524.6v-3.3M223.69 79.5v3.3M237.91 524.6v-3.3M237.91 79.5v3.3M252.14 524.6v-3.3M252.14 79.5v3.3M266.37 524.6v-6M266.37 79.5v6M280.59 524.6v-3.3M280.59 79.5v3.3M294.82 524.6v-3.3M294.82 79.5v3.3M309.05 524.6v-3.3M309.05 79.5v3.3M323.27 524.6v-3.3M323.27 79.5v3.3M337.5 524.6v-6M337.5 79.5v6M351.73 524.6v-3.3M351.73 79.5v3.3M365.95 524.6v-3.3M365.95 79.5v3.3M380.18 524.6v-3.3M380.18 79.5v3.3M394.41 524.6v-3.3M394.41 79.5v3.3M408.63 524.6v-6M408.63 79.5v6M422.86 524.6v-3.3M422.86 79.5v3.3M437.09 524.6v-3.3M437.09 79.5v3.3M451.31 524.6v-3.3M451.31 79.5v3.3M465.54 524.6v-3.3M465.54 79.5v3.3M479.77 524.6v-6M479.77 79.5v6M493.99 524.6v-3.3M493.99 79.5v3.3M508.22 524.6v-3.3M508.22 79.5v3.3M522.45 524.6v-3.3M522.45 79.5v3.3M536.67 524.6v-3.3M536.67 79.5v3.3M550.9 524.6v-6M550.9 79.5v6M115.5 515.8h3.3M559.3 515.8h-3.3M115.5 501.04h3.3M559.3 501.04h-3.3M115.5 486.29h3.3M559.3 486.29h-3.3M115.5 471.53h6M559.3 471.53h-6M115.5 456.78h3.3M559.3 456.78h-3.3M115.5 442.02h3.3M559.3 442.02h-3.3M115.5 427.27h3.3M559.3 427.27h-3.3M115.5 412.51h6M559.3 412.51h-6M115.5 397.76h3.3M559.3 397.76h-3.3M115.5 383h3.3M559.3 383h-3.3M115.5 368.25h3.3M559.3 368.25h-3.3M115.5 353.49h6M559.3 353.49h-6M115.5 338.74h3.3M559.3 338.74h-3.3M115.5 323.98h3.3M559.3 323.98h-3.3M115.5 309.23h3.3M559.3 309.23h-3.3M115.5 294.47h6M559.3 294.47h-6M115.5 279.72h3.3M559.3 279.72h-3.3M115.5 264.96h3.3M559.3 264.96h-3.3M115.5 250.21h3.3M559.3 250.21h-3.3M115.5 235.45h6M559.3 235.45h-6M115.5 220.7h3.3M559.3 220.7h-3.3M115.5 205.94h3.3M559.3 205.94h-3.3M115.5 191.19h3.3M559.3 191.19h-3.3M115.5 176.43h6M559.3 176.43h-6M115.5 161.68h3.3M559.3 161.68h-3.3M115.5 146.92h3.3M559.3 146.92h-3.3M115.5 132.17h3.3M559.3 132.17h-3.3M115.5 117.41h6M559.3 117.41h-6M115.5 102.66h3.3M559.3 102.66h-3.3M115.5 87.9h3.3M559.3 87.9h-3.3" stroke="#7a7a7a" stroke-width="1" fill="none"/>
<text x="124.1" y="565.6" font-size="39" text-anchor="middle" fill="#000" font-weight="bold">−3</text>
<text x="195.23" y="565.6" font-size="39" text-anchor="middle" fill="#000" font-weight="bold">−2</text>
<text x="266.37" y="565.6" font-size="39" text-anchor="middle" fill="#000" font-weight="bold">−1</text>
<text x="337.5" y="565.6" font-size="39" text-anchor="middle" fill="#000" font-weight="bold">0</text>
<text x="408.63" y="565.6" font-size="39" text-anchor="middle" fill="#000" font-weight="bold">1</text>
<text x="479.77" y="565.6" font-size="39" text-anchor="middle" fill="#000" font-weight="bold">2</text>
<text x="550.9" y="565.6" font-size="39" text-anchor="middle" fill="#000" font-weight="bold">3</text>
<text x="108.8" y="485.03" font-size="39" text-anchor="end" fill="#000" font-weight="bold">2</text>
<text x="108.8" y="426.01" font-size="39" text-anchor="end" fill="#000" font-weight="bold">4</text>
<text x="108.8" y="366.99" font-size="39" text-anchor="end" fill="#000" font-weight="bold">6</text>
<text x="108.8" y="307.97" font-size="39" text-anchor="end" fill="#000" font-weight="bold">8</text>
<text x="108.8" y="248.95" font-size="39" text-anchor="end" fill="#000" font-weight="bold">10</text>
<text x="108.8" y="189.93" font-size="39" text-anchor="end" fill="#000" font-weight="bold">12</text>
<text x="108.8" y="130.91" font-size="39" text-anchor="end" fill="#000" font-weight="bold">14</text>
<linearGradient id="cba1" x1="0" y1="1" x2="0" y2="0"><stop offset="0" stop-color="#781c86"/><stop offset="0.12" stop-color="#4828be"/><stop offset="0.25" stop-color="#416cd2"/><stop offset="0.38" stop-color="#4e98b2"/><stop offset="0.5" stop-color="#70b682"/><stop offset="0.62" stop-color="#a8be50"/><stop offset="0.75" stop-color="#d6b03e"/><stop offset="0.88" stop-color="#e67e32"/><stop offset="1" stop-color="#da2824"/></linearGradient>
<rect x="593.5" y="178.3" width="20.5" height="298.6" fill="url(#cba1)"/>
<path d="M614 476.9h5.5M614 458.24h3M614 439.57h3M614 420.91h3M614 402.25h5.5M614 383.59h3M614 364.92h3M614 346.26h3M614 327.6h5.5M614 308.94h3M614 290.27h3M614 271.61h3M614 252.95h5.5M614 234.29h3M614 215.62h3M614 196.96h3M614 178.3h5.5" stroke="#bbb" stroke-width="1" fill="none"/>
<text x="624" y="490.4" font-size="39" text-anchor="start" fill="#666" font-weight="bold">0</text>
<text x="624" y="415.75" font-size="39" text-anchor="start" fill="#666" font-weight="bold">0.2</text>
<text x="624" y="341.1" font-size="39" text-anchor="start" fill="#666" font-weight="bold">0.4</text>
<text x="624" y="266.45" font-size="39" text-anchor="start" fill="#666" font-weight="bold">0.6</text>
<text x="624" y="191.8" font-size="39" text-anchor="start" fill="#666" font-weight="bold">0.8</text>
<text x="336.6" y="61.8" text-anchor="middle" font-weight="bold"><tspan font-size="39.3" font-style="italic">E</tspan><tspan font-size="26.3" dy="6.5">bm</tspan></text>
<text x="337" y="620.5" text-anchor="middle" font-weight="bold"><tspan font-size="40">Δ</tspan><tspan font-size="27" font-style="italic" dy="6.5">m</tspan><tspan font-size="40" dy="-6.5">/</tspan><tspan font-size="40" font-style="italic">ω</tspan><tspan font-size="27" font-style="italic" dy="6.5">b</tspan></text>
<text x="48.2" y="301.7" text-anchor="middle" font-weight="bold" transform="rotate(-90 48.2 301.7)"><tspan font-size="40" font-style="italic">κ</tspan><tspan font-size="40">/</tspan><tspan font-size="40" font-style="italic">ω</tspan><tspan font-size="27" font-style="italic" dy="6.5">b</tspan></text>
<rect x="436" y="98.8" width="100.1" height="64.1" fill="#fff"/>
<text x="486.05" y="149.8" font-size="55" text-anchor="middle" fill="#000" font-weight="bold">(a1)</text>
<rect x="804.4" y="81.3" width="442.5" height="443.1" fill="none" stroke="#7a7a7a" stroke-width="1"/>
<path d="M813.4 524.4v-3.3M813.4 81.3v3.3M834.6 524.4v-3.3M834.6 81.3v3.3M855.8 524.4v-6M855.8 81.3v6M877 524.4v-3.3M877 81.3v3.3M898.2 524.4v-3.3M898.2 81.3v3.3M919.4 524.4v-3.3M919.4 81.3v3.3M940.6 524.4v-6M940.6 81.3v6M961.8 524.4v-3.3M961.8 81.3v3.3M983 524.4v-3.3M983 81.3v3.3M1004.2 524.4v-3.3M1004.2 81.3v3.3M1025.4 524.4v-6M1025.4 81.3v6M1046.6 524.4v-3.3M1046.6 81.3v3.3M1067.8 524.4v-3.3M1067.8 81.3v3.3M1089 524.4v-3.3M1089 81.3v3.3M1110.2 524.4v-6M1110.2 81.3v6M1131.4 524.4v-3.3M1131.4 81.3v3.3M1152.6 524.4v-3.3M1152.6 81.3v3.3M1173.8 524.4v-3.3M1173.8 81.3v3.3M1195 524.4v-6M1195 81.3v6M1216.2 524.4v-3.3M1216.2 81.3v3.3M1237.4 524.4v-3.3M1237.4 81.3v3.3M804.4 515.4h3.3M1246.9 515.4h-3.3M804.4 494.13h3.3M1246.9 494.13h-3.3M804.4 472.86h6M1246.9 472.86h-6M804.4 451.59h3.3M1246.9 451.59h-3.3M804.4 430.32h3.3M1246.9 430.32h-3.3M804.4 409.05h3.3M1246.9 409.05h-3.3M804.4 387.78h6M1246.9 387.78h-6M804.4 366.51h3.3M1246.9 366.51h-3.3M804.4 345.24h3.3M1246.9 345.24h-3.3M804.4 323.97h3.3M1246.9 323.97h-3.3M804.4 302.7h6M1246.9 302.7h-6M804.4 281.43h3.3M1246.9 281.43h-3.3M804.4 260.16h3.3M1246.9 260.16h-3.3M804.4 238.89h3.3M1246.9 238.89h-3.3M804.4 217.62h6M1246.9 217.62h-6M804.4 196.35h3.3M1246.9 196.35h-3.3M804.4 175.08h3.3M1246.9 175.08h-3.3M804.4 153.81h3.3M1246.9 153.81h-3.3M804.4 132.54h6M1246.9 132.54h-6M804.4 111.27h3.3M1246.9 111.27h-3.3M804.4 90h3.3M1246.9 90h-3.3" stroke="#7a7a7a" stroke-width="1" fill="none"/>
<text x="855.8" y="565.4" font-size="39" text-anchor="middle" fill="#000" font-weight="bold">−4</text>
<text x="940.6" y="565.4" font-size="39" text-anchor="middle" fill="#000" font-weight="bold">−2</text>
<text x="1025.4" y="565.4" font-size="39" text-anchor="middle" fill="#000" font-weight="bold">0</text>
<text x="1110.2" y="565.4" font-size="39" text-anchor="middle" fill="#000" font-weight="bold">2</text>
<text x="1195" y="565.4" font-size="39" text-anchor="middle" fill="#000" font-weight="bold">4</text>
<text x="797.7" y="486.36" font-size="39" text-anchor="end" fill="#000" font-weight="bold">−4</text>
<text x="797.7" y="401.28" font-size="39" text-anchor="end" fill="#000" font-weight="bold">−2</text>
<text x="797.7" y="316.2" font-size="39" text-anchor="end" fill="#000" font-weight="bold">0</text>
<text x="797.7" y="231.12" font-size="39" text-anchor="end" fill="#000" font-weight="bold">2</text>
<text x="797.7" y="146.04" font-size="39" text-anchor="end" fill="#000" font-weight="bold">4</text>
<linearGradient id="cbb1" x1="0" y1="1" x2="0" y2="0"><stop offset="0" stop-color="#781c86"/><stop offset="0.12" stop-color="#4828be"/><stop offset="0.25" stop-color="#416cd2"/><stop offset="0.38" stop-color="#4e98b2"/><stop offset="0.5" stop-color="#70b682"/><stop offset="0.62" stop-color="#a8be50"/><stop offset="0.75" stop-color="#d6b03e"/><stop offset="0.88" stop-color="#e67e32"/><stop offset="1" stop-color="#da2824"/></linearGradient>
<rect x="1279.5" y="163.7" width="21.1" height="312.8" fill="url(#cbb1)"/>
<path d="M1300.6 468.18h5.5M1300.6 452.19h3M1300.6 436.2h3M1300.6 420.21h3M1300.6 404.22h5.5M1300.6 388.23h3M1300.6 372.23h3M1300.6 356.24h3M1300.6 340.25h5.5M1300.6 324.26h3M1300.6 308.27h3M1300.6 292.27h3M1300.6 276.28h5.5M1300.6 260.29h3M1300.6 244.3h3M1300.6 228.31h3M1300.6 212.32h5.5M1300.6 196.32h3M1300.6 180.33h3M1300.6 164.34h3" stroke="#bbb" stroke-width="1" fill="none"/>
<text x="1310.6" y="481.68" font-size="39" text-anchor="start" fill="#666" font-weight="bold">0.3</text>
<text x="1310.6" y="417.72" font-size="39" text-anchor="start" fill="#666" font-weight="bold">0.4</text>
<text x="1310.6" y="353.75" font-size="39" text-anchor="start" fill="#666" font-weight="bold">0.5</text>
<text x="1310.6" y="289.78" font-size="39" text-anchor="start" fill="#666" font-weight="bold">0.6</text>
<text x="1310.6" y="225.82" font-size="39" text-anchor="start" fill="#666" font-weight="bold">0.7</text>
<text x="1025.7" y="63.8" text-anchor="middle" font-weight="bold"><tspan font-size="39.3" font-style="italic">E</tspan><tspan font-size="26.3" dy="6.5">bm</tspan></text>
<text x="1025.7" y="620.6" text-anchor="middle" font-weight="bold"><tspan font-size="40">Δ</tspan><tspan font-size="27" dy="6.5">1</tspan><tspan font-size="40" dy="-6.5">/</tspan><tspan font-size="40" font-style="italic">ω</tspan><tspan font-size="27" font-style="italic" dy="6.5">b</tspan></text>
<text x="734.4" y="302.7" text-anchor="middle" font-weight="bold" transform="rotate(-90 734.4 302.7)"><tspan font-size="40">Δ</tspan><tspan font-size="27" dy="6.5">2</tspan><tspan font-size="40" dy="-6.5">/</tspan><tspan font-size="40" font-style="italic">ω</tspan><tspan font-size="27" font-style="italic" dy="6.5">b</tspan></text>
<rect x="813.1" y="90.2" width="212.8" height="425.8" fill="#00ff00" stroke="#5a7db9" stroke-width="2.2"/>
<rect x="833.2" y="276.1" width="173.5" height="40.4" fill="#fff"/>
<text x="919.2" y="307.5" font-size="38" text-anchor="middle" font-weight="bold" textLength="170" lengthAdjust="spacingAndGlyphs">Instability</text>
<rect x="1131.1" y="104.1" width="103.4" height="63.9" fill="#fff"/>
<text x="1182.8" y="155.1" font-size="55" text-anchor="middle" fill="#000" font-weight="bold">(b1)</text>
<rect x="1493.6" y="106.3" width="417" height="418.1" fill="none" stroke="#7a7a7a" stroke-width="1"/>
<path d="M1501.7 524.4v-6M1501.7 106.3v6M1521.71 524.4v-3.3M1521.71 106.3v3.3M1541.72 524.4v-3.3M1541.72 106.3v3.3M1561.73 524.4v-3.3M1561.73 106.3v3.3M1581.74 524.4v-6M1581.74 106.3v6M1601.75 524.4v-3.3M1601.75 106.3v3.3M1621.76 524.4v-3.3M1621.76 106.3v3.3M1641.77 524.4v-3.3M1641.77 106.3v3.3M1661.78 524.4v-6M1661.78 106.3v6M1681.79 524.4v-3.3M1681.79 106.3v3.3M1701.8 524.4v-3.3M1701.8 106.3v3.3M1721.81 524.4v-3.3M1721.81 106.3v3.3M1741.82 524.4v-6M1741.82 106.3v6M1761.83 524.4v-3.3M1761.83 106.3v3.3M1781.84 524.4v-3.3M1781.84 106.3v3.3M1801.85 524.4v-3.3M1801.85 106.3v3.3M1821.86 524.4v-6M1821.86 106.3v6M1841.87 524.4v-3.3M1841.87 106.3v3.3M1861.88 524.4v-3.3M1861.88 106.3v3.3M1881.89 524.4v-3.3M1881.89 106.3v3.3M1901.9 524.4v-6M1901.9 106.3v6M1493.6 516h6M1910.6 516h-6M1493.6 502.63h3.3M1910.6 502.63h-3.3M1493.6 489.27h3.3M1910.6 489.27h-3.3M1493.6 475.9h3.3M1910.6 475.9h-3.3M1493.6 462.53h3.3M1910.6 462.53h-3.3M1493.6 449.17h6M1910.6 449.17h-6M1493.6 435.8h3.3M1910.6 435.8h-3.3M1493.6 422.43h3.3M1910.6 422.43h-3.3M1493.6 409.07h3.3M1910.6 409.07h-3.3M1493.6 395.7h3.3M1910.6 395.7h-3.3M1493.6 382.33h6M1910.6 382.33h-6M1493.6 368.97h3.3M1910.6 368.97h-3.3M1493.6 355.6h3.3M1910.6 355.6h-3.3M1493.6 342.23h3.3M1910.6 342.23h-3.3M1493.6 328.87h3.3M1910.6 328.87h-3.3M1493.6 315.5h6M1910.6 315.5h-6M1493.6 302.13h3.3M1910.6 302.13h-3.3M1493.6 288.77h3.3M1910.6 288.77h-3.3M1493.6 275.4h3.3M1910.6 275.4h-3.3M1493.6 262.03h3.3M1910.6 262.03h-3.3M1493.6 248.67h6M1910.6 248.67h-6M1493.6 235.3h3.3M1910.6 235.3h-3.3M1493.6 221.93h3.3M1910.6 221.93h-3.3M1493.6 208.57h3.3M1910.6 208.57h-3.3M1493.6 195.2h3.3M1910.6 195.2h-3.3M1493.6 181.83h6M1910.6 181.83h-6M1493.6 168.47h3.3M1910.6 168.47h-3.3M1493.6 155.1h3.3M1910.6 155.1h-3.3M1493.6 141.73h3.3M1910.6 141.73h-3.3M1493.6 128.37h3.3M1910.6 128.37h-3.3M1493.6 115h6M1910.6 115h-6" stroke="#7a7a7a" stroke-width="1" fill="none"/>
<text x="1501.7" y="565.4" font-size="39" text-anchor="middle" fill="#000" font-weight="bold">0.0</text>
<text x="1581.74" y="565.4" font-size="39" text-anchor="middle" fill="#000" font-weight="bold">0.2</text>
<text x="1661.78" y="565.4" font-size="39" text-anchor="middle" fill="#000" font-weight="bold">0.4</text>
<text x="1741.82" y="565.4" font-size="39" text-anchor="middle" fill="#000" font-weight="bold">0.6</text>
<text x="1821.86" y="565.4" font-size="39" text-anchor="middle" fill="#000" font-weight="bold">0.8</text>
<text x="1901.9" y="565.4" font-size="39" text-anchor="middle" fill="#000" font-weight="bold">1.0</text>
<text x="1486.9" y="529.5" font-size="39" text-anchor="end" fill="#000" font-weight="bold">0.0</text>
<text x="1486.9" y="462.67" font-size="39" text-anchor="end" fill="#000" font-weight="bold">0.5</text>
<text x="1486.9" y="395.83" font-size="39" text-anchor="end" fill="#000" font-weight="bold">1.0</text>
<text x="1486.9" y="329" font-size="39" text-anchor="end" fill="#000" font-weight="bold">1.5</text>
<text x="1486.9" y="262.17" font-size="39" text-anchor="end" fill="#000" font-weight="bold">2.0</text>
<text x="1486.9" y="195.33" font-size="39" text-anchor="end" fill="#000" font-weight="bold">2.5</text>
<text x="1486.9" y="128.5" font-size="39" text-anchor="end" fill="#000" font-weight="bold">3.0</text>
<linearGradient id="cbc1" x1="0" y1="1" x2="0" y2="0"><stop offset="0" stop-color="#781c86"/><stop offset="0.12" stop-color="#4828be"/><stop offset="0.25" stop-color="#416cd2"/><stop offset="0.38" stop-color="#4e98b2"/><stop offset="0.5" stop-color="#70b682"/><stop offset="0.62" stop-color="#a8be50"/><stop offset="0.75" stop-color="#d6b03e"/><stop offset="0.88" stop-color="#e67e32"/><stop offset="1" stop-color="#da2824"/></linearGradient>
<rect x="1960.7" y="191.6" width="19.9" height="298.3" fill="url(#cbc1)"/>
<path d="M1980.6 488.13h5.5M1980.6 473.43h3M1980.6 458.72h3M1980.6 444.01h3M1980.6 429.3h5.5M1980.6 414.59h3M1980.6 399.88h3M1980.6 385.17h3M1980.6 370.46h5.5M1980.6 355.75h3M1980.6 341.04h3M1980.6 326.34h3M1980.6 311.63h5.5M1980.6 296.92h3M1980.6 282.21h3M1980.6 267.5h3M1980.6 252.79h5.5M1980.6 238.08h3M1980.6 223.37h3M1980.6 208.66h3M1980.6 193.95h5.5" stroke="#bbb" stroke-width="1" fill="none"/>
<text x="1990.6" y="501.63" font-size="39" text-anchor="start" fill="#666" font-weight="bold">0</text>
<text x="1990.6" y="442.8" font-size="39" text-anchor="start" fill="#666" font-weight="bold">0.2</text>
<text x="1990.6" y="383.96" font-size="39" text-anchor="start" fill="#666" font-weight="bold">0.4</text>
<text x="1990.6" y="325.13" font-size="39" text-anchor="start" fill="#666" font-weight="bold">0.6</text>
<text x="1990.6" y="266.29" font-size="39" text-anchor="start" fill="#666" font-weight="bold">0.8</text>
<text x="1990.6" y="207.45" font-size="39" text-anchor="start" fill="#666" font-weight="bold">1.0</text>
<text x="1702.1" y="88.8" text-anchor="middle" font-weight="bold"><tspan font-size="39.3" font-style="italic">E</tspan><tspan font-size="26.3" dy="6.5">bm</tspan></text>
<text x="1702.1" y="620.6" text-anchor="middle" font-weight="bold"><tspan font-size="40" font-style="italic">g</tspan><tspan font-size="27" dy="6.5">ab</tspan><tspan font-size="40" dy="-6.5">/</tspan><tspan font-size="40" font-style="italic">ω</tspan><tspan font-size="27" font-style="italic" dy="6.5">b</tspan></text>
<text x="1415.9" y="315.5" text-anchor="middle" font-weight="bold" transform="rotate(-90 1415.9 315.5)"><tspan font-size="28" font-style="italic">g</tspan><tspan font-size="27" dy="6.5">am</tspan><tspan font-size="40" dy="-6.5">/</tspan><tspan font-size="40" font-style="italic">ω</tspan><tspan font-size="27" font-style="italic" dy="6.5">b</tspan></text>
<rect x="1790.8" y="125.2" width="100.2" height="63.5" fill="#fff"/>
<text x="1840.9" y="176.2" font-size="55" text-anchor="middle" fill="#000" font-weight="bold">(c1)</text>
<rect x="115.5" y="695.5" width="443.8" height="445.1" fill="none" stroke="#7a7a7a" stroke-width="1"/>
<path d="M124.1 1140.6v-6M124.1 695.5v6M138.33 1140.6v-3.3M138.33 695.5v3.3M152.55 1140.6v-3.3M152.55 695.5v3.3M166.78 1140.6v-3.3M166.78 695.5v3.3M181.01 1140.6v-3.3M181.01 695.5v3.3M195.23 1140.6v-6M195.23 695.5v6M209.46 1140.6v-3.3M209.46 695.5v3.3M223.69 1140.6v-3.3M223.69 695.5v3.3M237.91 1140.6v-3.3M237.91 695.5v3.3M252.14 1140.6v-3.3M252.14 695.5v3.3M266.37 1140.6v-6M266.37 695.5v6M280.59 1140.6v-3.3M280.59 695.5v3.3M294.82 1140.6v-3.3M294.82 695.5v3.3M309.05 1140.6v-3.3M309.05 695.5v3.3M323.27 1140.6v-3.3M323.27 695.5v3.3M337.5 1140.6v-6M337.5 695.5v6M351.73 1140.6v-3.3M351.73 695.5v3.3M365.95 1140.6v-3.3M365.95 695.5v3.3M380.18 1140.6v-3.3M380.18 695.5v3.3M394.41 1140.6v-3.3M394.41 695.5v3.3M408.63 1140.6v-6M408.63 695.5v6M422.86 1140.6v-3.3M422.86 695.5v3.3M437.09 1140.6v-3.3M437.09 695.5v3.3M451.31 1140.6v-3.3M451.31 695.5v3.3M465.54 1140.6v-3.3M465.54 695.5v3.3M479.77 1140.6v-6M479.77 695.5v6M493.99 1140.6v-3.3M493.99 695.5v3.3M508.22 1140.6v-3.3M508.22 695.5v3.3M522.45 1140.6v-3.3M522.45 695.5v3.3M536.67 1140.6v-3.3M536.67 695.5v3.3M550.9 1140.6v-6M550.9 695.5v6M115.5 1131.8h3.3M559.3 1131.8h-3.3M115.5 1117.04h3.3M559.3 1117.04h-3.3M115.5 1102.29h3.3M559.3 1102.29h-3.3M115.5 1087.53h6M559.3 1087.53h-6M115.5 1072.78h3.3M559.3 1072.78h-3.3M115.5 1058.02h3.3M559.3 1058.02h-3.3M115.5 1043.27h3.3M559.3 1043.27h-3.3M115.5 1028.51h6M559.3 1028.51h-6M115.5 1013.76h3.3M559.3 1013.76h-3.3M115.5 999h3.3M559.3 999h-3.3M115.5 984.25h3.3M559.3 984.25h-3.3M115.5 969.49h6M559.3 969.49h-6M115.5 954.74h3.3M559.3 954.74h-3.3M115.5 939.98h3.3M559.3 939.98h-3.3M115.5 925.23h3.3M559.3 925.23h-3.3M115.5 910.47h6M559.3 910.47h-6M115.5 895.72h3.3M559.3 895.72h-3.3M115.5 880.96h3.3M559.3 880.96h-3.3M115.5 866.21h3.3M559.3 866.21h-3.3M115.5 851.45h6M559.3 851.45h-6M115.5 836.7h3.3M559.3 836.7h-3.3M115.5 821.94h3.3M559.3 821.94h-3.3M115.5 807.19h3.3M559.3 807.19h-3.3M115.5 792.43h6M559.3 792.43h-6M115.5 777.68h3.3M559.3 777.68h-3.3M115.5 762.92h3.3M559.3 762.92h-3.3M115.5 748.17h3.3M559.3 748.17h-3.3M115.5 733.41h6M559.3 733.41h-6M115.5 718.66h3.3M559.3 718.66h-3.3M115.5 703.9h3.3M559.3 703.9h-3.3" stroke="#7a7a7a" stroke-width="1" fill="none"/>
<text x="124.1" y="1181.6" font-size="39" text-anchor="middle" fill="#000" font-weight="bold">−3</text>
<text x="195.23" y="1181.6" font-size="39" text-anchor="middle" fill="#000" font-weight="bold">−2</text>
<text x="266.37" y="1181.6" font-size="39" text-anchor="middle" fill="#000" font-weight="bold">−1</text>
<text x="337.5" y="1181.6" font-size="39" text-anchor="middle" fill="#000" font-weight="bold">0</text>
<text x="408.63" y="1181.6" font-size="39" text-anchor="middle" fill="#000" font-weight="bold">1</text>
<text x="479.77" y="1181.6" font-size="39" text-anchor="middle" fill="#000" font-weight="bold">2</text>
<text x="550.9" y="1181.6" font-size="39" text-anchor="middle" fill="#000" font-weight="bold">3</text>
<text x="108.8" y="1101.03" font-size="39" text-anchor="end" fill="#000" font-weight="bold">2</text>
<text x="108.8" y="1042.01" font-size="39" text-anchor="end" fill="#000" font-weight="bold">4</text>
<text x="108.8" y="982.99" font-size="39" text-anchor="end" fill="#000" font-weight="bold">6</text>
<text x="108.8" y="923.97" font-size="39" text-anchor="end" fill="#000" font-weight="bold">8</text>
<text x="108.8" y="864.95" font-size="39" text-anchor="end" fill="#000" font-weight="bold">10</text>
<text x="108.8" y="805.93" font-size="39" text-anchor="end" fill="#000" font-weight="bold">12</text>
<text x="108.8" y="746.91" font-size="39" text-anchor="end" fill="#000" font-weight="bold">14</text>
<linearGradient id="cba2" x1="0" y1="1" x2="0" y2="0"><stop offset="0" stop-color="#781c86"/><stop offset="0.12" stop-color="#4828be"/><stop offset="0.25" stop-color="#416cd2"/><stop offset="0.38" stop-color="#4e98b2"/><stop offset="0.5" stop-color="#70b682"/><stop offset="0.62" stop-color="#a8be50"/><stop offset="0.75" stop-color="#d6b03e"/><stop offset="0.88" stop-color="#e67e32"/><stop offset="1" stop-color="#da2824"/></linearGradient>
<rect x="593.3" y="778.6" width="21.1" height="313.9" fill="url(#cba2)"/>
<path d="M614.4 1079.07h3M614.4 1060.93h3M614.4 1042.78h3M614.4 1024.64h5.5M614.4 1006.5h3M614.4 988.35h3M614.4 970.21h3M614.4 952.06h5.5M614.4 933.92h3M614.4 915.77h3M614.4 897.63h3M614.4 879.48h5.5M614.4 861.34h3M614.4 843.19h3M614.4 825.05h3M614.4 806.91h5.5M614.4 788.76h3" stroke="#bbb" stroke-width="1" fill="none"/>
<text x="624.4" y="1038.14" font-size="39" text-anchor="start" fill="#666" font-weight="bold">0.2</text>
<text x="624.4" y="965.56" font-size="39" text-anchor="start" fill="#666" font-weight="bold">0.4</text>
<text x="624.4" y="892.98" font-size="39" text-anchor="start" fill="#666" font-weight="bold">0.6</text>
<text x="624.4" y="820.41" font-size="39" text-anchor="start" fill="#666" font-weight="bold">0.8</text>
<text x="336.6" y="678" text-anchor="middle" font-weight="bold"><tspan font-size="39.3" font-style="italic">E</tspan><tspan font-size="26.3" dy="6.5">bm</tspan></text>
<text x="337" y="1236.9" text-anchor="middle" font-weight="bold"><tspan font-size="40">Δ</tspan><tspan font-size="27" font-style="italic" dy="6.5">m</tspan><tspan font-size="40" dy="-6.5">/</tspan><tspan font-size="40" font-style="italic">ω</tspan><tspan font-size="27" font-style="italic" dy="6.5">b</tspan></text>
<text x="48.2" y="918" text-anchor="middle" font-weight="bold" transform="rotate(-90 48.2 918)"><tspan font-size="40" font-style="italic">κ</tspan><tspan font-size="40">/</tspan><tspan font-size="40" font-style="italic">ω</tspan><tspan font-size="27" font-style="italic" dy="6.5">b</tspan></text>
<rect x="440.9" y="716.9" width="99.8" height="62.8" fill="#fff"/>
<text x="490.8" y="767.9" font-size="55" text-anchor="middle" fill="#000" font-weight="bold">(a2)</text>
<rect x="804.5" y="697.3" width="442.4" height="443.1" fill="none" stroke="#7a7a7a" stroke-width="1"/>
<path d="M813.6 1140.4v-3.3M813.6 697.3v3.3M834.79 1140.4v-3.3M834.79 697.3v3.3M855.98 1140.4v-6M855.98 697.3v6M877.17 1140.4v-3.3M877.17 697.3v3.3M898.36 1140.4v-3.3M898.36 697.3v3.3M919.55 1140.4v-3.3M919.55 697.3v3.3M940.74 1140.4v-6M940.74 697.3v6M961.93 1140.4v-3.3M961.93 697.3v3.3M983.12 1140.4v-3.3M983.12 697.3v3.3M1004.31 1140.4v-3.3M1004.31 697.3v3.3M1025.5 1140.4v-6M1025.5 697.3v6M1046.69 1140.4v-3.3M1046.69 697.3v3.3M1067.88 1140.4v-3.3M1067.88 697.3v3.3M1089.07 1140.4v-3.3M1089.07 697.3v3.3M1110.26 1140.4v-6M1110.26 697.3v6M1131.45 1140.4v-3.3M1131.45 697.3v3.3M1152.64 1140.4v-3.3M1152.64 697.3v3.3M1173.83 1140.4v-3.3M1173.83 697.3v3.3M1195.02 1140.4v-6M1195.02 697.3v6M1216.21 1140.4v-3.3M1216.21 697.3v3.3M1237.4 1140.4v-3.3M1237.4 697.3v3.3M804.5 1131.7h3.3M1246.9 1131.7h-3.3M804.5 1110.41h3.3M1246.9 1110.41h-3.3M804.5 1089.13h6M1246.9 1089.13h-6M804.5 1067.85h3.3M1246.9 1067.85h-3.3M804.5 1046.56h3.3M1246.9 1046.56h-3.3M804.5 1025.28h3.3M1246.9 1025.28h-3.3M804.5 1003.99h6M1246.9 1003.99h-6M804.5 982.71h3.3M1246.9 982.71h-3.3M804.5 961.42h3.3M1246.9 961.42h-3.3M804.5 940.13h3.3M1246.9 940.13h-3.3M804.5 918.85h6M1246.9 918.85h-6M804.5 897.57h3.3M1246.9 897.57h-3.3M804.5 876.28h3.3M1246.9 876.28h-3.3M804.5 855h3.3M1246.9 855h-3.3M804.5 833.71h6M1246.9 833.71h-6M804.5 812.42h3.3M1246.9 812.42h-3.3M804.5 791.14h3.3M1246.9 791.14h-3.3M804.5 769.86h3.3M1246.9 769.86h-3.3M804.5 748.57h6M1246.9 748.57h-6M804.5 727.29h3.3M1246.9 727.29h-3.3M804.5 706h3.3M1246.9 706h-3.3" stroke="#7a7a7a" stroke-width="1" fill="none"/>
<text x="855.98" y="1181.4" font-size="39" text-anchor="middle" fill="#000" font-weight="bold">−4</text>
<text x="940.74" y="1181.4" font-size="39" text-anchor="middle" fill="#000" font-weight="bold">−2</text>
<text x="1025.5" y="1181.4" font-size="39" text-anchor="middle" fill="#000" font-weight="bold">0</text>
<text x="1110.26" y="1181.4" font-size="39" text-anchor="middle" fill="#000" font-weight="bold">2</text>
<text x="1195.02" y="1181.4" font-size="39" text-anchor="middle" fill="#000" font-weight="bold">4</text>
<text x="797.8" y="1102.63" font-size="39" text-anchor="end" fill="#000" font-weight="bold">−4</text>
<text x="797.8" y="1017.49" font-size="39" text-anchor="end" fill="#000" font-weight="bold">−2</text>
<text x="797.8" y="932.35" font-size="39" text-anchor="end" fill="#000" font-weight="bold">0</text>
<text x="797.8" y="847.21" font-size="39" text-anchor="end" fill="#000" font-weight="bold">2</text>
<text x="797.8" y="762.07" font-size="39" text-anchor="end" fill="#000" font-weight="bold">4</text>
<linearGradient id="cbb2" x1="0" y1="1" x2="0" y2="0"><stop offset="0" stop-color="#781c86"/><stop offset="0.12" stop-color="#4828be"/><stop offset="0.25" stop-color="#416cd2"/><stop offset="0.38" stop-color="#4e98b2"/><stop offset="0.5" stop-color="#70b682"/><stop offset="0.62" stop-color="#a8be50"/><stop offset="0.75" stop-color="#d6b03e"/><stop offset="0.88" stop-color="#e67e32"/><stop offset="1" stop-color="#da2824"/></linearGradient>
<rect x="1281.3" y="786.2" width="19.3" height="298.3" fill="url(#cbb2)"/>
<path d="M1300.6 1079.6h3M1300.6 1064.77h3M1300.6 1049.94h3M1300.6 1035.1h3M1300.6 1020.27h5.5M1300.6 1005.44h3M1300.6 990.6h3M1300.6 975.77h3M1300.6 960.94h3M1300.6 946.1h5.5M1300.6 931.27h3M1300.6 916.44h3M1300.6 901.6h3M1300.6 886.77h3M1300.6 871.94h5.5M1300.6 857.1h3M1300.6 842.27h3M1300.6 827.44h3M1300.6 812.6h3M1300.6 797.77h5.5" stroke="#bbb" stroke-width="1" fill="none"/>
<text x="1310.6" y="1033.77" font-size="39" text-anchor="start" fill="#666" font-weight="bold">0.60</text>
<text x="1310.6" y="959.6" font-size="39" text-anchor="start" fill="#666" font-weight="bold">0.65</text>
<text x="1310.6" y="885.44" font-size="39" text-anchor="start" fill="#666" font-weight="bold">0.70</text>
<text x="1310.6" y="811.27" font-size="39" text-anchor="start" fill="#666" font-weight="bold">0.75</text>
<text x="1025.7" y="679.8" text-anchor="middle" font-weight="bold"><tspan font-size="39.3" font-style="italic">E</tspan><tspan font-size="26.3" dy="6.5">bm</tspan></text>
<text x="1025.7" y="1236.6" text-anchor="middle" font-weight="bold"><tspan font-size="40">Δ</tspan><tspan font-size="27" dy="6.5">1</tspan><tspan font-size="40" dy="-6.5">/</tspan><tspan font-size="40" font-style="italic">ω</tspan><tspan font-size="27" font-style="italic" dy="6.5">b</tspan></text>
<text x="734.4" y="918.9" text-anchor="middle" font-weight="bold" transform="rotate(-90 734.4 918.9)"><tspan font-size="40">Δ</tspan><tspan font-size="27" dy="6.5">2</tspan><tspan font-size="40" dy="-6.5">/</tspan><tspan font-size="40" font-style="italic">ω</tspan><tspan font-size="27" font-style="italic" dy="6.5">b</tspan></text>
<rect x="1120.9" y="712.5" width="102.7" height="63.5" fill="#fff"/>
<text x="1172.25" y="763.5" font-size="55" text-anchor="middle" fill="#000" font-weight="bold">(b2)</text>
<rect x="1514.7" y="722.7" width="417.3" height="418" fill="none" stroke="#7a7a7a" stroke-width="1"/>
<path d="M1522.7 1140.7v-6M1522.7 722.7v6M1542.75 1140.7v-3.3M1542.75 722.7v3.3M1562.79 1140.7v-3.3M1562.79 722.7v3.3M1582.84 1140.7v-3.3M1582.84 722.7v3.3M1602.88 1140.7v-6M1602.88 722.7v6M1622.92 1140.7v-3.3M1622.92 722.7v3.3M1642.97 1140.7v-3.3M1642.97 722.7v3.3M1663.02 1140.7v-3.3M1663.02 722.7v3.3M1683.06 1140.7v-6M1683.06 722.7v6M1703.11 1140.7v-3.3M1703.11 722.7v3.3M1723.15 1140.7v-3.3M1723.15 722.7v3.3M1743.19 1140.7v-3.3M1743.19 722.7v3.3M1763.24 1140.7v-6M1763.24 722.7v6M1783.28 1140.7v-3.3M1783.28 722.7v3.3M1803.33 1140.7v-3.3M1803.33 722.7v3.3M1823.38 1140.7v-3.3M1823.38 722.7v3.3M1843.42 1140.7v-6M1843.42 722.7v6M1863.46 1140.7v-3.3M1863.46 722.7v3.3M1883.51 1140.7v-3.3M1883.51 722.7v3.3M1903.55 1140.7v-3.3M1903.55 722.7v3.3M1923.6 1140.7v-6M1923.6 722.7v6M1514.7 1132h6M1932 1132h-6M1514.7 1118.62h3.3M1932 1118.62h-3.3M1514.7 1105.25h3.3M1932 1105.25h-3.3M1514.7 1091.87h3.3M1932 1091.87h-3.3M1514.7 1078.49h3.3M1932 1078.49h-3.3M1514.7 1065.12h6M1932 1065.12h-6M1514.7 1051.74h3.3M1932 1051.74h-3.3M1514.7 1038.36h3.3M1932 1038.36h-3.3M1514.7 1024.99h3.3M1932 1024.99h-3.3M1514.7 1011.61h3.3M1932 1011.61h-3.3M1514.7 998.23h6M1932 998.23h-6M1514.7 984.86h3.3M1932 984.86h-3.3M1514.7 971.48h3.3M1932 971.48h-3.3M1514.7 958.1h3.3M1932 958.1h-3.3M1514.7 944.73h3.3M1932 944.73h-3.3M1514.7 931.35h6M1932 931.35h-6M1514.7 917.97h3.3M1932 917.97h-3.3M1514.7 904.6h3.3M1932 904.6h-3.3M1514.7 891.22h3.3M1932 891.22h-3.3M1514.7 877.84h3.3M1932 877.84h-3.3M1514.7 864.47h6M1932 864.47h-6M1514.7 851.09h3.3M1932 851.09h-3.3M1514.7 837.71h3.3M1932 837.71h-3.3M1514.7 824.34h3.3M1932 824.34h-3.3M1514.7 810.96h3.3M1932 810.96h-3.3M1514.7 797.58h6M1932 797.58h-6M1514.7 784.21h3.3M1932 784.21h-3.3M1514.7 770.83h3.3M1932 770.83h-3.3M1514.7 757.45h3.3M1932 757.45h-3.3M1514.7 744.08h3.3M1932 744.08h-3.3M1514.7 730.7h6M1932 730.7h-6" stroke="#7a7a7a" stroke-width="1" fill="none"/>
<text x="1522.7" y="1181.7" font-size="39" text-anchor="middle" fill="#000" font-weight="bold">0.0</text>
<text x="1602.88" y="1181.7" font-size="39" text-anchor="middle" fill="#000" font-weight="bold">0.2</text>
<text x="1683.06" y="1181.7" font-size="39" text-anchor="middle" fill="#000" font-weight="bold">0.4</text>
<text x="1763.24" y="1181.7" font-size="39" text-anchor="middle" fill="#000" font-weight="bold">0.6</text>
<text x="1843.42" y="1181.7" font-size="39" text-anchor="middle" fill="#000" font-weight="bold">0.8</text>
<text x="1923.6" y="1181.7" font-size="39" text-anchor="middle" fill="#000" font-weight="bold">1.0</text>
<text x="1508" y="1145.5" font-size="39" text-anchor="end" fill="#000" font-weight="bold">0.0</text>
<text x="1508" y="1078.62" font-size="39" text-anchor="end" fill="#000" font-weight="bold">0.5</text>
<text x="1508" y="1011.73" font-size="39" text-anchor="end" fill="#000" font-weight="bold">1.0</text>
<text x="1508" y="944.85" font-size="39" text-anchor="end" fill="#000" font-weight="bold">1.5</text>
<text x="1508" y="877.97" font-size="39" text-anchor="end" fill="#000" font-weight="bold">2.0</text>
<text x="1508" y="811.08" font-size="39" text-anchor="end" fill="#000" font-weight="bold">2.5</text>
<text x="1508" y="744.2" font-size="39" text-anchor="end" fill="#000" font-weight="bold">3.0</text>
<linearGradient id="cbc2" x1="0" y1="1" x2="0" y2="0"><stop offset="0" stop-color="#781c86"/><stop offset="0.12" stop-color="#4828be"/><stop offset="0.25" stop-color="#416cd2"/><stop offset="0.38" stop-color="#4e98b2"/><stop offset="0.5" stop-color="#70b682"/><stop offset="0.62" stop-color="#a8be50"/><stop offset="0.75" stop-color="#d6b03e"/><stop offset="0.88" stop-color="#e67e32"/><stop offset="1" stop-color="#da2824"/></linearGradient>
<rect x="1981.7" y="792.4" width="21.4" height="313.9" fill="url(#cbc2)"/>
<path d="M2003.1 1106.3h5.5M2003.1 1092.24h3M2003.1 1078.17h3M2003.1 1064.11h3M2003.1 1050.05h5.5M2003.1 1035.98h3M2003.1 1021.92h3M2003.1 1007.85h3M2003.1 993.79h5.5M2003.1 979.73h3M2003.1 965.66h3M2003.1 951.6h3M2003.1 937.54h5.5M2003.1 923.47h3M2003.1 909.41h3M2003.1 895.35h3M2003.1 881.28h5.5M2003.1 867.22h3M2003.1 853.15h3M2003.1 839.09h3M2003.1 825.03h5.5M2003.1 810.96h3M2003.1 796.9h3" stroke="#bbb" stroke-width="1" fill="none"/>
<text x="2013.1" y="1119.8" font-size="39" text-anchor="start" fill="#666" font-weight="bold">0</text>
<text x="2013.1" y="1063.55" font-size="39" text-anchor="start" fill="#666" font-weight="bold">0.2</text>
<text x="2013.1" y="1007.29" font-size="39" text-anchor="start" fill="#666" font-weight="bold">0.4</text>
<text x="2013.1" y="951.04" font-size="39" text-anchor="start" fill="#666" font-weight="bold">0.6</text>
<text x="2013.1" y="894.78" font-size="39" text-anchor="start" fill="#666" font-weight="bold">0.8</text>
<text x="2013.1" y="838.53" font-size="39" text-anchor="start" fill="#666" font-weight="bold">1.0</text>
<text x="1723.4" y="705.2" text-anchor="middle" font-weight="bold"><tspan font-size="39.3" font-style="italic">E</tspan><tspan font-size="26.3" dy="6.5">bm</tspan></text>
<text x="1723.4" y="1236.9" text-anchor="middle" font-weight="bold"><tspan font-size="40" font-style="italic">g</tspan><tspan font-size="27" dy="6.5">ab</tspan><tspan font-size="40" dy="-6.5">/</tspan><tspan font-size="40" font-style="italic">ω</tspan><tspan font-size="27" font-style="italic" dy="6.5">b</tspan></text>
<text x="1436.9" y="931.4" text-anchor="middle" font-weight="bold" transform="rotate(-90 1436.9 931.4)"><tspan font-size="40" font-style="italic">g</tspan><tspan font-size="27" dy="6.5">am</tspan><tspan font-size="40" dy="-6.5">/</tspan><tspan font-size="40" font-style="italic">ω</tspan><tspan font-size="27" font-style="italic" dy="6.5">b</tspan></text>
<rect x="1807.5" y="744.1" width="99.8" height="63.9" fill="#fff"/>
<text x="1857.4" y="795.1" font-size="55" text-anchor="middle" fill="#000" font-weight="bold">(c2)</text>
<clipPath id="clipa3"><rect x="127.2" y="1257.8" width="493.4" height="379.6"/></clipPath>
<path d="M136.2,1584.2 L152.6,1535.56 L169,1488.44 L185.4,1447.4 L201.8,1410.54 L218.2,1380.52 L234.6,1355.82 L251,1338.72 L267.4,1323.52 L283.8,1312.88 L300.2,1305.28 L316.6,1300.72 L333,1298.82 L349.4,1298.06 L365.8,1298.06 L382.2,1299.2 L398.6,1300.72 L415,1303.38 L431.4,1306.42 L447.8,1309.84 L464.2,1313.64 L480.6,1317.44 L497,1321.62 L513.4,1326.18 L529.8,1330.36 L546.2,1334.54 L562.6,1339.1 L579,1343.28 L595.4,1346.7 L611.8,1350.5" fill="none" stroke="#5b80bd" stroke-width="3" stroke-linejoin="round" stroke-dasharray="8.8 4.2" clip-path="url(#clipa3)"/>
<path d="M136.2,1629.8 L152.6,1601.3 L169,1532.52 L185.4,1480.84 L201.8,1437.52 L218.2,1404.46 L234.6,1379.38 L251,1361.14 L267.4,1347.08 L283.8,1337.58 L300.2,1331.12 L316.6,1327.32 L333,1325.42 L349.4,1325.04 L365.8,1325.8 L382.2,1327.7 L398.6,1330.74 L415,1333.78 L431.4,1337.58 L447.8,1341.76 L464.2,1346.32 L480.6,1350.88 L497,1355.44 L513.4,1360 L529.8,1364.56 L546.2,1368.74 L562.6,1373.3 L579,1378.24 L595.4,1382.8 L611.8,1387.36" fill="none" stroke="#e19c24" stroke-width="3" stroke-linejoin="round" clip-path="url(#clipa3)"/>
<path d="M136.2 1637.4v-4.5M136.2 1257.8v4.5M152.6 1637.4v-4.5M152.6 1257.8v4.5M169 1637.4v-4.5M169 1257.8v4.5M185.4 1637.4v-7M185.4 1257.8v7M201.8 1637.4v-4.5M201.8 1257.8v4.5M218.2 1637.4v-4.5M218.2 1257.8v4.5M234.6 1637.4v-4.5M234.6 1257.8v4.5M251 1637.4v-7M251 1257.8v7M267.4 1637.4v-4.5M267.4 1257.8v4.5M283.8 1637.4v-4.5M283.8 1257.8v4.5M300.2 1637.4v-4.5M300.2 1257.8v4.5M316.6 1637.4v-7M316.6 1257.8v7M333 1637.4v-4.5M333 1257.8v4.5M349.4 1637.4v-4.5M349.4 1257.8v4.5M365.8 1637.4v-4.5M365.8 1257.8v4.5M382.2 1637.4v-7M382.2 1257.8v7M398.6 1637.4v-4.5M398.6 1257.8v4.5M415 1637.4v-4.5M415 1257.8v4.5M431.4 1637.4v-4.5M431.4 1257.8v4.5M447.8 1637.4v-7M447.8 1257.8v7M464.2 1637.4v-4.5M464.2 1257.8v4.5M480.6 1637.4v-4.5M480.6 1257.8v4.5M497 1637.4v-4.5M497 1257.8v4.5M513.4 1637.4v-7M513.4 1257.8v7M529.8 1637.4v-4.5M529.8 1257.8v4.5M546.2 1637.4v-4.5M546.2 1257.8v4.5M562.6 1637.4v-4.5M562.6 1257.8v4.5M579 1637.4v-7M579 1257.8v7M595.4 1637.4v-4.5M595.4 1257.8v4.5M611.8 1637.4v-4.5M611.8 1257.8v4.5M127.2 1629.8h7M620.6 1629.8h-7M127.2 1610.8h4.5M620.6 1610.8h-4.5M127.2 1591.8h4.5M620.6 1591.8h-4.5M127.2 1572.8h4.5M620.6 1572.8h-4.5M127.2 1553.8h7M620.6 1553.8h-7M127.2 1534.8h4.5M620.6 1534.8h-4.5M127.2 1515.8h4.5M620.6 1515.8h-4.5M127.2 1496.8h4.5M620.6 1496.8h-4.5M127.2 1477.8h7M620.6 1477.8h-7M127.2 1458.8h4.5M620.6 1458.8h-4.5M127.2 1439.8h4.5M620.6 1439.8h-4.5M127.2 1420.8h4.5M620.6 1420.8h-4.5M127.2 1401.8h7M620.6 1401.8h-7M127.2 1382.8h4.5M620.6 1382.8h-4.5M127.2 1363.8h4.5M620.6 1363.8h-4.5M127.2 1344.8h4.5M620.6 1344.8h-4.5M127.2 1325.8h7M620.6 1325.8h-7M127.2 1306.8h4.5M620.6 1306.8h-4.5M127.2 1287.8h4.5M620.6 1287.8h-4.5M127.2 1268.8h4.5M620.6 1268.8h-4.5" stroke="#000" stroke-width="3.4" fill="none"/>
<rect x="127.2" y="1257.8" width="493.4" height="379.6" fill="none" stroke="#000" stroke-width="3.8"/>
<text transform="translate(185.4 1680.9) scale(1 1.345)" font-size="29.5" text-anchor="middle" font-weight="bold">2</text>
<text transform="translate(251 1680.9) scale(1 1.345)" font-size="29.5" text-anchor="middle" font-weight="bold">4</text>
<text transform="translate(316.6 1680.9) scale(1 1.345)" font-size="29.5" text-anchor="middle" font-weight="bold">6</text>
<text transform="translate(382.2 1680.9) scale(1 1.345)" font-size="29.5" text-anchor="middle" font-weight="bold">8</text>
<text transform="translate(447.8 1680.9) scale(1 1.345)" font-size="29.5" text-anchor="middle" font-weight="bold">10</text>
<text transform="translate(513.4 1680.9) scale(1 1.345)" font-size="29.5" text-anchor="middle" font-weight="bold">12</text>
<text transform="translate(579 1680.9) scale(1 1.345)" font-size="29.5" text-anchor="middle" font-weight="bold">14</text>
<text transform="translate(121.2 1645.25) scale(1 1.345)" font-size="29.5" text-anchor="end" font-weight="bold">0.0</text>
<text transform="translate(121.2 1569.25) scale(1 1.345)" font-size="29.5" text-anchor="end" font-weight="bold">0.2</text>
<text transform="translate(121.2 1493.25) scale(1 1.345)" font-size="29.5" text-anchor="end" font-weight="bold">0.4</text>
<text transform="translate(121.2 1417.25) scale(1 1.345)" font-size="29.5" text-anchor="end" font-weight="bold">0.6</text>
<text transform="translate(121.2 1341.25) scale(1 1.345)" font-size="29.5" text-anchor="end" font-weight="bold">0.8</text>
<text transform="translate(375 1741) scale(1 1.2)" text-anchor="middle" font-weight="bold"><tspan font-size="41" font-style="italic">κ</tspan><tspan font-size="41">/</tspan><tspan font-size="41" font-style="italic">ω</tspan><tspan font-size="28" font-style="italic" dy="5">b</tspan></text>
<text transform="translate(61.8 1447.6) scale(1 1.28) rotate(-90)" text-anchor="middle" font-weight="bold"><tspan font-size="40" font-style="italic">E</tspan><tspan font-size="27" dy="7">bm</tspan></text>
<text transform="translate(578 1515.3) scale(1 1.28)" font-size="32" text-anchor="middle" font-weight="bold">(a3)</text>
<text transform="translate(568 1346) scale(1 1.36)" text-anchor="middle" font-weight="bold"><tspan font-size="31" font-style="italic">η</tspan><tspan font-size="31">=1</tspan></text>
<text transform="translate(571 1401) scale(1 1.36)" text-anchor="middle" font-weight="bold"><tspan font-size="31" font-style="italic">η</tspan><tspan font-size="31">=0</tspan></text>
<clipPath id="clipb3"><rect x="779.7" y="1259.8" width="494.8" height="379"/></clipPath>
<line x1="1026.5" y1="1259.8" x2="1026.5" y2="1638.8" stroke="#555" stroke-width="1"/>
<path d="M789.5,1473.36 L813.2,1436.09 L836.9,1399.67 L860.6,1369.18 L884.3,1342.92 L908,1321.74 L931.7,1306.5 L955.4,1296.33 L979.1,1291.25 L990.95,1290.4 L1002.8,1292.1 L1026.5,1298.88 L1050.2,1310.73 L1073.9,1326.83 L1097.6,1345.46 L1121.3,1367.48 L1145,1391.2 L1168.7,1414.91 L1192.4,1438.63 L1216.1,1462.35 L1239.8,1486.06 L1263.5,1510.62" fill="none" stroke="#5b80bd" stroke-width="3" stroke-linejoin="round" stroke-dasharray="8.8 4.2" clip-path="url(#clipb3)"/>
<path d="M1026.5,1388.66 L1039.3,1387.81 L1050.2,1389.5 L1063,1392.89 L1073.9,1397.13 L1095.23,1408.99 L1121.3,1428.47 L1145,1453.88 L1168.7,1481.83 L1192.4,1514.01 L1216.1,1546.2 L1239.8,1578.38 L1263.5,1612.27" fill="none" stroke="#e19c24" stroke-width="3" stroke-linejoin="round" clip-path="url(#clipb3)"/>
<path d="M789.5 1638.8v-4.5M789.5 1259.8v4.5M813.2 1638.8v-4.5M813.2 1259.8v4.5M836.9 1638.8v-7M836.9 1259.8v7M860.6 1638.8v-4.5M860.6 1259.8v4.5M884.3 1638.8v-4.5M884.3 1259.8v4.5M908 1638.8v-4.5M908 1259.8v4.5M931.7 1638.8v-7M931.7 1259.8v7M955.4 1638.8v-4.5M955.4 1259.8v4.5M979.1 1638.8v-4.5M979.1 1259.8v4.5M1002.8 1638.8v-4.5M1002.8 1259.8v4.5M1026.5 1638.8v-7M1026.5 1259.8v7M1050.2 1638.8v-4.5M1050.2 1259.8v4.5M1073.9 1638.8v-4.5M1073.9 1259.8v4.5M1097.6 1638.8v-4.5M1097.6 1259.8v4.5M1121.3 1638.8v-7M1121.3 1259.8v7M1145 1638.8v-4.5M1145 1259.8v4.5M1168.7 1638.8v-4.5M1168.7 1259.8v4.5M1192.4 1638.8v-4.5M1192.4 1259.8v4.5M1216.1 1638.8v-7M1216.1 1259.8v7M1239.8 1638.8v-4.5M1239.8 1259.8v4.5M1263.5 1638.8v-4.5M1263.5 1259.8v4.5M779.7 1633.44h4.5M1274.5 1633.44h-4.5M779.7 1616.5h7M1274.5 1616.5h-7M779.7 1599.56h4.5M1274.5 1599.56h-4.5M779.7 1582.62h4.5M1274.5 1582.62h-4.5M779.7 1565.68h4.5M1274.5 1565.68h-4.5M779.7 1548.74h4.5M1274.5 1548.74h-4.5M779.7 1531.8h7M1274.5 1531.8h-7M779.7 1514.86h4.5M1274.5 1514.86h-4.5M779.7 1497.92h4.5M1274.5 1497.92h-4.5M779.7 1480.98h4.5M1274.5 1480.98h-4.5M779.7 1464.04h4.5M1274.5 1464.04h-4.5M779.7 1447.1h7M1274.5 1447.1h-7M779.7 1430.16h4.5M1274.5 1430.16h-4.5M779.7 1413.22h4.5M1274.5 1413.22h-4.5M779.7 1396.28h4.5M1274.5 1396.28h-4.5M779.7 1379.34h4.5M1274.5 1379.34h-4.5M779.7 1362.4h7M1274.5 1362.4h-7M779.7 1345.46h4.5M1274.5 1345.46h-4.5M779.7 1328.52h4.5M1274.5 1328.52h-4.5M779.7 1311.58h4.5M1274.5 1311.58h-4.5M779.7 1294.64h4.5M1274.5 1294.64h-4.5M779.7 1277.7h7M1274.5 1277.7h-7" stroke="#000" stroke-width="3.4" fill="none"/>
<rect x="779.7" y="1259.8" width="494.8" height="379" fill="none" stroke="#000" stroke-width="3.8"/>
<text transform="translate(836.9 1682) scale(1 1.345)" font-size="29.5" text-anchor="middle" font-weight="bold">−4</text>
<text transform="translate(931.7 1682) scale(1 1.345)" font-size="29.5" text-anchor="middle" font-weight="bold">−2</text>
<text transform="translate(1026.5 1682) scale(1 1.345)" font-size="29.5" text-anchor="middle" font-weight="bold">0</text>
<text transform="translate(1121.3 1682) scale(1 1.345)" font-size="29.5" text-anchor="middle" font-weight="bold">2</text>
<text transform="translate(1216.1 1682) scale(1 1.345)" font-size="29.5" text-anchor="middle" font-weight="bold">4</text>
<text transform="translate(773.1 1631.95) scale(1 1.345)" font-size="29.5" text-anchor="end" font-weight="bold">0.5</text>
<text transform="translate(773.1 1547.25) scale(1 1.345)" font-size="29.5" text-anchor="end" font-weight="bold">0.6</text>
<text transform="translate(773.1 1462.55) scale(1 1.345)" font-size="29.5" text-anchor="end" font-weight="bold">0.7</text>
<text transform="translate(773.1 1377.85) scale(1 1.345)" font-size="29.5" text-anchor="end" font-weight="bold">0.8</text>
<text transform="translate(773.1 1293.15) scale(1 1.345)" font-size="29.5" text-anchor="end" font-weight="bold">0.9</text>
<text transform="translate(1027 1741) scale(1 1.2)" text-anchor="middle" font-weight="bold"><tspan font-size="41">Δ</tspan><tspan font-size="28" dy="5">1</tspan><tspan font-size="41" dy="-5">/</tspan><tspan font-size="41" font-style="italic">ω</tspan><tspan font-size="28" font-style="italic" dy="5">b</tspan></text>
<text transform="translate(714.9 1449.3) scale(1 1.28) rotate(-90)" text-anchor="middle" font-weight="bold"><tspan font-size="40" font-style="italic">E</tspan><tspan font-size="27" dy="7">bm</tspan></text>
<text transform="translate(1224.3 1326) scale(1 1.28)" font-size="38" text-anchor="middle" font-weight="bold">(b3)</text>
<text transform="translate(1223.5 1457.1) scale(1 1.36)" text-anchor="middle" font-weight="bold"><tspan font-size="31" font-style="italic">η</tspan><tspan font-size="31">=1</tspan></text>
<text transform="translate(1223.5 1640) scale(1 1.36)" text-anchor="middle" font-weight="bold"><tspan font-size="31" font-style="italic">η</tspan><tspan font-size="31">=0</tspan></text>
<clipPath id="clipc3"><rect x="1454.2" y="1257.8" width="485.1" height="377.5"/></clipPath>
<path d="M1462.9,1627.1 L1478.51,1588.16 L1494.12,1528.26 L1509.73,1447.4 L1525.34,1378.51 L1540.95,1339.58 L1556.56,1320.11 L1572.17,1309.63 L1587.78,1302.44 L1603.39,1298.55 L1619,1296.45 L1634.61,1295.25 L1650.22,1294.95 L1665.83,1295.55 L1681.44,1296.75 L1697.05,1297.95 L1728.27,1300.64 L1775.1,1305.14 L1821.93,1310.83 L1868.76,1317.72 L1899.98,1322.51 L1931.2,1328.5" fill="none" stroke="#5b80bd" stroke-width="3" stroke-linejoin="round" stroke-dasharray="8.8 4.2" clip-path="url(#clipc3)"/>
<path d="M1462.9,1627.1 L1572.17,1627.1 L1587.78,1612.12 L1603.39,1561.51 L1619,1511.79 L1634.61,1462.38 L1650.22,1423.74 L1665.83,1390.49 L1681.44,1363.54 L1697.05,1344.07 L1712.66,1332.09 L1728.27,1328.5 L1743.88,1331.79 L1759.49,1341.68 L1775.1,1356.95 L1790.71,1374.32 L1806.32,1394.69 L1821.93,1415.05 L1837.54,1436.62 L1853.15,1458.18 L1868.76,1479.75 L1884.37,1500.11 L1899.98,1518.38 L1915.59,1535.75 L1931.2,1551.93" fill="none" stroke="#e19c24" stroke-width="3" stroke-linejoin="round" clip-path="url(#clipc3)"/>
<path d="M1462.9 1635.3v-7M1462.9 1257.8v7M1478.51 1635.3v-4.5M1478.51 1257.8v4.5M1494.12 1635.3v-4.5M1494.12 1257.8v4.5M1509.73 1635.3v-4.5M1509.73 1257.8v4.5M1525.34 1635.3v-4.5M1525.34 1257.8v4.5M1540.95 1635.3v-7M1540.95 1257.8v7M1556.56 1635.3v-4.5M1556.56 1257.8v4.5M1572.17 1635.3v-4.5M1572.17 1257.8v4.5M1587.78 1635.3v-4.5M1587.78 1257.8v4.5M1603.39 1635.3v-4.5M1603.39 1257.8v4.5M1619 1635.3v-7M1619 1257.8v7M1634.61 1635.3v-4.5M1634.61 1257.8v4.5M1650.22 1635.3v-4.5M1650.22 1257.8v4.5M1665.83 1635.3v-4.5M1665.83 1257.8v4.5M1681.44 1635.3v-4.5M1681.44 1257.8v4.5M1697.05 1635.3v-7M1697.05 1257.8v7M1712.66 1635.3v-4.5M1712.66 1257.8v4.5M1728.27 1635.3v-4.5M1728.27 1257.8v4.5M1743.88 1635.3v-4.5M1743.88 1257.8v4.5M1759.49 1635.3v-4.5M1759.49 1257.8v4.5M1775.1 1635.3v-7M1775.1 1257.8v7M1790.71 1635.3v-4.5M1790.71 1257.8v4.5M1806.32 1635.3v-4.5M1806.32 1257.8v4.5M1821.93 1635.3v-4.5M1821.93 1257.8v4.5M1837.54 1635.3v-4.5M1837.54 1257.8v4.5M1853.15 1635.3v-7M1853.15 1257.8v7M1868.76 1635.3v-4.5M1868.76 1257.8v4.5M1884.37 1635.3v-4.5M1884.37 1257.8v4.5M1899.98 1635.3v-4.5M1899.98 1257.8v4.5M1915.59 1635.3v-4.5M1915.59 1257.8v4.5M1931.2 1635.3v-7M1931.2 1257.8v7M1454.2 1627.1h7M1939.3 1627.1h-7M1454.2 1612.12h4.5M1939.3 1612.12h-4.5M1454.2 1597.15h4.5M1939.3 1597.15h-4.5M1454.2 1582.17h4.5M1939.3 1582.17h-4.5M1454.2 1567.2h7M1939.3 1567.2h-7M1454.2 1552.22h4.5M1939.3 1552.22h-4.5M1454.2 1537.25h4.5M1939.3 1537.25h-4.5M1454.2 1522.27h4.5M1939.3 1522.27h-4.5M1454.2 1507.3h7M1939.3 1507.3h-7M1454.2 1492.32h4.5M1939.3 1492.32h-4.5M1454.2 1477.35h4.5M1939.3 1477.35h-4.5M1454.2 1462.38h4.5M1939.3 1462.38h-4.5M1454.2 1447.4h7M1939.3 1447.4h-7M1454.2 1432.42h4.5M1939.3 1432.42h-4.5M1454.2 1417.45h4.5M1939.3 1417.45h-4.5M1454.2 1402.47h4.5M1939.3 1402.47h-4.5M1454.2 1387.5h7M1939.3 1387.5h-7M1454.2 1372.52h4.5M1939.3 1372.52h-4.5M1454.2 1357.55h4.5M1939.3 1357.55h-4.5M1454.2 1342.57h4.5M1939.3 1342.57h-4.5M1454.2 1327.6h7M1939.3 1327.6h-7M1454.2 1312.62h4.5M1939.3 1312.62h-4.5M1454.2 1297.65h4.5M1939.3 1297.65h-4.5M1454.2 1282.67h4.5M1939.3 1282.67h-4.5M1454.2 1267.7h7M1939.3 1267.7h-7" stroke="#000" stroke-width="3.4" fill="none"/>
<rect x="1454.2" y="1257.8" width="485.1" height="377.5" fill="none" stroke="#000" stroke-width="3.8"/>
<text transform="translate(1462.9 1680) scale(1 1.345)" font-size="29.5" text-anchor="middle" font-weight="bold">0.0</text>
<text transform="translate(1540.95 1680) scale(1 1.345)" font-size="29.5" text-anchor="middle" font-weight="bold">0.5</text>
<text transform="translate(1619 1680) scale(1 1.345)" font-size="29.5" text-anchor="middle" font-weight="bold">1.0</text>
<text transform="translate(1697.05 1680) scale(1 1.345)" font-size="29.5" text-anchor="middle" font-weight="bold">1.5</text>
<text transform="translate(1775.1 1680) scale(1 1.345)" font-size="29.5" text-anchor="middle" font-weight="bold">2.0</text>
<text transform="translate(1853.15 1680) scale(1 1.345)" font-size="29.5" text-anchor="middle" font-weight="bold">2.5</text>
<text transform="translate(1931.2 1680) scale(1 1.345)" font-size="29.5" text-anchor="middle" font-weight="bold">3.0</text>
<text transform="translate(1448 1642.55) scale(1 1.345)" font-size="29.5" text-anchor="end" font-weight="bold">0.0</text>
<text transform="translate(1448 1582.65) scale(1 1.345)" font-size="29.5" text-anchor="end" font-weight="bold">0.2</text>
<text transform="translate(1448 1522.75) scale(1 1.345)" font-size="29.5" text-anchor="end" font-weight="bold">0.4</text>
<text transform="translate(1448 1462.85) scale(1 1.345)" font-size="29.5" text-anchor="end" font-weight="bold">0.6</text>
<text transform="translate(1448 1402.95) scale(1 1.345)" font-size="29.5" text-anchor="end" font-weight="bold">0.8</text>
<text transform="translate(1448 1343.05) scale(1 1.345)" font-size="29.5" text-anchor="end" font-weight="bold">1.0</text>
<text transform="translate(1448 1283.15) scale(1 1.345)" font-size="29.5" text-anchor="end" font-weight="bold">1.2</text>
<text transform="translate(1697 1741) scale(1 1.2)" text-anchor="middle" font-weight="bold"><tspan font-size="41" font-style="italic">g</tspan><tspan font-size="28" dy="5">am</tspan><tspan font-size="41" dy="-5">/</tspan><tspan font-size="41" font-style="italic">ω</tspan><tspan font-size="28" font-style="italic" dy="5">b</tspan></text>
<text transform="translate(1389 1446.5) scale(1 1.28) rotate(-90)" text-anchor="middle" font-weight="bold"><tspan font-size="40" font-style="italic">E</tspan><tspan font-size="27" dy="7">bm</tspan></text>
<text transform="translate(1508.2 1315.5) scale(1 1.28)" font-size="38" text-anchor="middle" font-weight="bold">(c3)</text>
<text transform="translate(1889 1341.8) scale(1 1.36)" text-anchor="middle" font-weight="bold"><tspan font-size="31" font-style="italic">η</tspan><tspan font-size="31">=1</tspan></text>
<text transform="translate(1890 1565.5) scale(1 1.36)" text-anchor="middle" font-weight="bold"><tspan font-size="31" font-style="italic">η</tspan><tspan font-size="31">=0</tspan></text></svg></div></body></html>
